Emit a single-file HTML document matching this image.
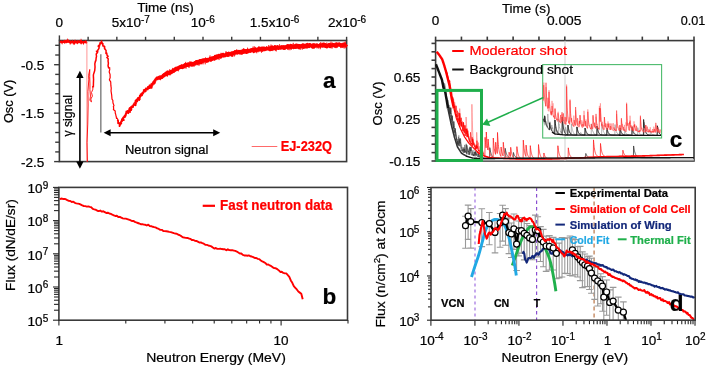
<!DOCTYPE html>
<html><head><meta charset="utf-8"><style>
html,body{margin:0;padding:0;background:#fff;width:708px;height:367px;overflow:hidden}
svg{display:block;will-change:transform}
text{font-family:"Liberation Sans", sans-serif;stroke:#000;stroke-width:0.22px}
</style></head><body>
<svg width="708" height="367" viewBox="0 0 708 367" font-family='"Liberation Sans", sans-serif'>
<rect width="708" height="367" fill="#fff"/>
<rect x="59.4" y="40.5" width="287.2" height="121.1" fill="none" stroke="#3a3a3a" stroke-width="1.6"/>
<line x1="59.4" y1="35.4" x2="59.4" y2="40.5" stroke="#3a3a3a" stroke-width="1.4" />
<line x1="88.12" y1="36.8" x2="88.12" y2="40.5" stroke="#3a3a3a" stroke-width="1.4" />
<line x1="116.84" y1="36.8" x2="116.84" y2="40.5" stroke="#3a3a3a" stroke-width="1.4" />
<line x1="145.56" y1="36.8" x2="145.56" y2="40.5" stroke="#3a3a3a" stroke-width="1.4" />
<line x1="174.28" y1="36.8" x2="174.28" y2="40.5" stroke="#3a3a3a" stroke-width="1.4" />
<line x1="203" y1="36.8" x2="203" y2="40.5" stroke="#3a3a3a" stroke-width="1.4" />
<line x1="231.72" y1="36.8" x2="231.72" y2="40.5" stroke="#3a3a3a" stroke-width="1.4" />
<line x1="260.44" y1="36.8" x2="260.44" y2="40.5" stroke="#3a3a3a" stroke-width="1.4" />
<line x1="289.16" y1="36.8" x2="289.16" y2="40.5" stroke="#3a3a3a" stroke-width="1.4" />
<line x1="317.88" y1="36.8" x2="317.88" y2="40.5" stroke="#3a3a3a" stroke-width="1.4" />
<line x1="346.6" y1="36.8" x2="346.6" y2="40.5" stroke="#3a3a3a" stroke-width="1.4" />
<line x1="54.1" y1="161.6" x2="59.4" y2="161.6" stroke="#3a3a3a" stroke-width="1.4" />
<line x1="55.2" y1="151.91" x2="59.4" y2="151.91" stroke="#3a3a3a" stroke-width="1.4" />
<line x1="55.2" y1="142.22" x2="59.4" y2="142.22" stroke="#3a3a3a" stroke-width="1.4" />
<line x1="55.2" y1="132.53" x2="59.4" y2="132.53" stroke="#3a3a3a" stroke-width="1.4" />
<line x1="55.2" y1="122.84" x2="59.4" y2="122.84" stroke="#3a3a3a" stroke-width="1.4" />
<line x1="54.1" y1="113.15" x2="59.4" y2="113.15" stroke="#3a3a3a" stroke-width="1.4" />
<line x1="55.2" y1="103.46" x2="59.4" y2="103.46" stroke="#3a3a3a" stroke-width="1.4" />
<line x1="55.2" y1="93.77" x2="59.4" y2="93.77" stroke="#3a3a3a" stroke-width="1.4" />
<line x1="55.2" y1="84.08" x2="59.4" y2="84.08" stroke="#3a3a3a" stroke-width="1.4" />
<line x1="55.2" y1="74.39" x2="59.4" y2="74.39" stroke="#3a3a3a" stroke-width="1.4" />
<line x1="54.1" y1="64.7" x2="59.4" y2="64.7" stroke="#3a3a3a" stroke-width="1.4" />
<line x1="55.2" y1="55.01" x2="59.4" y2="55.01" stroke="#3a3a3a" stroke-width="1.4" />
<line x1="55.2" y1="45.32" x2="59.4" y2="45.32" stroke="#3a3a3a" stroke-width="1.4" />
<text x="59.2" y="26.8" font-size="13.5" text-anchor="middle" fill="#000" font-weight="normal" style="stroke:#000" >0</text>
<text x="130.8" y="26.8" font-size="13.5" text-anchor="middle" fill="#000" font-weight="normal" style="stroke:#000" >5x10<tspan dy="-4.3" font-size="10">-7</tspan></text>
<text x="202.8" y="26.8" font-size="13.5" text-anchor="middle" fill="#000" font-weight="normal" style="stroke:#000" >10<tspan dy="-4.3" font-size="10">-6</tspan></text>
<text x="274.6" y="26.8" font-size="13.5" text-anchor="middle" fill="#000" font-weight="normal" style="stroke:#000" >1.5x10<tspan dy="-4.3" font-size="10">-6</tspan></text>
<text x="347" y="26.8" font-size="13.5" text-anchor="middle" fill="#000" font-weight="normal" style="stroke:#000" >2x10<tspan dy="-4.3" font-size="10">-6</tspan></text>
<text x="165.5" y="11.6" font-size="13.5" text-anchor="middle" fill="#000" font-weight="normal" textLength="56.5" lengthAdjust="spacingAndGlyphs" style="stroke:#000" >Time (ns)</text>
<text x="44.4" y="69.8" font-size="13.5" text-anchor="end" fill="#000" font-weight="normal" textLength="23.4" lengthAdjust="spacingAndGlyphs" style="stroke:#000" >-0.5</text>
<text x="44.4" y="118.1" font-size="13.5" text-anchor="end" fill="#000" font-weight="normal" textLength="23.4" lengthAdjust="spacingAndGlyphs" style="stroke:#000" >-1.5</text>
<text x="44.4" y="166.5" font-size="13.5" text-anchor="end" fill="#000" font-weight="normal" textLength="23.4" lengthAdjust="spacingAndGlyphs" style="stroke:#000" >-2.5</text>
<text transform="translate(13.3,101.4) rotate(-90)" font-size="13.5" text-anchor="middle" textLength="43.4" lengthAdjust="spacingAndGlyphs">Osc (V)</text>
<polyline points="59.9,42 60.2,42.13 60.5,41.88 60.8,41.6 61.1,41.8 61.4,41.55 61.7,42.03 62,42.6 62.3,41.78 62.6,41.72 62.9,42.22 63.2,42.16 63.5,42.05 63.8,41.58 64.1,41.99 64.4,42.31 64.7,41.4 65,41.79 65.3,41.14 65.6,41.42 65.9,41.17 66.2,41.89 66.5,41.43 66.8,42.12 67.1,42.07 67.4,41.92 67.7,40.92 68,41.76 68.3,41.98 68.6,42.05 68.9,41.31 69.2,41.79 69.5,41.56 69.8,41.64 70.1,42.48 70.4,41.64 70.7,41.99 71,42.4 71.3,41.74 71.6,41.95 71.9,42.05 72.2,42.03 72.5,41.45 72.8,42.03 73.1,42.61 73.4,41.3 73.7,42.39 74,42.05 74.3,41.71 74.6,42.9 74.9,42.34 75.2,41.46 75.5,42.03 75.8,42.26 76.1,41.92 76.4,42.31 76.7,41.97 77,42.3 77.3,42.65 77.6,41.7 77.9,42.09 78.2,41.79 78.5,42.06 78.8,41.47 79.1,41.74 79.4,41.91 79.7,42.4 80,42.52 80.3,41.4 80.6,41.64 80.9,42.29 81.2,41.1 81.5,41.79 81.8,41.96 82.1,42.57 82.4,42.31 82.7,41.85 83,41.83 83.3,41.89 83.6,42.69 83.9,41.81 84.2,41.86 84.5,42.16 84.8,41.95 85.1,41.91 85.4,41.5 85.7,41.99 86,41.8 86.3,42.52 86.6,42.29 86.9,41.99" fill="none" stroke="#f00" stroke-width="1.8"/>
<line x1="86.9" y1="42" x2="86.9" y2="162" stroke="#f44" stroke-width="0.8" opacity="0.7"/>
<polyline points="87.43,161.7 87.03,142.5 87.76,124.07 88.12,105 87.93,91.38 88.82,79.9 88.61,75.25 89.74,69.49 89.69,76.39 89.94,83.91 89.93,89.73 90.45,96.05 89.9,100.1 90.59,101.32 91.56,101.81 90.8,99.06 92.38,96.15 91.51,92.52 92.94,89.08 92.52,85.99" fill="none" stroke="#f00" stroke-width="0.9" stroke-linejoin="round"/>
<polyline points="93.33,87.51 93.41,83.66 93.57,78.99 93.45,77.93 93.38,74.87 94.73,70.45 95.03,67.07 94.84,63.94 95.44,61.02 95.85,60.88 96.17,57.77 96.51,56.36 96.19,53.97 97.38,52.77 96.44,51.14 97.69,52.07 97.82,49.84 98.29,49.64 99.05,48.11 99.17,46.94 98.28,46.64 98.34,45.85 99.77,45.71 99.24,44.85 99.99,44.38 100.68,42.98 99.86,42.91 100,44.32 101.32,41.86 101.52,40.96 101.69,42.34 102.12,43.91 102.01,42.34 102.02,43.8 102.93,43.92 102.86,43.48 102.86,45.99 104.13,45.98 104.17,46.66 104.68,46.6 104.35,48.16 104.8,48.09 104.95,49.37 105.3,49.55 106.09,50.43 105.95,53.43 106.76,53.08 107.05,55.16 108.1,56.34 106.87,57.46 108.2,58.85 108.06,61.2 108.39,63.04 108.05,65.75 108.79,68.47" fill="none" stroke="#f00" stroke-width="1.5" stroke-linejoin="round"/>
<polyline points="109.57,67.1 109.76,69.28 109.19,71.95 110.05,74.34 110.17,77.67 109.4,79.82 110.71,81.8 110.87,85.68 111.24,88.11 111.02,90.93 111.68,95.08 112.02,99.18 112.93,100.53 112.85,101.36 113,102.99 113.99,105.62 113.35,106.59 113.72,108.03 113.38,109.47 115.21,111.02 115.23,112.96 115.51,113.7 115.7,114.4 115.75,114.57 116.1,116.35 116.19,116.54 116.51,118.47 116.92,117.97 117.88,119.53 117.75,120.4 117.77,120.21" fill="none" stroke="#f00" stroke-width="1.2" stroke-linejoin="round"/>
<polyline points="117.25,120.08 118.07,120.63 118.1,123.24 118.16,122.86 119.06,123.06 119.03,123.29 119.67,123.2 119.68,124.74 119.51,126.19 120.25,124.42 120.62,123.96 121.33,123.34 120.79,123.02 121.48,120.85 121.03,121.47 122.39,120.29 121.91,121.25 121.89,119.12 122.97,119.73 123.8,120.06 122.91,117.88 123.41,117.12 123.87,117.34 123.99,116.66 124.97,115.26 124.74,116.09 125.08,117.02 125.96,114.43 125.66,113.98 126.49,112.7 126.16,113.46 126.35,111.52 126.37,111.28 128.34,113.18 127.66,110.86 128.21,112.4 128.39,112.51 128.77,111.04 129.02,111.01 130.16,112.01 129.13,109.72 129.2,109.05 129.74,108.04 129.9,109.04 131.14,110.08 131.47,109.24 130.97,107.1 131.07,106.8 131.84,106.75 132.93,107.12 131.7,106.28 133.14,106.3 132.72,106 133.97,105.07 133.31,104.94 133.97,104.79 133.72,104.15 134.26,104.32 135.62,105.24 135.67,103.66 135.42,102.78 135.51,100.76 135.35,102.33 136.32,99.73 136.79,99.83 137.06,101.57 137.36,101.03 137.2,99.82 137.97,97.94 138.28,98.8 139.18,98.11 139.74,98.96 139.14,100.1 139.16,97.76 139.77,96.41 139.83,95.63 140.07,96.29 140.67,95.78 140.53,94.45 141.57,95.26 141.55,93.64 142.01,95.41 142.12,94.96 142.17,94.58 142.37,92.68 142.99,93.23 143.15,92.21 143.81,91.56 144,91.31 143.69,90.13 144.63,89.74 144.3,91.65 144.92,90.45 145.37,90.59 144.9,91.1 146.14,88.21 146.47,88.87 146.63,89.55 146.81,89.51 147.13,88.52 147.16,89.63 147.78,88.59 147.95,86.95 148.54,86.98 148.26,88.42 149.21,87.84 149.46,85.28 149.64,88.2 149.8,87.22 150.55,87.7 149.85,85.76 151.11,85.59 151.31,84.53 151.63,87.83 151.97,84.88 151.81,86.23 152.28,83.66 152.99,84.09 153.19,81.91 153.39,82.8 152.92,83.77 154.14,81.19 154.73,83.11 154.95,82.01 154.91,80.27 154.4,80.43 155.82,80.1 155.63,80.13 155.1,79.27 156.47,78.6 155.93,78.75 156.32,77.75 156.91,77.39 158.07,78.52 157.63,79.34 158.22,76.84 159.19,78.27 159.42,77.52 158.95,77.09 159.19,78.82 159.03,77.35 159.59,79.26" fill="none" stroke="#f00" stroke-width="1.8" stroke-linejoin="round"/>
<polyline points="159.5,78.11 159.8,78 160.1,77.76 160.4,78.1 160.7,77.11 161,77.29 161.3,77.51 161.6,77.26 161.9,77.33 162.2,76.81 162.5,76.28 162.8,76.44 163.1,75.57 163.4,75.07 163.7,76.01 164,75.51 164.3,75.52 164.6,74.32 164.9,74.82 165.2,74.52 165.5,74.21 165.8,73.32 166.1,74.12 166.4,74.57 166.7,74.13 167,73.45 167.3,73.59 167.6,73.84 167.9,72.01 168.2,73.09 168.5,73.28 168.8,73.2 169.1,73.58 169.4,73.14 169.7,72.56 170,72.41 170.3,72.51 170.6,71.67 170.9,71.78 171.2,72.12 171.5,72.52 171.8,71.27 172.1,71.17 172.4,71.15 172.7,71.6 173,70.73 173.3,71.37 173.6,69.94 173.9,70.2 174.2,70.05 174.5,70.41 174.8,70.4 175.1,68.9 175.4,69.06 175.7,69.57 176,68.89 176.3,68.28 176.6,69.48 176.9,69.04 177.2,68.89 177.5,68.22 177.8,68.87 178.1,68.04 178.4,68.6 178.7,67.38 179,67.25 179.3,67.67 179.6,67.03 179.9,67.61 180.2,67.27 180.5,66.54 180.8,66.97 181.1,66.64 181.4,67.22 181.7,66.28 182,66.28 182.3,67.07 182.6,67.52 182.9,67.29 183.2,66.15 183.5,66.13 183.8,66.74 184.1,65.74 184.4,65.18 184.7,65.67 185,65.74 185.3,64.97 185.6,64.46 185.9,64.49 186.2,65.56 186.5,64.71 186.8,64.97 187.1,65.09 187.4,65.24 187.7,64.64 188,65.02 188.3,64.19 188.6,64.4 188.9,63.96 189.2,65.07 189.5,64.36 189.8,63.89 190.1,64.03 190.4,64.03 190.7,64.46 191,63.12 191.3,63.35 191.6,63.64 191.9,65.16 192.2,64.23 192.5,63.56 192.8,63.95 193.1,64.62 193.4,63.27 193.7,63.12 194,63.93 194.3,63.45 194.6,63.47 194.9,62.74 195.2,64.03 195.5,63.84 195.8,63.13 196.1,63.13 196.4,61.54 196.7,62.97 197,62.43 197.3,62.72 197.6,62.79 197.9,62.14 198.2,61.31 198.5,62.4 198.8,61.71 199.1,61.87 199.4,61.65 199.7,61.73 200,60.54 200.3,62.47 200.6,61.86 200.9,62.28 201.2,62.7 201.5,61.52 201.8,60.41 202.1,60.86 202.4,60.61 202.7,60.94 203,61.21 203.3,59.94 203.6,61.22 203.9,60.09 204.2,61.05 204.5,60.75 204.8,60.57 205.1,60.63 205.4,60.26 205.7,60.13 206,59.42 206.3,60.28 206.6,61.27 206.9,61.26 207.2,60.78 207.5,60.33 207.8,59.44 208.1,60.58 208.4,59.61 208.7,59.51 209,59.29 209.3,59.42 209.6,59.02 209.9,59.13 210.2,58.45 210.5,58.78 210.8,60.24 211.1,58.77 211.4,58.58 211.7,58.94 212,58.95 212.3,57.78 212.6,58.22 212.9,58.79 213.2,58.32 213.5,58.14 213.8,58.89 214.1,57.48 214.4,57.83 214.7,57.39 215,58.48 215.3,56.36 215.6,57.05 215.9,57.05 216.2,57.68 216.5,57.57 216.8,57.96 217.1,56.12 217.4,57.42 217.7,56.72 218,56.42 218.3,57.06 218.6,56.11 218.9,55.34 219.2,56.29 219.5,55.53 219.8,55.96 220.1,56.5 220.4,56.38 220.7,57.07 221,55.92 221.3,55.04 221.6,55.43 221.9,55.25 222.2,55 222.5,55.91 222.8,55.18 223.1,54.31 223.4,55.83 223.7,55.27 224,55.47 224.3,55.25 224.6,55.48 224.9,55.05 225.2,55.7 225.5,55.15 225.8,55.08 226.1,55.03 226.4,53.85 226.7,54.56 227,54.44 227.3,54.66 227.6,53.66 227.9,55.4 228.2,54.42 228.5,53.57 228.8,53.21 229.1,54.01 229.4,54.07 229.7,53.63 230,54.06 230.3,53.56 230.6,54.21 230.9,53.39 231.2,53.74 231.5,54.29 231.8,55.14 232.1,52.98 232.4,53.24 232.7,52.96 233,53.87 233.3,52.65 233.6,52.99 233.9,53.2 234.2,52.57 234.5,52.53 234.8,52.75 235.1,51.72 235.4,52.05 235.7,52.61 236,52.89 236.3,52.63 236.6,51.62 236.9,52.34 237.2,53.04 237.5,52.83 237.8,52.39 238.1,51.85 238.4,52.7 238.7,51.91 239,51.5 239.3,51.66 239.6,52.95 239.9,52.15 240.2,52.67 240.5,51.64 240.8,52.45 241.1,51.49 241.4,51.71 241.7,53.25 242,52.18 242.3,51.38 242.6,51.59 242.9,51.79 243.2,52.28 243.5,51.22 243.8,50.42 244.1,51.26 244.4,51.39 244.7,51.41 245,52.09 245.3,51.45 245.6,51.7 245.9,50.51 246.2,51.65 246.5,52.35 246.8,51.51 247.1,51.16 247.4,51.06 247.7,51.99 248,50.32 248.3,50.77 248.6,51.07 248.9,51.2 249.2,50.45 249.5,50.85 249.8,50.46 250.1,50.66 250.4,50.46 250.7,49.82 251,50.45 251.3,50.94 251.6,49.8 251.9,50.19 252.2,50.69 252.5,49.61 252.8,50.32 253.1,49.53 253.4,50.8 253.7,51.47 254,51.25 254.3,49.87 254.6,50.4 254.9,49.99 255.2,49.93 255.5,50.76 255.8,49 256.1,50.38 256.4,49.67 256.7,50.51 257,49.73 257.3,49.17 257.6,49.7 257.9,49.94 258.2,49.47 258.5,49.7 258.8,49.05 259.1,48.05 259.4,49.82 259.7,49.66 260,49.29 260.3,49.22 260.6,49.77 260.9,48.85 261.2,48.67 261.5,48.96 261.8,49.76 262.1,48.19 262.4,49.71 262.7,48.59 263,48.28 263.3,49.68 263.6,48.84 263.9,48.09 264.2,48.63 264.5,49.38 264.8,49.51 265.1,48.51 265.4,48.98 265.7,49.14 266,48.3 266.3,48.88 266.6,48.62 266.9,48.29 267.2,48.29 267.5,48.6 267.8,48.55 268.1,48.17 268.4,48.23 268.7,49.13 269,48.56 269.3,48.94 269.6,49.11 269.9,48.71 270.2,49.7 270.5,47.81 270.8,48.77 271.1,48.07 271.4,49.34 271.7,49.23 272,47.01 272.3,47.57 272.6,48.53 272.9,48.58 273.2,48.52 273.5,48.01 273.8,48.3 274.1,48.39 274.4,47.93 274.7,48.57 275,46.57 275.3,48.28 275.6,47.25 275.9,48.42 276.2,47.69 276.5,47.26 276.8,48 277.1,47.2 277.4,47.17 277.7,46.76 278,47.65 278.3,47.94 278.6,48.23 278.9,47.51 279.2,48.2 279.5,47.55 279.8,47.46 280.1,47.84 280.4,48.11 280.7,47.24 281,47.28 281.3,47.31 281.6,47.43 281.9,46.82 282.2,47.96 282.5,47.08 282.8,47.57 283.1,46.78 283.4,47.47 283.7,47.46 284,46.95 284.3,48.4 284.6,47.39 284.9,48.21 285.2,47.69 285.5,46.7 285.8,46.85 286.1,47.31 286.4,47.07 286.7,47.04 287,46.81 287.3,45.88 287.6,46.81 287.9,45.59 288.2,47.12 288.5,46.44 288.8,46.43 289.1,46.7 289.4,46.97 289.7,45.93 290,45.72 290.3,46.11 290.6,45.5 290.9,46.12 291.2,47.63 291.5,46.02 291.8,47.03 292.1,45.79 292.4,46.77 292.7,46.38 293,46.51 293.3,46.87 293.6,47.56 293.9,46.6 294.2,46.53 294.5,45.85 294.8,46.76 295.1,46.25 295.4,46.88 295.7,46.35 296,47.41 296.3,45.16 296.6,46.16 296.9,46.86 297.2,46.11 297.5,45.83 297.8,46.14 298.1,45.46 298.4,46.35 298.7,47.73 299,46.94 299.3,45.58 299.6,45.71 299.9,45.98 300.2,46.82 300.5,45.71 300.8,45.78 301.1,46.71 301.4,46.69 301.7,45.93 302,45.48 302.3,45.21 302.6,45.71 302.9,44.78 303.2,46.55 303.5,45.72 303.8,46.37 304.1,47.19 304.4,46.77 304.7,45.36 305,46.56 305.3,46.72 305.6,45.57 305.9,45.44 306.2,45.93 306.5,45.03 306.8,46.86 307.1,44.52 307.4,45.29 307.7,45.78 308,45.8 308.3,46.02 308.6,46.07 308.9,45.77 309.2,46.57 309.5,44.59 309.8,45.87 310.1,45.43 310.4,45.93 310.7,45.97 311,45.28 311.3,45.43 311.6,46.28 311.9,46 312.2,45.37 312.5,46.99 312.8,47.14 313.1,44.87 313.4,45.92 313.7,47.23 314,46.19 314.3,45.84 314.6,45.57 314.9,45.36 315.2,45.55 315.5,45.33 315.8,46.1 316.1,45.4 316.4,45.36 316.7,44.9 317,45.58 317.3,45.06 317.6,45.48 317.9,46.2 318.2,45.78 318.5,45.86 318.8,45.76 319.1,45.57 319.4,45.45 319.7,45.33 320,45.96 320.3,44.84 320.6,46.29 320.9,45.5 321.2,45.03 321.5,45.18 321.8,45.06 322.1,45.56 322.4,45.02 322.7,46.14 323,44.98 323.3,44.08 323.6,44.99 323.9,44.22 324.2,45.4 324.5,46.05 324.8,45.8 325.1,44.6 325.4,44.94 325.7,46.46 326,45.58 326.3,45.39 326.6,46.01 326.9,46.84 327.2,46.14 327.5,45.44 327.8,45.57 328.1,45.72 328.4,44.98 328.7,44.7 329,45.36 329.3,44.76 329.6,45.29 329.9,45.37 330.2,46.72 330.5,44.79 330.8,45.23 331.1,45.2 331.4,45.55 331.7,45.91 332,44.98 332.3,44.78 332.6,44.28 332.9,44.71 333.2,45.58 333.5,45.28 333.8,44.64 334.1,45.02 334.4,45.25 334.7,45.53 335,44.87 335.3,45.07 335.6,44.12 335.9,44.51 336.2,46.17 336.5,43.88 336.8,44.99 337.1,45.31 337.4,44.95 337.7,44.69 338,45.13 338.3,45.16 338.6,45.11 338.9,44.02 339.2,45.06 339.5,44.63 339.8,44.8 340.1,45.26 340.4,45.51 340.7,45.65 341,44.81 341.3,45.66 341.6,45.8 341.9,45.78 342.2,45.92 342.5,45 342.8,44.97 343.1,45.57 343.4,44.25 343.7,45.19 344,44.74 344.3,44.83 344.6,44 344.9,44.5 345.2,45.02 345.5,45.56 345.8,45.62 346.1,44.97 346.4,44.9 346.7,44.51" fill="none" stroke="#f00" stroke-width="3.2" stroke-linejoin="round"/>
<polyline points="125,116.2 125.25,115.19 125.5,115.55 125.75,116.17 126,114.14 126.25,112.38 126.5,112.54 126.75,111.58 127,111.4 127.25,113.46 127.5,112.21 127.75,110.33 128,112.11 128.25,112.43 128.5,110.66 128.75,110.11 129,110.18 129.25,110.52 129.5,110.61 129.75,110.88 130,110.66 130.25,110.39 130.5,110.31 130.75,109.39 131,106.99 131.25,108.04 131.5,108.16 131.75,107.16 132,108.12 132.25,106.56 132.5,105.69 132.75,107.72 133,106.64 133.25,105.88 133.5,106.27 133.75,106.1 134,105.07 134.25,102.1 134.5,103.42 134.75,103.33 135,102.48 135.25,103.36 135.5,104.07 135.75,102.04 136,101.06 136.25,103.99 136.5,101.1 136.75,99.96 137,101.14 137.25,101 137.5,99.49 137.75,100.72 138,99.05 138.25,98.25 138.5,99.08 138.75,99.37 139,97.55 139.25,98.24 139.5,97.45 139.75,99.68 140,96.12 140.25,98.04 140.5,96.16 140.75,95.74 141,96.33 141.25,96.18 141.5,96.26 141.75,94.9 142,93.55 142.25,93.28 142.5,94.1 142.75,93.85 143,94.42 143.25,93 143.5,93.38 143.75,93.56 144,91.82 144.25,89.76 144.5,89.89 144.75,89.39 145,92.6 145.25,89.63 145.5,91.78 145.75,90.84 146,91.92 146.25,90.9 146.5,89.43 146.75,89.11 147,89.23 147.25,89.13 147.5,88.1 147.75,88.47 148,90.17 148.25,86.11 148.5,88.19 148.75,86.61 149,87.69 149.25,88.25 149.5,86.98 149.75,87.76 150,84.75 150.25,87.74 150.5,85.5 150.75,86.75 151,86.02 151.25,82.83 151.5,84.47 151.75,85.38 152,86.68 152.25,84.84 152.5,84.49 152.75,82.14 153,85.3 153.25,85.45 153.5,82.96 153.75,82.34 154,80.31 154.25,83.08 154.5,84.52 154.75,82.25 155,82.62 155.25,81.41 155.5,79.2 155.75,81.79 156,78.25 156.25,79.22 156.5,79.53 156.75,79.98 157,79.26 157.25,79.14 157.5,77.6 157.75,76.84 158,78.48 158.25,77.41 158.5,76.56 158.75,76.52 159,77.44 159.25,75.59 159.5,76.16 159.75,75.7 160,77.97 160.25,78.18 160.5,80.18 160.75,75.52 161,76.43 161.25,78.37 161.5,76.74 161.75,76.45 162,78.98 162.25,76.13 162.5,74.91 162.75,74.54 163,76.58 163.25,76.39 163.5,74.02 163.75,74.38 164,76.25 164.25,76.16 164.5,74.39 164.75,75.93 165,75.71 165.25,72.41 165.5,74.23 165.75,75.06 166,73.58 166.25,71.32 166.5,73.67 166.75,74.92 167,75.9 167.25,70.66 167.5,76.62 167.75,71.84 168,74.55 168.25,74.81 168.5,74.34 168.75,73.08 169,71.16 169.25,73.48 169.5,71.52 169.75,69.22 170,75.41 170.25,73.1 170.5,74.51 170.75,70.62 171,73.78 171.25,73.83 171.5,73.65 171.75,71.35 172,69.58 172.25,70.88 172.5,67.93 172.75,68.5 173,70.88 173.25,69.24 173.5,70.27 173.75,70.22 174,72.96 174.25,71.95 174.5,69.94 174.75,71.58 175,68.65 175.25,69.15 175.5,70.78 175.75,67.61 176,68.84 176.25,67.23 176.5,69.15 176.75,71.18 177,67.66 177.25,68.92 177.5,67.19 177.75,66.7 178,66.45 178.25,70.18 178.5,71.27 178.75,68.53 179,66.68 179.25,68.6 179.5,66.97 179.75,68.49 180,67.62 180.25,67.52 180.5,67.91 180.75,66.1 181,66.27 181.25,64.26 181.5,66.04 181.75,64.52 182,66.31 182.25,65.03 182.5,66.5 182.75,66.93 183,64.09 183.25,64.9 183.5,64.62 183.75,67.03 184,68.37 184.25,67.02 184.5,65.15 184.75,67.76 185,63.25 185.25,67.67 185.5,64.4 185.75,61.88 186,68.69 186.25,67.55 186.5,63.58 186.75,65.32 187,64.68 187.25,65.09 187.5,62.64 187.75,63.78 188,65.46 188.25,65.02 188.5,66.44 188.75,64.68 189,67.99 189.25,63.35 189.5,64.77 189.75,61.39 190,62.34 190.25,66.22 190.5,62.68 190.75,64.87 191,63.91 191.25,62.33 191.5,63.34 191.75,63.02 192,63 192.25,64.85 192.5,64.63 192.75,62.67 193,62.1 193.25,63.87 193.5,63.22 193.75,64.91 194,66.83 194.25,64.5 194.5,63.07 194.75,62.79 195,61.66 195.25,61.52 195.5,61.31 195.75,62.21 196,62.1 196.25,63.88 196.5,62.03 196.75,62.29 197,60.62 197.25,65.08 197.5,63.23 197.75,65.2 198,63.57 198.25,64.62 198.5,61.8 198.75,63.28 199,65.74 199.25,60.07 199.5,63.84 199.75,64.62 200,62.52 200.25,63.02 200.5,63.78 200.75,60.61 201,62.29 201.25,60.14 201.5,60.4 201.75,60.44 202,61.16 202.25,61.57 202.5,62.02 202.75,58.9 203,64.4 203.25,63 203.5,62.23 203.75,60.4 204,60.78 204.25,61.77 204.5,61.49 204.75,58 205,61.91 205.25,64.3 205.5,57.52 205.75,62.1 206,61 206.25,60.13 206.5,62.49 206.75,58.22 207,60.35 207.25,62.41 207.5,59.6 207.75,59.16 208,59.96 208.25,58.96 208.5,62.16 208.75,58.05 209,60.9 209.25,57.32 209.5,60.41 209.75,59.06 210,55.47 210.25,59.06 210.5,57.24 210.75,58.19 211,61.37 211.25,56.92 211.5,56.94 211.75,60.98 212,58.72 212.25,60.99 212.5,58.91 212.75,56.85 213,58.11 213.25,60.17 213.5,59.61 213.75,57.99 214,57.99 214.25,57.65 214.5,56.8 214.75,60.85 215,57.61 215.25,55.67 215.5,56.69 215.75,58.6 216,58.4 216.25,57.05 216.5,56.11 216.75,57.18 217,54.33 217.25,54.87 217.5,58.26 217.75,56.1 218,57.44 218.25,58.76 218.5,57.76 218.75,56.66 219,60.06 219.25,57.59 219.5,55.85 219.75,57.57 220,56.97 220.25,54.83 220.5,56.29 220.75,55.83 221,52.81 221.25,55.69 221.5,55.44 221.75,55.12 222,53.07 222.25,55.13 222.5,55.58 222.75,55.75 223,53.65 223.25,56.5 223.5,53.39 223.75,54.96 224,57.41 224.25,54.06 224.5,54.29 224.75,56.83 225,54.37 225.25,54.46 225.5,55.26 225.75,56.58 226,51.18 226.25,53.39 226.5,53.04 226.75,52.87 227,53.2 227.25,53.17 227.5,54.99 227.75,52.99 228,54.6 228.25,55.01 228.5,53.1 228.75,54.46 229,56.88 229.25,54.68 229.5,53.06 229.75,53.94 230,52.5 230.25,54.39 230.5,55.31 230.75,52.51 231,53.46 231.25,55.57 231.5,52.89 231.75,53.96 232,51.93 232.25,52.21 232.5,52.66 232.75,56.93 233,52.75 233.25,52.5 233.5,52.4 233.75,52.99 234,54.25 234.25,53.45 234.5,56.39 234.75,53.39 235,55.32 235.25,53.39 235.5,53.87 235.75,50.54 236,52.6 236.25,52.64 236.5,52.31 236.75,49.21 237,54.01 237.25,51.93 237.5,51.8 237.75,52.04 238,52.04 238.25,53 238.5,50.27 238.75,50.76 239,52.67 239.25,52.38 239.5,51.5 239.75,51.13 240,50.66 240.25,51.87 240.5,53.82 240.75,50.2 241,54.3 241.25,53.18 241.5,51.07 241.75,53.01 242,49.37 242.25,48.91 242.5,49.59 242.75,50.96 243,51.06 243.25,50.72 243.5,51.67 243.75,48.06 244,52.23 244.25,49.13 244.5,50.31 244.75,50.67 245,49.45 245.25,49.07 245.5,49.62 245.75,51.18 246,52.1 246.25,52.03 246.5,49.5 246.75,49.79 247,49.55 247.25,51.7 247.5,47.69 247.75,52.9 248,50.1 248.25,49.59 248.5,51.35 248.75,52.43 249,51.29 249.25,52.39 249.5,50.88 249.75,52.6 250,52.59 250.25,50.41 250.5,52.83 250.75,50.76 251,50.6 251.25,48.95 251.5,49.93 251.75,51.6 252,48.22 252.25,51.32 252.5,50.81 252.75,50.66 253,46.65 253.25,49.98 253.5,51.15 253.75,48.85 254,50.18 254.25,46.33 254.5,51.04 254.75,48.88 255,51.29 255.25,46.92 255.5,50.94 255.75,49.42 256,51.05 256.25,48.24 256.5,48.7 256.75,53.24 257,48.29 257.25,48.46 257.5,49.11 257.75,47.88 258,51.38 258.25,52.21 258.5,48.28 258.75,46.61 259,51.22 259.25,51.08 259.5,50.58 259.75,51.09 260,47.81 260.25,48.91 260.5,46.94 260.75,46.87 261,50.68 261.25,48.02 261.5,52.72 261.75,49.17 262,48.01 262.25,50.29 262.5,51.87 262.75,49.74 263,47 263.25,49.52 263.5,51.1 263.75,48.09 264,47.62 264.25,50.47 264.5,49.04 264.75,47.03 265,48.17 265.25,47.54 265.5,49.21 265.75,48.89 266,50.53 266.25,49.8 266.5,46.15 266.75,49.28 267,50.04 267.25,49.31 267.5,50.21 267.75,47.66 268,47 268.25,49.99 268.5,46.77 268.75,45 269,50.08 269.25,47.26 269.5,47.9 269.75,46.13 270,46.23 270.25,46.48 270.5,47.73 270.75,48.88 271,44.59 271.25,49.45 271.5,46.33 271.75,46.5 272,49.26 272.25,48.04 272.5,45.68 272.75,51.07 273,46.72 273.25,48.47 273.5,48.37 273.75,50.29 274,47.28 274.25,49.6 274.5,46.78 274.75,49.74 275,46.7 275.25,47.32 275.5,50.92 275.75,48.37 276,48.02 276.25,51.41 276.5,48.38 276.75,46.47 277,48.93 277.25,45.84 277.5,49.52 277.75,49.62 278,46.75 278.25,46.64 278.5,47.91 278.75,47.63 279,46.02 279.25,48.47 279.5,44.28 279.75,46.83 280,46.85 280.25,47.04 280.5,47.95 280.75,45.48 281,48.37 281.25,47.12 281.5,46.35 281.75,45.18 282,45.46 282.25,47.91 282.5,45.77 282.75,47.4 283,48.98 283.25,48.91 283.5,49.74 283.75,46.75 284,45.47 284.25,48.82 284.5,47.67 284.75,48.95 285,47.15 285.25,49.03 285.5,48.45 285.75,48.22 286,47.87 286.25,47.68 286.5,47.4 286.75,47.37 287,48.57 287.25,46.15 287.5,49.73 287.75,46.76 288,48.49 288.25,46.75 288.5,46.48 288.75,50.11 289,46.35 289.25,44.78 289.5,45.66 289.75,46.28 290,50.21 290.25,47.08 290.5,48.23 290.75,45.11 291,47.26 291.25,47.75 291.5,49.54 291.75,45.52 292,47.59 292.25,47.09 292.5,44.95 292.75,46.53 293,46.13 293.25,42.85 293.5,47.47 293.75,47.36 294,45.77 294.25,44.31 294.5,48.8 294.75,46.84 295,48.03 295.25,48.65 295.5,45.55 295.75,47.67 296,45.98 296.25,46.25 296.5,46.21 296.75,46.33 297,48.11 297.25,46.52 297.5,46.06 297.75,45.86 298,46.84 298.25,44.85 298.5,45.47 298.75,46.18 299,45.35 299.25,46.06 299.5,45.26 299.75,49.44 300,48.35 300.25,46.93 300.5,46.12 300.75,49.7 301,46.7 301.25,46.04 301.5,46.65 301.75,46.65 302,48.4 302.25,46.11 302.5,49.49 302.75,44.71 303,47.22 303.25,44.5 303.5,49 303.75,45.56 304,45.98 304.25,47.55 304.5,48.07 304.75,44.27 305,45.49 305.25,43.8 305.5,46.24 305.75,45.85 306,45.45 306.25,44.9 306.5,45.37 306.75,44.78 307,46.81 307.25,48.38 307.5,42.86 307.75,45.76 308,45.26 308.25,46.71 308.5,44.39 308.75,45.67 309,44.23 309.25,47 309.5,46.04 309.75,45.61 310,46.45 310.25,45.46 310.5,43.36 310.75,46.79 311,46.29 311.25,45.57 311.5,47.38 311.75,47.75 312,44.04 312.25,44.53 312.5,48.25 312.75,48.03 313,44.57 313.25,43.85 313.5,44.71 313.75,44.93 314,43.18 314.25,45.76 314.5,43.65 314.75,43.75 315,47.15 315.25,44.58 315.5,45.55 315.75,46.66 316,46.95 316.25,45.1 316.5,45.7 316.75,44.3 317,48.4 317.25,46.64 317.5,43.82 317.75,45.59 318,46.71 318.25,46.33 318.5,48.48 318.75,47.74 319,44.67 319.25,45.38 319.5,43.47 319.75,45.91 320,45.74 320.25,49.18 320.5,45.65 320.75,42.14 321,44.41 321.25,45.66 321.5,43.46 321.75,44.08 322,44.88 322.25,46.01 322.5,45.19 322.75,44.03 323,46.7 323.25,44.58 323.5,44.64 323.75,43.22 324,44.17 324.25,46.46 324.5,42.83 324.75,45.3 325,46.56 325.25,44.8 325.5,45.78 325.75,43.61 326,47.49 326.25,47.15 326.5,45.76 326.75,42.57 327,43.7 327.25,46.93 327.5,48.1 327.75,45.83 328,47.35 328.25,44.37 328.5,45.04 328.75,45.34 329,46.01 329.25,42.88 329.5,46.83 329.75,47.44 330,43.48 330.25,43.14 330.5,45.87 330.75,44.25 331,41.62 331.25,46.59 331.5,45.54 331.75,44.52 332,48.66 332.25,45.5 332.5,44.06 332.75,45.43 333,43.6 333.25,44.04 333.5,45.87 333.75,44.36 334,44.52 334.25,47.91 334.5,46.61 334.75,46.51 335,46.07 335.25,45.99 335.5,47.54 335.75,45.18 336,48.17 336.25,43.68 336.5,44.79 336.75,42.98 337,44.64 337.25,46.01 337.5,47.5 337.75,44.11 338,45.18 338.25,44.59 338.5,43.98 338.75,43.25 339,45.25 339.25,42.37 339.5,45.32 339.75,45.17 340,44.08 340.25,43.51 340.5,42.91 340.75,48.11 341,42.96 341.25,47.6 341.5,46.06 341.75,44.51 342,43.24 342.25,46.76 342.5,47.85 342.75,43.58 343,44.6 343.25,46.75 343.5,45.6 343.75,48.26 344,44.14 344.25,45.92 344.5,43.04 344.75,48.4 345,43.87 345.25,41.5 345.5,44.83 345.75,44.8 346,48.08 346.25,44.47 346.5,44.99 346.75,45.95" fill="none" stroke="#f00" stroke-width="0.6"/>
<line x1="100.8" y1="54.3" x2="100.8" y2="132.6" stroke="#8c8c8c" stroke-width="1.6" />
<line x1="79.9" y1="76" x2="79.9" y2="163" stroke="#000" stroke-width="1.6" />
<polygon points="79.9,70.7 76.2,78 83.6,78" fill="#000"/>
<polygon points="79.9,168.7 76.2,161.4 83.6,161.4" fill="#000"/>
<text transform="translate(72.4,115.8) rotate(-90)" font-size="12.4" text-anchor="middle" textLength="41.6" lengthAdjust="spacingAndGlyphs">γ signal</text>
<line x1="109" y1="132.7" x2="214" y2="132.7" stroke="#000" stroke-width="1.6" />
<polygon points="103.6,132.7 110.6,129.2 110.6,136.2" fill="#000"/>
<polygon points="220.2,132.7 213.2,129.2 213.2,136.2" fill="#000"/>
<text x="124.9" y="153.8" font-size="12.5" text-anchor="start" fill="#000" font-weight="normal" textLength="83.4" lengthAdjust="spacingAndGlyphs" style="stroke:#000" >Neutron signal</text>
<line x1="251.7" y1="146.5" x2="277.3" y2="146.5" stroke="#f44" stroke-width="0.8" />
<text x="280.7" y="150.8" font-size="14.2" text-anchor="start" fill="#f00" font-weight="bold" textLength="51.3" lengthAdjust="spacingAndGlyphs" style="stroke:#f00" >EJ-232Q</text>
<text x="323" y="87.9" font-size="22.5" text-anchor="start" fill="#000" font-weight="bold" style="stroke:#000" >a</text>
<rect x="58.9" y="187.4" width="288.6" height="132.8" fill="none" stroke="#3a3a3a" stroke-width="1.6"/>
<line x1="53" y1="320.2" x2="58.9" y2="320.2" stroke="#262626" stroke-width="1.1" />
<line x1="54" y1="310.21" x2="58.9" y2="310.21" stroke="#262626" stroke-width="1.1" />
<line x1="54" y1="304.36" x2="58.9" y2="304.36" stroke="#262626" stroke-width="1.1" />
<line x1="54" y1="300.21" x2="58.9" y2="300.21" stroke="#262626" stroke-width="1.1" />
<line x1="54" y1="296.99" x2="58.9" y2="296.99" stroke="#262626" stroke-width="1.1" />
<line x1="54" y1="294.37" x2="58.9" y2="294.37" stroke="#262626" stroke-width="1.1" />
<line x1="54" y1="292.14" x2="58.9" y2="292.14" stroke="#262626" stroke-width="1.1" />
<line x1="54" y1="290.22" x2="58.9" y2="290.22" stroke="#262626" stroke-width="1.1" />
<line x1="54" y1="288.52" x2="58.9" y2="288.52" stroke="#262626" stroke-width="1.1" />
<line x1="53" y1="287" x2="58.9" y2="287" stroke="#262626" stroke-width="1.1" />
<line x1="54" y1="277.01" x2="58.9" y2="277.01" stroke="#262626" stroke-width="1.1" />
<line x1="54" y1="271.16" x2="58.9" y2="271.16" stroke="#262626" stroke-width="1.1" />
<line x1="54" y1="267.01" x2="58.9" y2="267.01" stroke="#262626" stroke-width="1.1" />
<line x1="54" y1="263.79" x2="58.9" y2="263.79" stroke="#262626" stroke-width="1.1" />
<line x1="54" y1="261.17" x2="58.9" y2="261.17" stroke="#262626" stroke-width="1.1" />
<line x1="54" y1="258.94" x2="58.9" y2="258.94" stroke="#262626" stroke-width="1.1" />
<line x1="54" y1="257.02" x2="58.9" y2="257.02" stroke="#262626" stroke-width="1.1" />
<line x1="54" y1="255.32" x2="58.9" y2="255.32" stroke="#262626" stroke-width="1.1" />
<line x1="53" y1="253.8" x2="58.9" y2="253.8" stroke="#262626" stroke-width="1.1" />
<line x1="54" y1="243.81" x2="58.9" y2="243.81" stroke="#262626" stroke-width="1.1" />
<line x1="54" y1="237.96" x2="58.9" y2="237.96" stroke="#262626" stroke-width="1.1" />
<line x1="54" y1="233.81" x2="58.9" y2="233.81" stroke="#262626" stroke-width="1.1" />
<line x1="54" y1="230.59" x2="58.9" y2="230.59" stroke="#262626" stroke-width="1.1" />
<line x1="54" y1="227.97" x2="58.9" y2="227.97" stroke="#262626" stroke-width="1.1" />
<line x1="54" y1="225.74" x2="58.9" y2="225.74" stroke="#262626" stroke-width="1.1" />
<line x1="54" y1="223.82" x2="58.9" y2="223.82" stroke="#262626" stroke-width="1.1" />
<line x1="54" y1="222.12" x2="58.9" y2="222.12" stroke="#262626" stroke-width="1.1" />
<line x1="53" y1="220.6" x2="58.9" y2="220.6" stroke="#262626" stroke-width="1.1" />
<line x1="54" y1="210.61" x2="58.9" y2="210.61" stroke="#262626" stroke-width="1.1" />
<line x1="54" y1="204.76" x2="58.9" y2="204.76" stroke="#262626" stroke-width="1.1" />
<line x1="54" y1="200.61" x2="58.9" y2="200.61" stroke="#262626" stroke-width="1.1" />
<line x1="54" y1="197.39" x2="58.9" y2="197.39" stroke="#262626" stroke-width="1.1" />
<line x1="54" y1="194.77" x2="58.9" y2="194.77" stroke="#262626" stroke-width="1.1" />
<line x1="54" y1="192.54" x2="58.9" y2="192.54" stroke="#262626" stroke-width="1.1" />
<line x1="54" y1="190.62" x2="58.9" y2="190.62" stroke="#262626" stroke-width="1.1" />
<line x1="54" y1="188.92" x2="58.9" y2="188.92" stroke="#262626" stroke-width="1.1" />
<line x1="53" y1="187.4" x2="58.9" y2="187.4" stroke="#262626" stroke-width="1.1" />
<line x1="58.9" y1="320.2" x2="58.9" y2="325.5" stroke="#262626" stroke-width="1.1" />
<line x1="125.79" y1="320.2" x2="125.79" y2="323.5" stroke="#262626" stroke-width="1.1" />
<line x1="164.92" y1="320.2" x2="164.92" y2="323.5" stroke="#262626" stroke-width="1.1" />
<line x1="192.68" y1="320.2" x2="192.68" y2="323.5" stroke="#262626" stroke-width="1.1" />
<line x1="214.21" y1="320.2" x2="214.21" y2="323.5" stroke="#262626" stroke-width="1.1" />
<line x1="231.81" y1="320.2" x2="231.81" y2="323.5" stroke="#262626" stroke-width="1.1" />
<line x1="246.68" y1="320.2" x2="246.68" y2="323.5" stroke="#262626" stroke-width="1.1" />
<line x1="259.57" y1="320.2" x2="259.57" y2="323.5" stroke="#262626" stroke-width="1.1" />
<line x1="270.93" y1="320.2" x2="270.93" y2="323.5" stroke="#262626" stroke-width="1.1" />
<line x1="281.1" y1="320.2" x2="281.1" y2="325.5" stroke="#262626" stroke-width="1.1" />
<line x1="347.99" y1="320.2" x2="347.99" y2="323.5" stroke="#262626" stroke-width="1.1" />
<text x="42.6" y="326" font-size="13.5" text-anchor="end">10</text>
<text x="42.7" y="321.5" font-size="10">5</text>
<text x="42.6" y="292.8" font-size="13.5" text-anchor="end">10</text>
<text x="42.7" y="288.3" font-size="10">6</text>
<text x="42.6" y="259.6" font-size="13.5" text-anchor="end">10</text>
<text x="42.7" y="255.1" font-size="10">7</text>
<text x="42.6" y="226.4" font-size="13.5" text-anchor="end">10</text>
<text x="42.7" y="221.9" font-size="10">8</text>
<text x="42.6" y="193.2" font-size="13.5" text-anchor="end">10</text>
<text x="42.7" y="188.7" font-size="10">9</text>
<text x="59.2" y="345" font-size="13.5" text-anchor="middle" fill="#000" font-weight="normal" style="stroke:#000" >1</text>
<text x="281" y="345" font-size="13.5" text-anchor="middle" fill="#000" font-weight="normal" style="stroke:#000" >10</text>
<text x="146.3" y="362.3" font-size="13.5" text-anchor="start" fill="#000" font-weight="normal" textLength="139.5" lengthAdjust="spacingAndGlyphs" style="stroke:#000" >Neutron Energy (MeV)</text>
<text transform="translate(14.9,245.1) rotate(-90)" font-size="13.5" text-anchor="middle" textLength="91.6" lengthAdjust="spacingAndGlyphs">Flux (dN/dE/sr)</text>
<polyline points="59.8,198.98 61.3,198.54 62.8,198.93 64.3,198.84 65.8,199.22 67.3,200.24 68.8,200.89 70.3,201 71.8,202.03 73.3,201.64 74.8,202.83 76.3,203.33 77.8,203.59 79.3,203.95 80.8,204.68 82.3,205.46 83.8,206.01 85.3,206.12 86.8,206.58 88.3,206.37 89.8,206.85 91.3,207.26 92.8,208.96 94.3,209.42 95.8,209.76 97.3,210.75 98.8,211.12 100.3,210.58 101.8,211.66 103.3,211.28 104.8,212.11 106.3,213.02 107.8,212.71 109.3,213.48 110.8,213.97 112.3,214.71 113.8,215.29 115.3,215.99 116.8,215.8 118.3,217.07 119.8,216.82 121.3,217.65 122.8,218.35 124.3,218.66 125.8,218.6 127.3,219.12 128.8,219.63 130.3,220.19 131.8,221.02 133.3,220.83 134.8,221.89 136.3,222.46 137.8,222.98 139.3,223.49 140.8,224.21 142.3,224.2 143.8,224.6 145.3,224.8 146.8,225.47 148.3,224.65 149.8,226.1 151.3,226.21 152.8,226.78 154.3,227.15 155.8,227.45 157.3,228.47 158.8,228.95 160.3,229.88 161.8,229.86 163.3,231.08 164.8,231.09 166.3,231.29 167.8,231.51 169.3,231.84 170.8,232.09 172.3,232.62 173.8,233.14 175.3,233.52 176.8,233.78 178.3,234.76 179.8,235.2 181.3,236.15 182.8,237.29 184.3,237.55 185.8,237.91 187.3,237.96 188.8,238.47 190.3,238.84 191.8,240.01 193.3,240.01 194.8,240.71 196.3,240.97 197.8,241.65 199.3,242.5 200.8,242.44 202.3,243.18 203.8,243.68 205.3,244.82 206.8,244.89 208.3,245.49 209.8,245.91 211.3,246.4 212.8,247.46 214.3,248.58 215.8,248 217.3,248.89 218.8,248.85 220.3,248.62 221.8,249.04 223.3,249.23 224.8,249.27 226.3,250.23 227.8,249.25 229.3,250.1 230.8,250.26 232.3,250.16 233.8,250.55 235.3,250.94 236.8,251.54 238.3,252.54 239.8,253.54 241.3,253.48 242.8,254.88 244.3,255.47 245.8,255.43 247.3,255.79 248.8,255.41 250.3,256.26 251.8,256.55 253.3,257.11 254.8,258.07 256.3,258.03 257.8,258.85 259.3,259.17 260.8,260.56 262.3,261.49 263.8,262.11 265.3,262.97 266.8,264.62 268.3,264.55 269.8,265.47 271.3,266.14 272.8,267.3 274.3,268.12 275.8,268.31 277.3,269.15 278.8,270.39 280.3,271.95 281.8,271.8 283.3,272.95 284.8,273.38 286.3,273.42 287.8,275.04 289.3,276.78 290.8,280.41 292.3,282.77 293.8,286.11 295.3,287.82 296.8,289.46 298.3,291.48 299.8,292.62 301.3,293.8 302.7,299.3" fill="none" stroke="#f00" stroke-width="1.9" stroke-linejoin="round"/>
<line x1="202.7" y1="205.8" x2="215" y2="205.8" stroke="#f00" stroke-width="2.2" />
<text x="220.1" y="210.3" font-size="14.4" text-anchor="start" fill="#f00" font-weight="bold" textLength="112.4" lengthAdjust="spacingAndGlyphs" style="stroke:#f00" >Fast neutron data</text>
<text x="322.6" y="304.2" font-size="22.5" text-anchor="start" fill="#000" font-weight="bold" style="stroke:#000" >b</text>
<rect x="435.6" y="40.6" width="258.4" height="120.4" fill="none" stroke="#3a3a3a" stroke-width="1.6"/>
<line x1="565" y1="40.6" x2="565" y2="161" stroke="#cfcfcf" stroke-width="1" />
<line x1="435.6" y1="159.9" x2="694" y2="159.9" stroke="#c8c8c8" stroke-width="1.3" />
<line x1="435.6" y1="36.6" x2="435.6" y2="40.6" stroke="#3a3a3a" stroke-width="1.6" />
<line x1="461.44" y1="36.6" x2="461.44" y2="40.6" stroke="#3a3a3a" stroke-width="1.6" />
<line x1="487.28" y1="36.6" x2="487.28" y2="40.6" stroke="#3a3a3a" stroke-width="1.6" />
<line x1="513.12" y1="36.6" x2="513.12" y2="40.6" stroke="#3a3a3a" stroke-width="1.6" />
<line x1="538.96" y1="36.6" x2="538.96" y2="40.6" stroke="#3a3a3a" stroke-width="1.6" />
<line x1="564.8" y1="36.6" x2="564.8" y2="40.6" stroke="#3a3a3a" stroke-width="1.6" />
<line x1="590.64" y1="36.6" x2="590.64" y2="40.6" stroke="#3a3a3a" stroke-width="1.6" />
<line x1="616.48" y1="36.6" x2="616.48" y2="40.6" stroke="#3a3a3a" stroke-width="1.6" />
<line x1="642.32" y1="36.6" x2="642.32" y2="40.6" stroke="#3a3a3a" stroke-width="1.6" />
<line x1="668.16" y1="36.6" x2="668.16" y2="40.6" stroke="#3a3a3a" stroke-width="1.6" />
<line x1="694" y1="36.6" x2="694" y2="40.6" stroke="#3a3a3a" stroke-width="1.6" />
<line x1="431.5" y1="161" x2="435.6" y2="161" stroke="#3a3a3a" stroke-width="1.6" />
<line x1="431.5" y1="152.6" x2="435.6" y2="152.6" stroke="#3a3a3a" stroke-width="1.6" />
<line x1="431.5" y1="144.2" x2="435.6" y2="144.2" stroke="#3a3a3a" stroke-width="1.6" />
<line x1="431.5" y1="135.8" x2="435.6" y2="135.8" stroke="#3a3a3a" stroke-width="1.6" />
<line x1="431.5" y1="127.4" x2="435.6" y2="127.4" stroke="#3a3a3a" stroke-width="1.6" />
<line x1="431.5" y1="119" x2="435.6" y2="119" stroke="#3a3a3a" stroke-width="1.6" />
<line x1="431.5" y1="110.6" x2="435.6" y2="110.6" stroke="#3a3a3a" stroke-width="1.6" />
<line x1="431.5" y1="102.2" x2="435.6" y2="102.2" stroke="#3a3a3a" stroke-width="1.6" />
<line x1="431.5" y1="93.8" x2="435.6" y2="93.8" stroke="#3a3a3a" stroke-width="1.6" />
<line x1="431.5" y1="85.4" x2="435.6" y2="85.4" stroke="#3a3a3a" stroke-width="1.6" />
<line x1="431.5" y1="77" x2="435.6" y2="77" stroke="#3a3a3a" stroke-width="1.6" />
<line x1="431.5" y1="68.6" x2="435.6" y2="68.6" stroke="#3a3a3a" stroke-width="1.6" />
<line x1="431.5" y1="60.2" x2="435.6" y2="60.2" stroke="#3a3a3a" stroke-width="1.6" />
<line x1="431.5" y1="51.8" x2="435.6" y2="51.8" stroke="#3a3a3a" stroke-width="1.6" />
<line x1="431.5" y1="43.4" x2="435.6" y2="43.4" stroke="#3a3a3a" stroke-width="1.6" />
<text x="435.6" y="24.8" font-size="13.5" text-anchor="middle" fill="#000" font-weight="normal" style="stroke:#000" >0</text>
<text x="564.2" y="24.8" font-size="13.5" text-anchor="middle" fill="#000" font-weight="normal" textLength="34.6" lengthAdjust="spacingAndGlyphs" style="stroke:#000" >0.005</text>
<text x="693" y="24.8" font-size="13.5" text-anchor="middle" fill="#000" font-weight="normal" textLength="24.5" lengthAdjust="spacingAndGlyphs" style="stroke:#000" >0.01</text>
<text x="526.2" y="12.9" font-size="13.5" text-anchor="middle" fill="#000" font-weight="normal" textLength="48.5" lengthAdjust="spacingAndGlyphs" style="stroke:#000" >Time (s)</text>
<text x="420.4" y="82" font-size="13.5" text-anchor="end" fill="#000" font-weight="normal" textLength="26.7" lengthAdjust="spacingAndGlyphs" style="stroke:#000" >0.65</text>
<text x="420.4" y="123.9" font-size="13.5" text-anchor="end" fill="#000" font-weight="normal" textLength="26.7" lengthAdjust="spacingAndGlyphs" style="stroke:#000" >0.25</text>
<text x="420.4" y="165.8" font-size="13.5" text-anchor="end" fill="#000" font-weight="normal" textLength="31.2" lengthAdjust="spacingAndGlyphs" style="stroke:#000" >-0.15</text>
<text transform="translate(382.2,103.4) rotate(-90)" font-size="13.5" text-anchor="middle" textLength="44" lengthAdjust="spacingAndGlyphs">Osc (V)</text>
<polyline points="440.2,76.89 440.4,77.68 440.6,75.52 440.8,77.45 441,76.93 441.2,77.75 441.4,78.27 441.6,78.06 441.8,77.53 442,81.08 442.2,81.87 442.4,83.53 442.6,81.8 442.8,83.21 443,85.75 443.2,86.2 443.4,85.59 443.6,85.17 443.8,87.47 444,85.49 444.2,86.22 444.4,87.39 444.6,86.33 444.8,86.63 445,88.07 445.2,88.78 445.4,90.67 445.6,90.3 445.8,91.37 446,92.64 446.2,95.48 446.4,97.23 446.6,96.38 446.8,99.99 447,99.43 447.2,101.22 447.4,103.21 447.6,103.19 447.8,104.82 448,100.25 448.2,102.28 448.4,105.2 448.6,104.99 448.8,109.46 449,108.29 449.2,110.86 449.4,113.08 449.6,104.93 449.8,108.19 450,110.81 450.2,112.59 450.4,115.82 450.6,117 450.8,115.71 451,120.27 451.2,118.47 451.4,120.54 451.6,119.74 451.8,122.37 452,124.58 452.2,121.77 452.4,123.45 452.6,122.59 452.8,126.57 453,126.89 453.2,128.62 453.4,130.62 453.6,130.06 453.8,133.26 454,134.23 454.2,135.02 454.4,134.42 454.6,135.87 454.8,135.37 455,130.75 455.2,132.9 455.4,131.7 455.6,135.34 455.8,136.51 456,135.36 456.2,139.8 456.4,139.35 456.6,139.69 456.8,139.88 457,143.56 457.2,142.94 457.4,144.49 457.6,144.1 457.8,139.44 458,139.95 458.2,142.49 458.4,143.05 458.6,144.2 458.8,135.16 459,136.3 459.2,140.59 459.4,142.21 459.6,142.57 459.8,144.67 460,145.08 460.2,145.78 460.4,146.13 460.6,138.81 460.8,140.92 461,141.64 461.2,143.68 461.4,145.21 461.6,144.95 461.8,146.93 462,147.41 462.2,149.17 462.4,146.96 462.6,147.36 462.8,148.37 463,149.02 463.2,148.73 463.4,149.73 463.6,146.99 463.8,148.32 464,147.18 464.2,147.58 464.4,147.33 464.6,148.15 464.8,148.47 465,149.91 465.2,150.13 465.4,151.66 465.6,150.64 465.8,151.75 466,152.86 466.2,152.24 466.4,153.92 466.6,153.24 466.8,154.67 467,151.7 467.2,151.46 467.4,153.36 467.6,153.06 467.8,153.83 468,152.61 468.2,153.21 468.4,154.89 468.6,148.77 468.8,149.15 469,150.7 469.2,149.76 469.4,152.26 469.6,152.9 469.8,153.01 470,153.16 470.2,149.8 470.4,149.83 470.6,151.5 470.8,152.3 471,152.68 471.2,152.78 471.4,152.86 471.6,153.72 471.8,155.29 472,150.09 472.2,150.73 472.4,151.8 472.6,152.96 472.8,153.69 473,154.67 473.2,155.09 473.4,155.66 473.6,155.89 473.8,149.76 474,150.25 474.2,152.26 474.4,151.96 474.6,153.17 474.8,153.27 475,154.54 475.2,154.19 475.4,154.9 475.6,155.02 475.8,155.41 476,155.49 476.2,155.84 476.4,155.77 476.6,155.89 476.8,151.9 477,152.56 477.2,153.21 477.4,154.07 477.6,154.17 477.8,154.29 478,155.13 478.2,155.22 478.4,155.77 478.6,156.03 478.8,156.39 479,156.91 479.2,157.04 479.4,156.28 479.6,156.82 479.8,157.06 480,157.19 480.2,157.21 480.4,153.63 480.6,153.94 480.8,154.23 481,154.78 481.2,155.38 481.4,155.59 481.6,155.93 481.8,156.2 482,155.92" fill="none" stroke="#a0a0a0" stroke-width="0.7"/>
<polyline points="440.2,75.26 440.4,75.79 440.6,76.32 440.8,76.84 441,77.37 441.2,77.89 441.4,78.42 441.6,78.95 441.8,79.47 442,80 442.2,81.07 442.4,82.14 442.6,83.21 442.8,84.29 443,85.36 443.2,84.09 443.4,85.42 443.6,86.15 443.8,86.85 444,87.54 444.2,88.2 444.4,88.84 444.6,83.44 444.8,84.72 445,85.92 445.2,87.04 445.4,88.71 445.6,90.33 445.8,91.89 446,93.4 446.2,94.87 446.4,96.3 446.6,97.7 446.8,99.06 447,100.53 447.2,101.98 447.4,103.4 447.6,104.8 447.8,106.19 448,104.58 448.2,106.27 448.4,107.76 448.6,109.06 448.8,110.32 449,111.55 449.2,107.09 449.4,108.89 449.6,110.59 449.8,112.21 450,113.76 450.2,115.24 450.4,116.66 450.6,114.75 450.8,116.44 451,118.05 451.2,119.58 451.4,120.97 451.6,122.22 451.8,116.53 452,118.45 452.2,120.25 452.4,121.93 452.6,123.51 452.8,125.01 453,126.43 453.2,126.48 453.4,127.91 453.6,129.28 453.8,130.57 454,131.82 454.2,133.01 454.4,130.03 454.6,131.45 454.8,132.78 455,134.04 455.2,135.23 455.4,136.35 455.6,132.06 455.8,133.68 456,135.19 456.2,136.61 456.4,137.95 456.6,139.2 456.8,140.39 457,138.77 457.2,140.15 457.4,141.45 457.6,142.51 457.8,143.33 458,144.1 458.2,144.81 458.4,136.77 458.6,138.37 458.8,139.82 459,141.15 459.2,142.36 459.4,143.47 459.6,144.5 459.8,145.44 460,144.8 460.2,145.78 460.4,146.68 460.6,147.52 460.8,148.3 461,149.02 461.2,149.7 461.4,150.34 461.6,150.94 461.8,149.81 462,150.33 462.2,150.8 462.4,151.24 462.6,151.63 462.8,152 463,152.34 463.2,152.66 463.4,152.95 463.6,148.2 463.8,149.02 464,149.75 464.2,150.42 464.4,151.03 464.6,151.58 464.8,144.89 465,146.15 465.2,147.29 465.4,148.31 465.6,149.23 465.8,150.06 466,150.81 466.2,143.86 466.4,145.33 466.6,146.64 466.8,147.8 467,148.8 467.2,149.7 467.4,150.51 467.6,151.24 467.8,151.89 468,152.47 468.2,153 468.4,153.47 468.6,153.9 468.8,154.29 469,154.64 469.2,154.96 469.4,147.82 469.6,148.91 469.8,149.89 470,150.76 470.2,149.86 470.4,150.74 470.6,151.54 470.8,152.26 471,152.9 471.2,153.48 471.4,154 471.6,154.46 471.8,154.89 472,155.27 472.2,154.02 472.4,154.52 472.6,154.96 472.8,155.36 473,155.68 473.2,154.22 473.4,154.67 473.6,155.06 473.8,155.42 474,155.73 474.2,154.19 474.4,154.64 474.6,155.05 474.8,155.41 475,155.73 475.2,156.02 475.4,156.27 475.6,151.39 475.8,152.17 476,152.86 476.2,153.47 476.4,154.01 476.6,154.5 476.8,154.94 477,153.63 477.2,154.17 477.4,154.64 477.6,155.07 477.8,155.44 478,155.78 478.2,156.08 478.4,156.35 478.6,156.59 478.8,156.8 479,157 479.2,157.17 479.4,157.32 479.6,155.62 479.8,155.94 480,156.24 480.2,156.49 480.4,156.71 480.6,156.91 480.8,157.08 481,157.24 481.2,157.38 481.4,157.5 481.6,156.42 481.8,156.65 482,156.86" fill="none" stroke="#606060" stroke-width="0.7"/>
<polyline points="440.2,75.26 440.4,75.79 440.6,76.32 440.8,76.84 441,77.37 441.2,77.89 441.4,78.42 441.6,78.95 441.8,79.47 442,80 442.2,81.07 442.4,82.14 442.6,83.21 442.8,84.29 443,85.36 443.2,82.54 443.4,84.04 443.6,84.93 443.8,85.77 444,86.57 444.2,87.34 444.4,88.08 444.6,88.79 444.8,89.48 445,90.15 445.2,89.36 445.4,90.78 445.6,92.17 445.8,93.52 446,94.85 446.2,96.16 446.4,95.28 446.6,96.79 446.8,98.26 447,99.82 447.2,101.34 447.4,102.83 447.6,99.93 447.8,101.86 448,103.71 448.2,105.5 448.4,107.08 448.6,105.66 448.8,107.3 449,108.86 449.2,110.36 449.4,111.79 449.6,113.17 449.8,114.5 450,107.82 450.2,109.95 450.4,111.96 450.6,113.85 450.8,107.66 451,110.24 451.2,112.64 451.4,114.8 451.6,116.73 451.8,118.54 452,120.24 452.2,115.64 452.4,117.83 452.6,119.87 452.8,121.77 453,123.55 453.2,125.22 453.4,126.79 453.6,128.28 453.8,121.44 454,123.69 454.2,125.79 454.4,127.74 454.6,129.41 454.8,130.97 455,132.43 455.2,128.33 455.4,130.22 455.6,131.98 455.8,133.61 456,135.13 456.2,136.56 456.4,137.9 456.6,139.16 456.8,140.35 457,141.48 457.2,142.56 457.4,143.59 457.6,144.41 457.8,141.09 458,142.1 458.2,143.04 458.4,143.9 458.6,144.71 458.8,145.46 459,146.16 459.2,139.39 459.4,140.83 459.6,142.15 459.8,143.35 460,138.32 460.2,140.02 460.4,141.56 460.6,142.97 460.8,144.25 461,145.43 461.2,146.51 461.4,146.82 461.6,147.81 461.8,148.54 462,149.2 462.2,149.8 462.4,150.34 462.6,150.84 462.8,151.3 463,149.04 463.2,149.72 463.4,150.34 463.6,150.9 463.8,151.42 464,151.89 464.2,152.32 464.4,152.71 464.6,148.81 464.8,149.62 465,150.35 465.2,151.02 465.4,151.63 465.6,152.18 465.8,151.4 466,152 466.2,152.55 466.4,153.05 466.6,153.51 466.8,145.24 467,146.53 467.2,147.68 467.4,148.71 467.6,149.64 467.8,150.47 468,151.21 468.2,151.88 468.4,150.82 468.6,151.54 468.8,152.19 469,152.78 469.2,153.3 469.4,153.78 469.6,154.2 469.8,154.59 470,146.83 470.2,148.05 470.4,149.14 470.6,150.11 470.8,150.99 471,147.03 471.2,148.26 471.4,149.36 471.6,150.34 471.8,150.77 472,151.61 472.2,152.36 472.4,153.04 472.6,153.65 472.8,154.06 473,154.52 473.2,154.93 473.4,155.29 473.6,155.62 473.8,155.91 474,156.17 474.2,152.07 474.4,152.75 474.6,153.37 474.8,153.92 475,154.4 475.2,154.84 475.4,151.63 475.6,152.37 475.8,153.04 476,153.63 476.2,154.15 476.4,154.62 476.6,155.04 476.8,155.42 477,155.75 477.2,156.05 477.4,156.08 477.6,156.34 477.8,156.58 478,156.79 478.2,156.98 478.4,154 478.6,154.5 478.8,154.95 479,155.35 479.2,155.7 479.4,156.02 479.6,155.83 479.8,156.14 480,156.41 480.2,156.64 480.4,156.84 480.6,157.03 480.8,157.19 481,154.78 481.2,155.2 481.4,155.56 481.6,155.88 481.8,156.17 482,156.43 482.2,156.66 482.4,156.86 482.6,157.04 482.8,157.2 483,157.34 483.2,157.47 483.4,157.58 483.6,157.68 483.8,157.77 484,157.84 484.2,157.91 484.4,157.98 484.6,158.03 484.8,158.08 485,158.12 485.2,158.16 485.4,158.19 485.6,158.22 485.8,158.25 486,158.27 486.2,158.29 486.4,158.31 486.6,158.33 486.8,158.34 487,158.36 487.2,158.37 487.4,158.38 487.6,158.39 487.8,158.39 488,158.4 488.2,158.41 488.4,158.41 488.6,158.41 488.8,158.42 489,158.42 489.2,158.42 489.4,158.43 489.6,158.43 489.8,147.69 490,148.96 490.2,150.07 490.4,151.05 490.6,151.92 490.8,152.69 491,153.36 491.2,153.96 491.4,154.49 491.6,154.95 491.8,155.36 492,155.72 492.2,156.04 492.4,156.32 492.6,156.57 492.8,156.79 493,156.98 493.2,157.15 493.4,157.3 493.6,157.43 493.8,157.55 494,157.65 494.2,157.74 494.4,157.82 494.6,157.89 494.8,157.95 495,158.01 495.2,158.06 495.4,158.1 495.6,158.14 495.8,158.17 496,158.2 496.2,158.22 496.4,158.24 496.6,158.26 496.8,158.28 497,158.3 497.2,158.31 497.4,158.32 497.6,158.33 497.8,158.34 498,158.35 498.2,158.35 498.4,158.36 498.6,158.36 498.8,158.37 499,158.37 499.2,158.37 499.4,158.38 499.6,158.38 499.8,158.38 500,158.38 500.2,158.38 500.4,158.38 500.6,158.38 500.8,158.38 501,158.39 501.2,158.39 501.4,158.39 501.6,158.39 501.8,158.39 502,158.38 502.2,158.38 502.4,158.38 502.6,158.38 502.8,158.38 503,158.38 503.2,158.38 503.4,158.38 503.6,158.38 503.8,158.38 504,158.38 504.2,158.38 504.4,158.38 504.6,158.38 504.8,158.38 505,158.37 505.2,148.34 505.4,149.51 505.6,150.55 505.8,151.47 506,152.28 506.2,153 506.4,153.63 506.6,154.18 506.8,154.67 507,155.11 507.2,155.49 507.4,155.82 507.6,156.12 507.8,156.38 508,156.62 508.2,156.82 508.4,157 508.6,157.16 508.8,157.3 509,157.42 509.2,157.53 509.4,157.63 509.6,157.71 509.8,157.78 510,157.85 510.2,157.91 510.4,157.96 510.6,158 510.8,158.04 511,158.08 511.2,158.11 511.4,158.13 511.6,158.16 511.8,158.18 512,158.2 512.2,158.21 512.4,158.23 512.6,158.24 512.8,158.25 513,158.26 513.2,158.27 513.4,152.48 513.6,153.17 513.8,153.77 514,154.31 514.2,154.78 514.4,155.19 514.6,155.56 514.8,155.89 515,156.17 515.2,156.42 515.4,156.65 515.6,156.84 515.8,157.01 516,157.17 516.2,157.3 516.4,157.42 516.6,157.52 516.8,157.62 517,157.7 517.2,157.77 517.4,157.83 517.6,157.89 517.8,157.94 518,157.98 518.2,158.02 518.4,158.05 518.6,158.08 518.8,158.11 519,158.13 519.2,158.15 519.4,158.17 519.6,158.18 519.8,158.19 520,158.21 520.2,158.22 520.4,158.22 520.6,158.23 520.8,158.24 521,158.24 521.2,158.25 521.4,158.25 521.6,158.26 521.8,158.26 522,158.26 522.2,158.27 522.4,158.27 522.6,158.27 522.8,158.27 523,158.27 523.2,158.27 523.4,158.27 523.6,158.27 523.8,158.27 524,158.27 524.2,158.27 524.4,158.27 524.6,158.27 524.8,158.27 525,158.27 525.2,158.27 525.4,158.27 525.6,158.27 525.8,158.27 526,158.27 526.2,158.27 526.4,158.27 526.6,158.27 526.8,158.26 527,158.26 527.2,158.26 527.4,158.26 527.6,158.26 527.8,158.26 528,158.26 528.2,158.26 528.4,158.26 528.6,158.26 528.8,158.26 529,158.25 529.2,158.25 529.4,158.25 529.6,158.25 529.8,158.25 530,158.25 530.2,158.25 530.4,158.25 530.6,158.25 530.8,158.25 531,158.24 531.2,158.24 531.4,158.24 531.6,158.24 531.8,158.24 532,158.24 532.2,158.24 532.4,158.24 532.6,158.24 532.8,158.24 533,158.23 533.2,158.23 533.4,158.23 533.6,158.23 533.8,158.23 534,158.23 534.2,158.23 534.4,158.23 534.6,158.23 534.8,158.23 535,158.22 535.2,158.22 535.4,158.22 535.6,158.22 535.8,158.22 536,158.22 536.2,158.22 536.4,158.22 536.6,158.22 536.8,158.22 537,158.21 537.2,158.21 537.4,158.21 537.6,158.21 537.8,158.21 538,158.21 538.2,158.21 538.4,158.21 538.6,158.21 538.8,158.21 539,158.2 539.2,158.2 539.4,158.2 539.6,158.2 539.8,158.2 540,158.2 540.2,158.2 540.4,158.2 540.6,158.2 540.8,158.2 541,158.19 541.2,158.19 541.4,158.19 541.6,158.19 541.8,158.19 542,158.19 542.2,158.19 542.4,158.19 542.6,158.19 542.8,158.19 543,158.18 543.2,158.18 543.4,158.18 543.6,158.18 543.8,158.18 544,158.18 544.2,158.18 544.4,158.18 544.6,158.18 544.8,158.18 545,158.17 545.2,158.17 545.4,158.17 545.6,158.17 545.8,158.17 546,158.17 546.2,158.17 546.4,158.17 546.6,158.17 546.8,158.17 547,158.16 547.2,158.16 547.4,158.16 547.6,158.16 547.8,158.16 548,158.16 548.2,158.16 548.4,158.16 548.6,158.16 548.8,158.16 549,158.15 549.2,158.15 549.4,158.15 549.6,158.15 549.8,158.15 550,158.15 550.2,158.15 550.4,158.15 550.6,158.15 550.8,158.15 551,158.14 551.2,158.14 551.4,158.14 551.6,158.14 551.8,158.14 552,158.14 552.2,158.14 552.4,158.14 552.6,158.14 552.8,158.14 553,158.13 553.2,158.13 553.4,158.13 553.6,158.13 553.8,158.13 554,158.13 554.2,158.13 554.4,158.13 554.6,158.13 554.8,158.13 555,158.12 555.2,158.12 555.4,158.12 555.6,158.12 555.8,158.12 556,158.12 556.2,158.12 556.4,158.12 556.6,158.12 556.8,158.12 557,158.11 557.2,158.11 557.4,158.11 557.6,158.11 557.8,158.11 558,158.11 558.2,158.11 558.4,158.11 558.6,158.11 558.8,158.11 559,158.1 559.2,158.1 559.4,158.1 559.6,158.1 559.8,158.1 560,158.1 560.2,158.1 560.4,158.1 560.6,158.1 560.8,158.1 561,158.09 561.2,158.09 561.4,158.09 561.6,158.09 561.8,158.09 562,158.09 562.2,158.09 562.4,158.09 562.6,158.09 562.8,158.09 563,158.08 563.2,158.08 563.4,158.08 563.6,158.08 563.8,158.08 564,158.08 564.2,158.08 564.4,158.08 564.6,158.08 564.8,158.08 565,158.07 565.2,158.07 565.4,158.07 565.6,158.07 565.8,158.07 566,158.07 566.2,158.07 566.4,158.07 566.6,158.07 566.8,158.07 567,158.07 567.2,158.06 567.4,158.06 567.6,158.06 567.8,158.06 568,158.06 568.2,158.06 568.4,158.06 568.6,158.06 568.8,158.06 569,158.06 569.2,158.05 569.4,158.05 569.6,158.05 569.8,158.05 570,158.05 570.2,158.05 570.4,158.05 570.6,158.05 570.8,158.05 571,158.05 571.2,158.04 571.4,158.04 571.6,158.04 571.8,158.04 572,158.04 572.2,158.04 572.4,158.04 572.6,158.04 572.8,158.04 573,158.04 573.2,158.03 573.4,158.03 573.6,158.03 573.8,158.03 574,158.03 574.2,158.03 574.4,158.03 574.6,158.03 574.8,158.03 575,158.03 575.2,158.02 575.4,158.02 575.6,158.02 575.8,158.02 576,158.02 576.2,158.02 576.4,158.02 576.6,158.02 576.8,158.02 577,158.02 577.2,158.01 577.4,158.01 577.6,158.01 577.8,158.01 578,158.01 578.2,158.01 578.4,158.01 578.6,158.01 578.8,158.01 579,158.01 579.2,158 579.4,158 579.6,158 579.8,158 580,158 580.2,158 580.4,158 580.6,158 580.8,158 581,158 581.2,157.99 581.4,157.99 581.6,157.99 581.8,157.99 582,157.99 582.2,157.99 582.4,157.99 582.6,157.99 582.8,157.99 583,157.99 583.2,157.98 583.4,157.98 583.6,157.98 583.8,157.98 584,157.98 584.2,157.98 584.4,157.98 584.6,157.98 584.8,157.98 585,157.98 585.2,157.97 585.4,157.97 585.6,157.97 585.8,153.49 586,154.01 586.2,154.48 586.4,154.89 586.6,155.25 586.8,155.57 587,155.85 587.2,156.1 587.4,156.31 587.6,156.51 587.8,156.68 588,156.83 588.2,156.96 588.4,157.08 588.6,157.18 588.8,157.27 589,157.35 589.2,157.42 589.4,157.48 589.6,157.54 589.8,157.58 590,157.63 590.2,157.66 590.4,157.7 590.6,157.72 590.8,157.75 591,157.77 591.2,157.79 591.4,157.81 591.6,157.82 591.8,157.84 592,157.85 592.2,157.86 592.4,157.87 592.6,157.87 592.8,157.88 593,157.89 593.2,157.89 593.4,157.89 593.6,157.9 593.8,157.9 594,157.9 594.2,157.91 594.4,157.91 594.6,157.91 594.8,157.91 595,157.91 595.2,157.91 595.4,157.91 595.6,157.91 595.8,157.91 596,157.91 596.2,157.91 596.4,157.91 596.6,157.91 596.8,157.91 597,157.91 597.2,157.91 597.4,157.91 597.6,157.91 597.8,157.91 598,157.91 598.2,157.91 598.4,157.91 598.6,157.91 598.8,157.9 599,157.9 599.2,157.9 599.4,157.9 599.6,157.9 599.8,157.9 600,157.9 600.2,157.9 600.4,157.9 600.6,157.9 600.8,157.9 601,157.9 601.2,157.9 601.4,157.9 601.6,157.89 601.8,157.89 602,157.89 602.2,157.89 602.4,157.89 602.6,157.89 602.8,157.89 603,157.89 603.2,157.89 603.4,157.89 603.6,157.89 603.8,157.89 604,157.89 604.2,157.89 604.4,157.89 604.6,157.89 604.8,157.88 605,157.88 605.2,157.88 605.4,157.88 605.6,157.88 605.8,157.88 606,157.88 606.2,157.88 606.4,157.88 606.6,157.88 606.8,157.88 607,157.88 607.2,157.88 607.4,157.88 607.6,157.88 607.8,157.88 608,157.87 608.2,157.87 608.4,157.87 608.6,157.87 608.8,157.87 609,157.87 609.2,157.87 609.4,157.87 609.6,157.87 609.8,157.87 610,157.87 610.2,157.87 610.4,157.87 610.6,157.87 610.8,157.87 611,157.86 611.2,157.86 611.4,157.86 611.6,157.86 611.8,157.86 612,157.86 612.2,157.86 612.4,157.86 612.6,157.86 612.8,157.86 613,157.86 613.2,157.86 613.4,157.86 613.6,157.86 613.8,157.86 614,157.86 614.2,157.85 614.4,157.85 614.6,157.85 614.8,157.85 615,157.85 615.2,157.85 615.4,157.85 615.6,157.85 615.8,157.85 616,157.85 616.2,157.85 616.4,157.85 616.6,157.85 616.8,157.85 617,157.85 617.2,157.85 617.4,157.84 617.6,157.84 617.8,157.84 618,157.84 618.2,157.84 618.4,157.84 618.6,157.84 618.8,157.84 619,157.84 619.2,157.84 619.4,157.84 619.6,157.84 619.8,157.84 620,157.84 620.2,157.84 620.4,157.83 620.6,157.83 620.8,157.83 621,157.83 621.2,157.83 621.4,157.83 621.6,157.83 621.8,157.83 622,157.83 622.2,157.83 622.4,157.83 622.6,157.83 622.8,157.83 623,157.83 623.2,157.83 623.4,157.83 623.6,157.82 623.8,157.82 624,157.82 624.2,157.82 624.4,157.82 624.6,157.82 624.8,157.82 625,157.82 625.2,157.82 625.4,157.82 625.6,157.82 625.8,157.82 626,157.82 626.2,157.82 626.4,157.82 626.6,157.82 626.8,157.81 627,157.81 627.2,157.81 627.4,157.81 627.6,157.81 627.8,157.81 628,157.81 628.2,157.81 628.4,157.81 628.6,157.81 628.8,157.81 629,157.81 629.2,157.81 629.4,157.81 629.6,157.81 629.8,157.8 630,157.8 630.2,157.8 630.4,157.8 630.6,157.8 630.8,157.8 631,157.8 631.2,157.8 631.4,157.8 631.6,157.8 631.8,157.8 632,157.8 632.2,157.8 632.4,157.8 632.6,157.8 632.8,157.8 633,157.79 633.2,157.79 633.4,157.79 633.6,145.96 633.8,147.35 634,148.58 634.2,149.66 634.4,150.61 634.6,151.46 634.8,152.2 635,152.86 635.2,153.44 635.4,153.95 635.6,154.4 635.8,154.79 636,155.15 636.2,155.45 636.4,155.73 636.6,155.97 636.8,156.18 637,156.37 637.2,156.53 637.4,156.68 637.6,156.81 637.8,156.92 638,157.02 638.2,157.11 638.4,157.19 638.6,157.26 638.8,157.32 639,157.37 639.2,157.42 639.4,157.46 639.6,157.5 639.8,157.53 640,157.56 640.2,157.58 640.4,157.6 640.6,157.62 640.8,157.64 641,157.65 641.2,157.67 641.4,157.68 641.6,157.69 641.8,157.7 642,157.7 642.2,157.71 642.4,157.72 642.6,157.72 642.8,157.73 643,157.73 643.2,157.73 643.4,157.74 643.6,157.74 643.8,157.74 644,157.74 644.2,157.74 644.4,157.74 644.6,157.75 644.8,157.75 645,157.75 645.2,157.75 645.4,157.75 645.6,157.75 645.8,157.75 646,157.75 646.2,157.75 646.4,157.75 646.6,157.75 646.8,157.75 647,157.75 647.2,157.75 647.4,157.75 647.6,157.75 647.8,157.75 648,157.75 648.2,157.74 648.4,157.74 648.6,157.74 648.8,157.74 649,157.74 649.2,157.74 649.4,157.74 649.6,157.74 649.8,157.74 650,157.74 650.2,157.74 650.4,157.74 650.6,157.74 650.8,157.74 651,157.74 651.2,157.74 651.4,157.74 651.6,157.74 651.8,157.73 652,157.73 652.2,157.73 652.4,157.73 652.6,157.73 652.8,157.73 653,157.73 653.2,157.73 653.4,157.73 653.6,157.73 653.8,157.73 654,157.73 654.2,157.73 654.4,157.73 654.6,157.73 654.8,157.73 655,157.72 655.2,157.72 655.4,157.72 655.6,157.72 655.8,157.72 656,157.72 656.2,157.72 656.4,157.72 656.6,157.72 656.8,157.72 657,157.72 657.2,157.72 657.4,157.72 657.6,157.72 657.8,157.72 658,157.71 658.2,157.71 658.4,157.71 658.6,157.71 658.8,157.71 659,157.71 659.2,157.71 659.4,157.71 659.6,157.71 659.8,157.71 660,157.71 660.2,157.71 660.4,157.71 660.6,157.71 660.8,157.71 661,157.71 661.2,157.7 661.4,157.7 661.6,157.7 661.8,157.7 662,157.7 662.2,157.7 662.4,157.7 662.6,157.7 662.8,157.7 663,157.7 663.2,157.7 663.4,157.7 663.6,157.7 663.8,157.7 664,157.7 664.2,157.7 664.4,157.69 664.6,157.69 664.8,157.69 665,157.69 665.2,157.69 665.4,157.69 665.6,157.69 665.8,157.69 666,157.69 666.2,157.69 666.4,157.69 666.6,157.69 666.8,157.69 667,157.69 667.2,157.69 667.4,157.68 667.6,157.68 667.8,157.68 668,157.68 668.2,157.68 668.4,157.68 668.6,157.68 668.8,157.68 669,157.68 669.2,157.68 669.4,157.68 669.6,157.68 669.8,157.68 670,157.68 670.2,157.68 670.4,157.68 670.6,157.67 670.8,157.67 671,157.67 671.2,157.67 671.4,157.67 671.6,157.67 671.8,157.67 672,157.67 672.2,157.67 672.4,157.67 672.6,157.67 672.8,157.67 673,157.67 673.2,157.67 673.4,157.67 673.6,157.67 673.8,157.66 674,157.66 674.2,157.66 674.4,157.66 674.6,157.66 674.8,157.66 675,157.66 675.2,157.66 675.4,157.66 675.6,157.66 675.8,157.66 676,157.66 676.2,157.66 676.4,157.66 676.6,157.66 676.8,157.65 677,157.65 677.2,157.65 677.4,157.65 677.6,157.65 677.8,157.65 678,157.65 678.2,157.65 678.4,157.65 678.6,157.65 678.8,157.65 679,157.65 679.2,157.65 679.4,157.65 679.6,157.65 679.8,157.65 680,157.64 680.2,157.64 680.4,157.64 680.6,157.64 680.8,157.64 681,157.64 681.2,157.64 681.4,157.64 681.6,157.64 681.8,157.64 682,157.64 682.2,157.64 682.4,157.64 682.6,157.64 682.8,157.64 683,157.64 683.2,157.63 683.4,157.63 683.6,157.63 683.8,157.63 684,157.63 684.2,157.63 684.4,157.63 684.6,157.63 684.8,157.63 685,157.63 685.2,157.63 685.4,157.63 685.6,157.63 685.8,157.63 686,157.63 686.2,157.62 686.4,157.62 686.6,157.62 686.8,157.62 687,157.62 687.2,157.62 687.4,157.62 687.6,157.62 687.8,157.62 688,157.62 688.2,157.62 688.4,157.62 688.6,157.62 688.8,157.62 689,157.62 689.2,157.62 689.4,157.61 689.6,157.61 689.8,157.61 690,157.61 690.2,157.61 690.4,157.61 690.6,157.61 690.8,157.61 691,157.61 691.2,157.61 691.4,157.61 691.6,157.61 691.8,157.61 692,157.61 692.2,157.61 692.4,157.61 692.6,157.6 692.8,157.6 693,157.6 693.2,157.6 693.4,157.6 693.6,157.6 693.8,157.6" fill="none" stroke="#333" stroke-width="0.8"/>
<polyline points="436,64.3 436.2,64.82 436.4,65.34 436.6,65.86 436.8,66.38 437,66.9 437.2,67.42 437.4,67.94 437.6,68.46 437.8,68.98 438,69.5 438.2,70.02 438.4,70.55 438.6,71.07 438.8,71.6 439,72.12 439.2,72.64 439.4,73.17 439.6,73.69 439.8,74.21 440,74.74 440.2,75.26 440.4,75.79 440.6,76.32 440.8,76.84 441,77.37 441.2,77.89 441.4,78.42 441.6,78.95 441.8,79.47 442,80 442.2,81.07 442.4,82.14 442.6,83.21 442.8,84.29 443,85.36 443.2,86.43 443.4,87.5 443.6,88 443.8,88.5 444,89 444.2,89.5 444.4,90 444.6,90.5 444.8,91 445,91.5 445.2,92 445.4,93.12 445.6,94.25 445.8,95.37 446,96.5 446.2,97.62 446.4,98.75 446.6,99.87 446.8,101 447,102.25 447.2,103.51 447.4,104.76 447.6,106.01 447.8,107.27 448,108.52" fill="none" stroke="#111" stroke-width="2.4"/>
<polyline points="448,108.52 448.2,109.77 448.4,110.88 448.6,111.83 448.8,112.78 449,113.74 449.2,114.69 449.4,115.64 449.6,116.6 449.8,117.55 450,118.5 450.2,119.46 450.4,120.41 450.6,121.36 450.8,122.32 451,123.27 451.2,124.22 451.4,125.1 451.6,125.89 451.8,126.68 452,127.48 452.2,128.27 452.4,129.06 452.6,129.86 452.8,130.65 453,131.45 453.2,132.24 453.4,133.03 453.6,133.83 453.8,134.62 454,135.41 454.2,136.21 454.4,137 454.6,137.65 454.8,138.29 455,138.94 455.2,139.58 455.4,140.23 455.6,140.87 455.8,141.52 456,142.16 456.2,142.81 456.4,143.45 456.6,144.1 456.8,144.74 457,145.39 457.2,146.03 457.4,146.68 457.6,147.15 457.8,147.46 458,147.77 458.2,148.08 458.4,148.38 458.6,148.69 458.8,149 459,149.3 459.2,149.61 459.4,149.92 459.6,150.23 459.8,150.53 460,150.84 460.2,151.15 460.4,151.46 460.6,151.76 460.8,152.07 461,152.38 461.2,152.69 461.4,152.99 461.6,153.3 461.8,153.42 462,153.54 462.2,153.65 462.4,153.77 462.6,153.89 462.8,154.01 463,154.12 463.2,154.24 463.4,154.36 463.6,154.48 463.8,154.59 464,154.71 464.2,154.83 464.4,154.95 464.6,155.06 464.8,155.18 465,155.3 465.2,155.42 465.4,155.54 465.6,155.65 465.8,155.77 466,155.89 466.2,156.01 466.4,156.12 466.6,156.24 466.8,156.33 467,156.39" fill="none" stroke="#333" stroke-width="1.6"/>
<polyline points="445.1,68.4 445.3,69.12 445.5,69.99 445.7,70.84 445.9,71.22 446.1,71.27 446.3,72.55 446.5,72.85 446.7,74.32 446.9,74.48 447.1,72.3 447.3,73.07 447.5,75.23 447.7,75.3 447.9,77.24 448.1,78.39 448.3,78.72 448.5,80.26 448.7,80.76 448.9,80.06 449.1,81.18 449.3,81.75 449.5,84.14 449.7,84.22 449.9,85.8 450.1,86.84 450.3,89.81 450.5,90.51 450.7,86.81 450.9,89.08 451.1,91.56 451.3,92.86 451.5,94.28 451.7,95.19 451.9,92.05 452.1,95.36 452.3,95.89 452.5,97.27 452.7,100.06 452.9,99.06 453.1,97.32 453.3,101.23 453.5,103.28 453.7,102.1 453.9,103.39 454.1,104.65 454.3,107.54 454.5,107.44 454.7,102.26 454.9,104.65 455.1,104.7 455.3,108.94 455.5,108.81 455.7,111.21 455.9,112.08 456.1,113.41 456.3,106.09 456.5,107.19 456.7,110.26 456.9,111.48 457.1,113.26 457.3,114.1 457.5,115.86 457.7,118.04 457.9,119.91 458.1,118.72 458.3,121.51 458.5,115.84 458.7,116.02 458.9,117.24 459.1,120.96 459.3,120.4 459.5,121.17 459.7,108.57 459.9,112.92 460.1,116.91 460.3,118.72 460.5,120.62 460.7,122.57 460.9,119.05 461.1,121.9 461.3,124.24 461.5,123.34 461.7,125.39 461.9,126.43 462.1,126.75 462.3,121.29 462.5,124.22 462.7,124.08 462.9,126.79 463.1,128.63 463.3,128.24 463.5,131.06 463.7,123.22 463.9,125.03 464.1,125.73 464.3,127.61 464.5,128.65 464.7,131.97 464.9,132.87 465.1,132.04 465.3,129.16 465.5,129.84 465.7,132.56 465.9,133.26 466.1,117 466.3,121.39 466.5,123.84 466.7,127.79 466.9,130.97 467.1,134 467.3,134.49 467.5,135.56 467.7,137.07 467.9,134.58 468.1,135.53 468.3,137.05 468.5,137.78 468.7,139.28 468.9,140.9 469.1,141.68 469.3,138.54 469.5,140.29 469.7,141.23 469.9,140.63 470.1,142.1 470.3,141.84 470.5,142.71 470.7,141.07 470.9,142.89 471.1,142.15 471.3,143.42 471.5,144.04 471.7,143.92 471.9,104.3 472.1,112.64 472.3,120.23 472.5,127.03 472.7,131.25 472.9,135.49 473.1,137.12 473.3,139.44 473.5,142.53 473.7,142.75 473.9,144.67 474.1,144.07 474.3,144.8 474.5,146.82 474.7,144.82 474.9,145 475.1,145.91 475.3,147.7 475.5,147.15 475.7,148.27 475.9,149.33 476.1,146.46 476.3,147.53 476.5,148.7 476.7,132.34 476.9,137.41 477.1,139.85 477.3,141.66 477.5,143.59 477.7,145.23 477.9,145.91 478.1,148.17 478.3,148.58 478.5,142.62 478.7,145.78 478.9,146.48 479.1,147.19 479.3,147.49 479.5,148.95 479.7,150.56 479.9,146.37 480.1,147.22 480.3,148.48 480.5,149.22 480.7,150.09 480.9,150.05 481.1,146.91 481.3,147.75 481.5,149.83 481.7,149.49 481.9,150.54 482.1,151.55 482.3,152 482.5,152.88 482.7,152.65 482.9,152.97 483.1,153.39 483.3,153.96 483.5,154.12 483.7,154.48 483.9,154.83" fill="none" stroke="#ff8080" stroke-width="0.7"/>
<polyline points="445.1,68.4 445.3,69.08 445.5,69.76 445.7,70.44 445.9,71.12 446.1,71.8 446.3,72.6 446.5,73.4 446.7,74.2 446.9,75 447.1,73.24 447.3,74.38 447.5,75.48 447.7,76.53 447.9,77.56 448.1,78.55 448.3,79.52 448.5,80.46 448.7,81.38 448.9,81.38 449.1,82.39 449.3,83.38 449.5,84.34 449.7,85.63 449.9,86.91 450.1,88.16 450.3,89.4 450.5,88.9 450.7,90.44 450.9,91.94 451.1,93.41 451.3,94.84 451.5,96.24 451.7,97.47 451.9,98.53 452.1,99.56 452.3,100.58 452.5,96.8 452.7,98.44 452.9,99.98 453.1,101.43 453.3,102.82 453.5,98.68 453.7,100.57 453.9,102.31 454.1,103.94 454.3,105.45 454.5,106.88 454.7,108.22 454.9,106.06 455.1,107.73 455.3,109.29 455.5,110.75 455.7,112.12 455.9,105.67 456.1,107.94 456.3,110.01 456.5,111.76 456.7,113.2 456.9,114.52 457.1,115.72 457.3,116.84 457.5,110.78 457.7,112.68 457.9,114.4 458.1,115.95 458.3,112.66 458.5,114.58 458.7,116.31 458.9,117.87 459.1,119.3 459.3,120.59 459.5,121.79 459.7,117.66 459.9,119.38 460.1,120.93 460.3,122.34 460.5,123.63 460.7,124.72 460.9,125.72 461.1,126.63 461.3,117.78 461.5,119.86 461.7,121.71 461.9,123.38 462.1,124.87 462.3,126.22 462.5,127.44 462.7,128.56 462.9,129.57 463.1,130.51 463.3,130.01 463.5,130.99 463.7,131.9 463.9,132.74 464.1,133.52 464.3,134.25 464.5,134.94 464.7,135.53 464.9,136.04 465.1,133.83 465.3,134.64 465.5,135.39 465.7,136.07 465.9,132.49 466.1,133.64 466.3,134.67 466.5,135.61 466.7,136.45 466.9,137.23 467.1,128.62 467.3,130.51 467.5,132.2 467.7,133.69 467.9,135.03 468.1,136.23 468.3,137.3 468.5,138.28 468.7,136.1 468.9,137.22 469.1,138.22 469.3,139.11 469.5,139.92 469.7,140.64 469.9,141.29 470.1,141.89 470.3,142.43 470.5,132.32 470.7,134.19 470.9,135.84 471.1,137.3 471.3,138.59 471.5,139.73 471.7,140.75 471.9,141.66 472.1,137.1 472.3,138.55 472.5,139.84 472.7,140.98 472.9,142 473.1,142.9 473.3,143.72 473.5,144.45 473.7,145.11 473.9,142.67 474.1,143.62 474.3,144.47 474.5,145.23 474.7,145.92 474.9,146.54 475.1,147.11 475.3,147.63 475.5,148.1 475.7,148.54 475.9,146.03 476.1,146.8 476.3,147.49 476.5,148.12 476.7,148.69 476.9,140.73 477.1,142.34 477.3,143.76 477.5,145.02 477.7,146.13 477.9,146.31 478.1,147.31 478.3,148.2 478.5,149 478.7,149.72 478.9,150.37 479.1,150.85 479.3,151.29 479.5,150.35 479.7,150.88 479.9,151.35 480.1,151.77 480.3,152.14 480.5,152.48 480.7,148.03 480.9,148.94 481.1,149.74 481.3,150.45 481.5,151.08 481.7,146.02 481.9,147.27 482.1,148.35 482.3,149.31 482.5,150.15 482.7,150.89 482.9,151.55 483.1,152.13 483.3,152.65 483.5,153.11 483.7,153.52 483.9,153.89" fill="none" stroke="#ff3030" stroke-width="0.8"/>
<polyline points="445.1,68.4 445.3,69.08 445.5,69.76 445.7,70.44 445.9,71.12 446.1,71.8 446.3,72.6 446.5,73.4 446.7,74.2 446.9,75 447.1,74.62 447.3,75.58 447.5,76.51 447.7,77.43 447.9,78.33 448.1,79.22 448.3,80.1 448.5,80.97 448.7,81.82 448.9,80.33 449.1,81.48 449.3,82.59 449.5,83.66 449.7,80.69 449.9,82.62 450.1,84.45 450.3,86.18 450.5,87.92 450.7,89.59 450.9,91.21 451.1,92.77 451.3,94.29 451.5,95.77 451.7,97.06 451.9,98.17 452.1,99.25 452.3,97.8 452.5,99.18 452.7,100.5 452.9,101.76 453.1,102.98 453.3,101.64 453.5,103.07 453.7,104.38 453.9,105.62 454.1,106.8 454.3,106.1 454.5,107.44 454.7,108.71 454.9,109.92 455.1,111.08 455.3,112.19 455.5,113.26 455.7,114.3 455.9,115.31 456.1,113.91 456.3,115.19 456.5,116.25 456.7,117.09 456.9,115.59 457.1,116.66 457.3,117.64 457.5,118.57 457.7,119.43 457.9,120.25 458.1,118.29 458.3,119.39 458.5,120.41 458.7,121.36 458.9,122.25 459.1,123.09 459.3,123.89 459.5,124.64 459.7,113.22 459.9,115.53 460.1,117.59 460.3,119.45 460.5,121.13 460.7,122.55 460.9,123.83 461.1,125 461.3,126.07 461.5,122.07 461.7,123.63 461.9,125.04 462.1,126.31 462.3,127.47 462.5,128.53 462.7,129.5 462.9,130.39 463.1,131.22 463.3,122.21 463.5,124.23 463.7,126.04 463.9,127.66 464.1,129.12 464.3,130.43 464.5,131.63 464.7,132.66 464.9,125.31 465.1,127.21 465.3,128.91 465.5,130.41 465.7,131.76 465.9,132.96 466.1,134.05 466.3,128.8 466.5,130.51 466.7,132.04 466.9,133.4 467.1,134.62 467.3,135.72 467.5,136.71 467.7,130.52 467.9,132.28 468.1,133.85 468.3,135.24 468.5,136.49 468.7,137.61 468.9,138.53 469.1,139.36 469.3,140.1 469.5,140.7 469.7,141.32 469.9,141.88 470.1,142.4 470.3,142.87 470.5,143.31 470.7,143.72 470.9,144.1 471.1,144.45 471.3,142.87 471.5,143.44 471.7,143.97 471.9,144.45 472.1,144.89 472.3,145.31 472.5,145.69 472.7,138.8 472.9,140.11 473.1,141.27 473.3,142.3 473.5,143.22 473.7,144.05 473.9,144.79 474.1,145.45 474.3,146.06 474.5,146.04 474.7,146.62 474.9,147.15 475.1,147.64 475.3,148.08 475.5,148.5 475.7,148.89 475.9,149.25 476.1,144.73 476.3,145.69 476.5,146.56 476.7,147.34 476.9,148.04 477.1,146.12 477.3,147.04 477.5,147.86 477.7,148.6 477.9,149.26 478.1,149.87 478.3,150.42 478.5,150.92 478.7,150.15 478.9,150.74 479.1,151.18 479.3,151.57 479.5,151.92 479.7,152.23 479.9,152.52 480.1,152.78 480.3,153.02 480.5,151.47 480.7,151.91 480.9,152.31 481.1,152.66 481.3,152.98 481.5,153.27 481.7,149.54 481.9,150.32 482.1,151 482.3,151.6 482.5,152.14 482.7,152.62 482.9,153.04 483.1,153.42 483.3,153.77 483.5,154.08 483.7,154.36 483.9,154.62" fill="none" stroke="#f00" stroke-width="0.9"/>
<polyline points="436.7,51.8 436.9,52.05 437.1,52.3 437.3,52.56 437.5,52.81 437.7,53.06 437.9,53.31 438.1,53.56 438.3,53.81 438.5,54.07 438.7,54.32 438.9,54.57 439.1,54.82 439.3,55.07 439.5,55.35 439.7,55.64 439.9,55.93 440.1,56.22 440.3,56.52 440.5,56.81 440.7,57.1 440.9,57.4 441.1,57.69 441.3,57.98 441.5,58.27 441.7,58.57 441.9,58.86 442.1,59.15 442.3,59.6 442.5,60.2 442.7,60.8 442.9,61.4 443.1,62 443.3,62.6 443.5,63.2 443.7,63.8 443.9,64.4 444.1,65 444.3,65.68 444.5,66.36 444.7,67.04 444.9,67.72 445.1,68.4 445.3,69.08 445.5,69.76 445.7,70.44 445.9,71.12 446.1,71.8 446.3,72.6 446.5,73.4 446.7,74.2 446.9,75 447.1,75.8 447.3,76.6 447.5,77.4 447.7,78.2 447.9,79 448.1,79.8 448.3,80.6 448.5,81.4 448.7,82.2 448.9,83 449.1,83.8 449.3,84.6 449.5,85.4 449.7,86.55 449.9,87.7 450.1,88.85 450.3,90 450.5,91.23 450.7,92.46 450.9,93.69 451.1,94.92 451.3,96.15 451.5,97.38 451.7,98.46 451.9,99.38 452.1,100.31 452.3,101.23 452.5,102.15 452.7,103.07 452.9,103.99 453.1,104.92 453.3,105.84 453.5,106.71 453.7,107.53 453.9,108.35" fill="none" stroke="#f00" stroke-width="2.4"/>
<polyline points="453.9,108.35 454.1,109.17 454.3,109.99 454.5,110.81 454.7,111.63 454.9,112.45 455.1,113.27 455.3,114.09 455.5,114.91 455.7,115.73 455.9,116.55 456.1,117.37 456.3,118.19 456.5,118.85 456.7,119.35 456.9,119.84 457.1,120.34 457.3,120.84 457.5,121.34 457.7,121.83 457.9,122.33 458.1,122.83 458.3,123.33 458.5,123.82 458.7,124.32 458.9,124.82 459.1,125.32 459.3,125.81 459.5,126.31 459.7,126.81 459.9,127.31 460.1,127.8 460.3,128.3 460.5,128.8 460.7,129.2 460.9,129.6 461.1,130 461.3,130.4 461.5,130.8 461.7,131.2 461.9,131.6 462.1,132 462.3,132.4 462.5,132.8 462.7,133.2 462.9,133.6 463.1,134 463.3,134.4 463.5,134.8 463.7,135.2 463.9,135.6 464.1,136 464.3,136.4 464.5,136.8 464.7,137.15 464.9,137.44 465.1,137.73 465.3,138.02 465.5,138.32 465.7,138.61 465.9,138.9 466.1,139.2 466.3,139.49 466.5,139.78 466.7,140.07 466.9,140.37 467.1,140.66 467.3,140.95 467.5,141.24 467.7,141.54 467.9,141.83 468.1,142.12 468.3,142.41 468.5,142.71 468.7,143 468.9,143.2 469.1,143.41 469.3,143.61 469.5,143.82 469.7,144.02 469.9,144.22 470.1,144.43 470.3,144.63 470.5,144.84 470.7,145.04 470.9,145.24 471.1,145.45 471.3,145.65 471.5,145.85 471.7,146.06 471.9,146.26 472.1,146.47 472.3,146.67 472.5,146.87 472.7,147.08 472.9,147.28 473.1,147.49 473.3,147.69 473.5,147.89 473.7,148.1 473.9,148.3 474.1,148.5 474.3,148.7 474.5,148.9 474.7,149.1 474.9,149.3 475.1,149.5 475.3,149.7 475.5,149.9 475.7,150.1 475.9,150.3 476.1,150.5 476.3,150.7 476.5,150.9 476.7,151.1 476.9,151.3 477.1,151.5 477.3,151.7 477.5,151.9 477.7,152.1 477.9,152.3 478.1,152.5 478.3,152.7 478.5,152.9 478.7,153.1 478.9,153.3 479.1,153.4 479.3,153.49 479.5,153.59 479.7,153.68 479.9,153.78 480.1,153.87 480.3,153.97 480.5,154.06 480.7,154.16 480.9,154.25 481.1,154.35 481.3,154.44 481.5,154.54 481.7,154.63 481.9,154.73" fill="none" stroke="#f00" stroke-width="1.2"/>
<polyline points="477.1,151.5 477.3,151.7 477.5,151.9 477.7,152.1 477.9,152.3 478.1,152.5 478.3,152.7 478.5,152.9 478.7,153.1 478.9,153.3 479.1,153.4 479.3,153.49 479.5,153.59 479.7,153.68 479.9,153.78 480.1,153.87 480.3,153.97 480.5,154.06 480.7,154.16 480.9,154.25 481.1,154.35 481.3,154.44 481.5,154.54 481.7,154.63 481.9,154.73 482.1,154.82 482.3,154.92 482.5,155.01 482.7,155.11 482.9,155.2 483.1,155.3 483.3,155.39 483.5,155.49 483.7,155.58 483.9,155.68 484.1,155.77 484.3,155.87 484.5,155.96 484.7,156.06 484.9,156.15 485.1,156.23 485.3,156.3 485.5,156.36 485.7,156.42 485.9,156.49 486.1,156.55 486.3,156.62 486.5,156.68 486.7,156.74 486.9,156.81 487.1,156.87 487.3,156.94 487.5,157 487.7,157.06 487.9,157.13 488.1,157.19 488.3,157.26 488.5,157.32 488.7,157.38 488.9,157.45 489.1,157.51 489.3,157.58 489.5,157.64 489.7,157.7 489.9,157.77 490.1,157.8 490.3,157.81 490.5,157.82 490.7,157.83 490.9,157.84 491.1,157.84 491.3,157.85 491.5,157.86 491.7,157.87 491.9,157.88 492.1,157.88 492.3,157.89 492.5,157.9 492.7,157.91 492.9,157.92 493.1,157.92 493.3,157.93 493.5,157.94 493.7,157.95 493.9,157.96 494.1,157.96 494.3,157.97 494.5,157.98 494.7,157.99 494.9,158 495.1,158 495.3,158.01 495.5,158.02 495.7,158.03 495.9,158.04 496.1,158.04 496.3,158.05 496.5,158.06 496.7,158.07 496.9,158.08 497.1,158.08 497.3,158.09 497.5,158.1 497.7,158.11 497.9,158.12 498.1,158.12 498.3,158.13 498.5,158.14 498.7,158.15 498.9,158.16 499.1,158.16 499.3,158.17 499.5,158.18 499.7,158.19 499.9,158.2 500.1,158.2 500.3,158.21 500.5,158.22 500.7,158.23 500.9,158.24 501.1,158.24 501.3,158.25 501.5,158.26 501.7,158.27 501.9,158.28 502.1,158.28 502.3,158.29 502.5,158.3 502.7,158.31 502.9,158.32 503.1,158.32 503.3,158.33 503.5,158.34 503.7,158.35 503.9,158.36 504.1,158.36 504.3,158.37 504.5,158.38 504.7,158.39 504.9,158.4 505.1,158.4 505.3,158.41 505.5,158.42 505.7,158.43 505.9,158.44 506.1,158.44 506.3,158.45 506.5,158.46 506.7,158.47 506.9,158.48 507.1,158.48 507.3,158.49 507.5,158.5 507.7,158.51 507.9,158.52 508.1,158.52 508.3,158.53 508.5,158.54 508.7,158.55 508.9,158.56 509.1,158.56 509.3,158.57 509.5,158.58 509.7,158.59 509.9,158.6 510.1,158.6 510.3,158.61 510.5,158.62 510.7,158.63 510.9,158.64 511.1,158.64 511.3,158.65 511.5,158.66 511.7,158.67 511.9,158.68 512.1,158.68 512.3,158.69 512.5,158.7 512.7,158.71 512.9,158.72 513.1,158.72 513.3,158.73 513.5,158.74 513.7,158.75 513.9,158.76 514.1,158.76 514.3,158.77 514.5,158.78 514.7,158.79 514.9,158.8 515.1,158.8 515.3,158.81 515.5,158.82 515.7,158.83 515.9,158.84 516.1,158.84 516.3,158.85 516.5,158.86 516.7,158.87 516.9,158.88 517.1,158.88 517.3,158.89 517.5,158.9 517.7,158.91 517.9,158.92 518.1,158.92 518.3,158.93 518.5,158.94 518.7,158.95 518.9,158.96 519.1,158.96 519.3,158.97 519.5,158.98 519.7,158.99 519.9,159 520.1,159 520.3,159 520.5,159 520.7,159 520.9,159 521.1,159 521.3,159 521.5,159 521.7,158.99 521.9,158.99 522.1,158.99 522.3,158.99 522.5,158.99 522.7,158.99 522.9,158.99 523.1,158.99 523.3,158.99 523.5,158.99 523.7,158.99 523.9,158.99 524.1,158.99 524.3,158.99 524.5,158.99 524.7,158.98 524.9,158.98 525.1,158.98 525.3,158.98 525.5,158.98 525.7,158.98 525.9,158.98 526.1,158.98 526.3,158.98 526.5,158.98 526.7,158.98 526.9,158.98 527.1,158.98 527.3,158.98 527.5,158.98 527.7,158.97 527.9,158.97 528.1,158.97 528.3,158.97 528.5,158.97 528.7,158.97 528.9,158.97 529.1,158.97 529.3,158.97 529.5,158.97 529.7,158.97 529.9,158.97 530.1,158.97 530.3,158.97 530.5,158.97 530.7,158.96 530.9,158.96 531.1,158.96 531.3,158.96 531.5,158.96 531.7,158.96 531.9,158.96 532.1,158.96 532.3,158.96 532.5,158.96 532.7,158.96 532.9,158.96 533.1,158.96 533.3,158.96 533.5,158.96 533.7,158.95 533.9,158.95 534.1,158.95 534.3,158.95 534.5,158.95 534.7,158.95 534.9,158.95 535.1,158.95 535.3,158.95 535.5,158.95 535.7,158.95 535.9,158.95 536.1,158.95 536.3,158.95 536.5,158.95 536.7,158.94 536.9,158.94 537.1,158.94 537.3,158.94 537.5,158.94 537.7,158.94 537.9,158.94 538.1,158.94 538.3,158.94 538.5,158.94 538.7,158.94 538.9,158.94 539.1,158.94 539.3,158.94 539.5,158.94 539.7,158.93 539.9,158.93 540.1,158.93 540.3,158.93 540.5,158.93 540.7,158.93 540.9,158.93 541.1,158.93 541.3,158.93 541.5,158.93 541.7,158.93 541.9,158.93 542.1,158.93 542.3,158.93 542.5,158.93 542.7,158.92 542.9,158.92 543.1,158.92 543.3,158.92 543.5,158.92 543.7,158.92 543.9,158.92 544.1,158.92 544.3,158.92 544.5,158.92 544.7,158.92 544.9,158.92 545.1,158.92 545.3,158.92 545.5,158.92 545.7,158.91 545.9,158.91 546.1,158.91 546.3,158.91 546.5,158.91 546.7,158.91 546.9,158.91 547.1,158.91 547.3,158.91 547.5,158.91 547.7,158.91 547.9,158.91 548.1,158.91 548.3,158.91 548.5,158.91 548.7,158.9 548.9,158.9 549.1,158.9 549.3,158.9 549.5,158.9 549.7,158.9 549.9,158.9 550.1,158.9 550.3,158.89 550.5,158.88 550.7,158.88 550.9,158.87 551.1,158.86 551.3,158.86 551.5,158.85 551.7,158.84 551.9,158.84 552.1,158.83 552.3,158.82 552.5,158.82 552.7,158.81 552.9,158.8 553.1,158.8 553.3,158.79 553.5,158.78 553.7,158.78 553.9,158.77 554.1,158.76 554.3,158.76 554.5,158.75 554.7,158.74 554.9,158.74 555.1,158.73 555.3,158.72 555.5,158.72 555.7,158.71 555.9,158.7 556.1,158.7 556.3,158.69 556.5,158.68 556.7,158.68 556.9,158.67 557.1,158.66 557.3,158.66 557.5,158.65 557.7,158.64 557.9,158.64 558.1,158.63 558.3,158.62 558.5,158.62 558.7,158.61 558.9,158.6 559.1,158.6 559.3,158.59 559.5,158.58 559.7,158.58 559.9,158.57 560.1,158.56 560.3,158.56 560.5,158.55 560.7,158.54 560.9,158.54 561.1,158.53 561.3,158.52 561.5,158.52 561.7,158.51 561.9,158.5 562.1,158.5 562.3,158.49 562.5,158.48 562.7,158.48 562.9,158.47 563.1,158.46 563.3,158.46 563.5,158.45 563.7,158.44 563.9,158.44 564.1,158.43 564.3,158.42 564.5,158.42 564.7,158.41 564.9,158.4 565.1,158.4 565.3,158.39 565.5,158.38 565.7,158.38 565.9,158.37 566.1,158.36 566.3,158.36 566.5,158.35 566.7,158.34 566.9,158.34 567.1,158.33 567.3,158.32 567.5,158.32 567.7,158.31 567.9,158.3 568.1,158.3 568.3,158.29 568.5,158.28 568.7,158.28 568.9,158.27 569.1,158.26 569.3,158.26 569.5,158.25 569.7,158.24 569.9,158.24 570.1,158.23 570.3,158.22 570.5,158.22 570.7,158.21 570.9,158.2 571.1,158.2 571.3,158.19 571.5,158.18 571.7,158.18 571.9,158.17 572.1,158.16 572.3,158.16 572.5,158.15 572.7,158.14 572.9,158.14 573.1,158.13 573.3,158.12 573.5,158.12 573.7,158.11 573.9,158.1 574.1,158.1 574.3,158.09 574.5,158.08 574.7,158.08 574.9,158.07 575.1,158.06 575.3,158.06 575.5,158.05 575.7,158.04 575.9,158.04 576.1,158.03 576.3,158.02 576.5,158.02 576.7,158.01 576.9,158 577.1,158 577.3,157.99 577.5,157.98 577.7,157.98 577.9,157.97 578.1,157.96 578.3,157.96 578.5,157.95 578.7,157.94 578.9,157.94 579.1,157.93 579.3,157.92 579.5,157.92 579.7,157.91 579.9,157.9 580.1,157.89 580.3,157.88 580.5,157.87 580.7,157.86 580.9,157.85 581.1,157.84 581.3,157.83 581.5,157.82 581.7,157.81 581.9,157.8 582.1,157.78 582.3,157.77 582.5,157.76 582.7,157.75 582.9,157.74 583.1,157.73 583.3,157.72 583.5,157.71 583.7,157.7 583.9,157.69 584.1,157.67 584.3,157.66 584.5,157.65 584.7,157.64 584.9,157.63 585.1,157.62 585.3,157.61 585.5,157.6 585.7,157.59 585.9,157.58 586.1,157.56 586.3,157.55 586.5,157.54 586.7,157.53 586.9,157.52 587.1,157.51 587.3,157.5 587.5,157.49 587.7,157.48 587.9,157.47 588.1,157.45 588.3,157.44 588.5,157.43 588.7,157.42 588.9,157.41 589.1,157.4 589.3,157.39 589.5,157.38 589.7,157.37 589.9,157.36 590.1,157.34 590.3,157.33 590.5,157.32 590.7,157.31 590.9,157.3 591.1,157.29 591.3,157.28 591.5,157.27 591.7,157.26 591.9,157.25 592.1,157.23 592.3,157.22 592.5,157.21 592.7,157.2 592.9,157.19 593.1,157.18 593.3,157.17 593.5,157.16 593.7,157.15 593.9,157.14 594.1,157.12 594.3,157.11 594.5,157.1 594.7,157.09 594.9,157.08 595.1,157.07 595.3,157.06 595.5,157.05 595.7,157.04 595.9,157.03 596.1,157.01 596.3,157 596.5,156.99 596.7,156.98 596.9,156.97 597.1,156.96 597.3,156.95 597.5,156.94 597.7,156.93 597.9,156.92 598.1,156.9 598.3,156.89 598.5,156.88 598.7,156.87 598.9,156.86 599.1,156.85 599.3,156.84 599.5,156.83 599.7,156.82 599.9,156.81 600.1,156.8 600.3,156.79 600.5,156.79 600.7,156.79 600.9,156.78 601.1,156.78 601.3,156.77 601.5,156.77 601.7,156.77 601.9,156.76 602.1,156.76 602.3,156.75 602.5,156.75 602.7,156.75 602.9,156.74 603.1,156.74 603.3,156.73 603.5,156.73 603.7,156.73 603.9,156.72 604.1,156.72 604.3,156.71 604.5,156.71 604.7,156.71 604.9,156.7 605.1,156.7 605.3,156.69 605.5,156.69 605.7,156.69 605.9,156.68 606.1,156.68 606.3,156.67 606.5,156.67 606.7,156.67 606.9,156.66 607.1,156.66 607.3,156.65 607.5,156.65 607.7,156.65 607.9,156.64 608.1,156.64 608.3,156.63 608.5,156.63 608.7,156.63 608.9,156.62 609.1,156.62 609.3,156.61 609.5,156.61 609.7,156.61 609.9,156.6 610.1,156.6 610.3,156.59 610.5,156.59 610.7,156.59 610.9,156.58 611.1,156.58 611.3,156.57 611.5,156.57 611.7,156.57 611.9,156.56 612.1,156.56 612.3,156.55 612.5,156.55 612.7,156.55 612.9,156.54 613.1,156.54 613.3,156.53 613.5,156.53 613.7,156.53 613.9,156.52 614.1,156.52 614.3,156.51 614.5,156.51 614.7,156.51 614.9,156.5 615.1,156.5 615.3,156.49 615.5,156.49 615.7,156.49 615.9,156.48 616.1,156.48 616.3,156.47 616.5,156.47 616.7,156.47 616.9,156.46 617.1,156.46 617.3,156.45 617.5,156.45 617.7,156.45 617.9,156.44 618.1,156.44 618.3,156.43 618.5,156.43 618.7,156.43 618.9,156.42 619.1,156.42 619.3,156.41 619.5,156.41 619.7,156.41 619.9,156.4 620.1,156.4 620.3,156.39 620.5,156.39 620.7,156.39 620.9,156.38 621.1,156.38 621.3,156.37 621.5,156.37 621.7,156.37 621.9,156.36 622.1,156.36 622.3,156.35 622.5,156.35 622.7,156.35 622.9,156.34 623.1,156.34 623.3,156.33 623.5,156.33 623.7,156.33 623.9,156.32 624.1,156.32 624.3,156.31 624.5,156.31 624.7,156.31 624.9,156.3 625.1,156.3 625.3,156.29 625.5,156.29 625.7,156.29 625.9,156.28 626.1,156.28 626.3,156.27 626.5,156.27 626.7,156.27 626.9,156.26 627.1,156.26 627.3,156.25 627.5,156.25 627.7,156.25 627.9,156.24 628.1,156.24 628.3,156.23 628.5,156.23 628.7,156.23 628.9,156.22 629.1,156.22 629.3,156.21 629.5,156.21 629.7,156.21 629.9,156.2 630.1,156.2 630.3,156.19 630.5,156.19 630.7,156.19 630.9,156.18 631.1,156.18 631.3,156.17 631.5,156.17 631.7,156.17 631.9,156.16 632.1,156.16 632.3,156.15 632.5,156.15 632.7,156.15 632.9,156.14 633.1,156.14 633.3,156.13 633.5,156.13 633.7,156.13 633.9,156.12 634.1,156.12 634.3,156.11 634.5,156.11 634.7,156.11 634.9,156.1 635.1,156.1 635.3,156.09 635.5,156.09 635.7,156.09 635.9,156.08 636.1,156.08 636.3,156.07 636.5,156.07 636.7,156.07 636.9,156.06 637.1,156.06 637.3,156.05 637.5,156.05 637.7,156.05 637.9,156.04 638.1,156.04 638.3,156.03 638.5,156.03 638.7,156.03 638.9,156.02 639.1,156.02 639.3,156.01 639.5,156.01 639.7,156.01 639.9,156 640.1,156 640.3,155.99 640.5,155.98 640.7,155.98 640.9,155.97 641.1,155.96 641.3,155.96 641.5,155.95 641.7,155.94 641.9,155.94 642.1,155.93 642.3,155.92 642.5,155.91 642.7,155.91 642.9,155.9 643.1,155.89 643.3,155.89 643.5,155.88 643.7,155.87 643.9,155.87 644.1,155.86 644.3,155.85 644.5,155.85 644.7,155.84 644.9,155.83 645.1,155.83 645.3,155.82 645.5,155.81 645.7,155.81 645.9,155.8 646.1,155.79 646.3,155.79 646.5,155.78 646.7,155.77 646.9,155.76 647.1,155.76 647.3,155.75 647.5,155.74 647.7,155.74 647.9,155.73 648.1,155.72 648.3,155.72 648.5,155.71 648.7,155.7 648.9,155.7 649.1,155.69 649.3,155.68 649.5,155.68 649.7,155.67 649.9,155.66 650.1,155.66 650.3,155.65 650.5,155.64 650.7,155.64 650.9,155.63 651.1,155.62 651.3,155.61 651.5,155.61 651.7,155.6 651.9,155.59 652.1,155.59 652.3,155.58 652.5,155.57 652.7,155.57 652.9,155.56 653.1,155.55 653.3,155.55 653.5,155.54 653.7,155.53 653.9,155.53 654.1,155.52 654.3,155.51 654.5,155.51 654.7,155.5 654.9,155.49 655.1,155.49 655.3,155.48 655.5,155.47 655.7,155.46 655.9,155.46 656.1,155.45 656.3,155.44 656.5,155.44 656.7,155.43 656.9,155.42 657.1,155.42 657.3,155.41 657.5,155.4 657.7,155.4 657.9,155.39 658.1,155.38 658.3,155.38 658.5,155.37 658.7,155.36 658.9,155.36 659.1,155.35 659.3,155.34 659.5,155.34 659.7,155.33 659.9,155.32 660.1,155.31 660.3,155.31 660.5,155.3 660.7,155.29 660.9,155.29 661.1,155.28 661.3,155.27 661.5,155.27 661.7,155.26 661.9,155.25 662.1,155.25 662.3,155.24 662.5,155.23 662.7,155.23 662.9,155.22 663.1,155.21 663.3,155.21 663.5,155.2 663.7,155.19 663.9,155.19 664.1,155.18 664.3,155.17 664.5,155.16 664.7,155.16 664.9,155.15 665.1,155.14 665.3,155.14 665.5,155.13 665.7,155.12 665.9,155.12 666.1,155.11 666.3,155.1 666.5,155.1 666.7,155.09 666.9,155.08 667.1,155.08 667.3,155.07 667.5,155.06 667.7,155.06 667.9,155.05 668.1,155.04 668.3,155.04 668.5,155.03 668.7,155.02 668.9,155.01 669.1,155.01 669.3,155 669.5,154.99 669.7,154.99 669.9,154.98 670.1,154.97 670.3,154.97 670.5,154.96 670.7,154.95 670.9,154.95 671.1,154.94 671.3,154.93 671.5,154.93 671.7,154.92 671.9,154.91 672.1,154.91 672.3,154.9 672.5,154.89 672.7,154.89 672.9,154.88 673.1,154.87 673.3,154.86 673.5,154.86 673.7,154.85 673.9,154.84 674.1,154.84 674.3,154.83 674.5,154.82 674.7,154.82 674.9,154.81 675.1,154.8 675.3,154.8 675.5,154.79 675.7,154.78 675.9,154.78 676.1,154.77 676.3,154.76 676.5,154.76 676.7,154.75 676.9,154.74 677.1,154.74 677.3,154.73 677.5,154.72 677.7,154.71 677.9,154.71 678.1,154.7 678.3,154.69 678.5,154.69 678.7,154.68 678.9,154.67 679.1,154.67 679.3,154.66 679.5,154.65 679.7,154.65 679.9,154.64 680.1,154.63 680.3,154.63 680.5,154.62 680.7,154.61 680.9,154.61 681.1,154.6 681.3,154.59 681.5,154.59 681.7,154.58 681.9,154.57 682.1,154.56 682.3,154.56 682.5,154.55 682.7,154.54 682.9,154.54 683.1,154.53 683.3,154.52 683.5,154.52 683.7,154.51 683.9,154.5" fill="none" stroke="#f00" stroke-width="1.6"/>
<polyline points="477.1,151.5 477.3,151.7 477.5,151.9 477.7,152.1 477.9,152.3 478.1,152.5 478.3,152.7 478.5,152.9 478.7,153.1 478.9,153.3 479.1,153.4 479.3,153.49 479.5,153.59 479.7,153.68 479.9,153.78 480.1,153.87 480.3,153.97 480.5,154.06 480.7,154.16 480.9,154.25 481.1,154.35 481.3,154.44 481.5,154.54 481.7,154.63 481.9,154.73 482.1,154.82 482.3,154.92 482.5,155.01 482.7,155.11 482.9,155.2 483.1,155.3 483.3,155.39 483.5,155.49 483.7,155.58 483.9,155.68 484.1,155.77 484.3,155.87 484.5,155.96 484.7,156.06 484.9,156.15 485.1,137.35 485.3,140.11 485.5,142.48 485.7,144.52 485.9,146.28 486.1,147.8 486.3,132 486.5,135.57 486.7,138.65 486.9,141.29 487.1,143.57 487.3,145.53 487.5,147.22 487.7,148.68 487.9,149.94 488.1,139.08 488.3,141.73 488.5,144.01 488.7,145.97 488.9,147.66 489.1,149.12 489.3,150.38 489.5,151.47 489.7,152.41 489.9,153.23 490.1,153.92 490.3,154.48 490.5,154.96 490.7,155.38 490.9,155.73 491.1,156.04 491.3,156.31 491.5,156.54 491.7,156.73 491.9,156.9 492.1,157.05 492.3,157.18 492.5,157.29 492.7,157.38 492.9,157.46 493.1,157.54 493.3,138 493.5,140.85 493.7,143.29 493.9,145.39 494.1,147.19 494.3,148.74 494.5,150.06 494.7,151.2 494.9,152.17 495.1,153.01 495.3,153.73 495.5,154.35 495.7,142.26 495.9,144.52 496.1,146.46 496.3,148.12 496.5,149.54 496.7,150.76 496.9,151.81 497.1,152.71 497.3,153.49 497.5,132.47 497.7,136.13 497.9,139.27 498.1,141.97 498.3,144.28 498.5,146.26 498.7,147.97 498.9,149.43 499.1,150.68 499.3,151.75 499.5,152.68 499.7,153.47 499.9,154.15 500.1,154.74 500.3,155.24 500.5,155.67 500.7,156.04 500.9,156.36 501.1,147.07 501.3,148.67 501.5,150.04 501.7,151.22 501.9,152.24 502.1,153.1 502.3,153.85 502.5,154.49 502.7,155.04 502.9,155.52 503.1,155.92 503.3,142.29 503.5,144.58 503.7,146.55 503.9,148.24 504.1,149.69 504.3,150.94 504.5,152.01 504.7,152.92 504.9,153.71 505.1,154.39 505.3,154.97 505.5,155.47 505.7,155.9 505.9,156.26 506.1,156.58 506.3,156.86 506.5,157.09 506.7,157.29 506.9,157.47 507.1,157.62 507.3,157.75 507.5,157.87 507.7,157.96 507.9,158.05 508.1,158.12 508.3,158.19 508.5,158.25 508.7,158.3 508.9,158.34 509.1,152.21 509.3,153.13 509.5,153.91 509.7,154.58 509.9,155.16 510.1,155.66 510.3,156.09 510.5,156.46 510.7,147.31 510.9,148.93 511.1,150.32 511.3,151.52 511.5,152.54 511.7,153.42 511.9,154.18 512.1,154.83 512.3,155.39 512.5,155.87 512.7,156.28 512.9,156.63 513.1,156.94 513.3,157.2 513.5,157.43 513.7,157.62 513.9,157.79 514.1,157.94 514.3,158.06 514.5,158.17 514.7,158.27 514.9,158.35 515.1,158.42 515.3,158.48 515.5,158.54 515.7,158.59 515.9,158.63 516.1,158.67 516.3,158.7 516.5,158.73 516.7,158.76 516.9,146.64 517.1,148.4 517.3,149.9 517.5,151.19 517.7,152.3 517.9,153.25 518.1,154.06 518.3,154.76 518.5,155.37 518.7,155.88 518.9,156.33 519.1,156.71 519.3,157.04 519.5,157.32 519.7,157.57 519.9,157.78 520.1,157.96 520.3,158.1 520.5,158.23 520.7,158.34 520.9,158.43 521.1,158.51 521.3,158.58 521.5,158.64 521.7,158.69 521.9,158.73 522.1,158.77 522.3,158.8 522.5,158.83 522.7,158.85 522.9,158.87 523.1,158.89 523.3,140.13 523.5,142.82 523.7,145.13 523.9,147.1 524.1,148.8 524.3,150.25 524.5,151.49 524.7,152.56 524.9,153.48 525.1,154.26 525.3,154.93 525.5,155.51 525.7,156.01 525.9,156.43 526.1,145.11 526.3,147.09 526.5,148.78 526.7,150.23 526.9,151.48 527.1,152.55 527.3,153.46 527.5,154.25 527.7,154.92 527.9,155.5 528.1,155.99 528.3,156.42 528.5,156.78 528.7,157.09 528.9,157.36 529.1,157.59 529.3,157.79 529.5,157.95 529.7,158.1 529.9,158.22 530.1,158.33 530.3,145.66 530.5,147.56 530.7,149.19 530.9,150.58 531.1,151.77 531.3,152.8 531.5,153.68 531.7,154.43 531.9,155.08 532.1,155.63 532.3,156.1 532.5,156.51 532.7,156.86 532.9,157.16 533.1,157.41 533.3,157.63 533.5,157.82 533.7,157.98 533.9,158.12 534.1,158.24 534.3,158.34 534.5,158.43 534.7,158.5 534.9,158.56 535.1,158.62 535.3,158.66 535.5,158.7 535.7,158.74 535.9,158.77 536.1,158.79 536.3,158.81 536.5,158.83 536.7,158.85 536.9,158.86 537.1,158.87 537.3,158.88 537.5,158.89 537.7,158.9 537.9,158.9 538.1,158.91 538.3,158.91 538.5,144.55 538.7,146.6 538.9,148.36 539.1,149.87 539.3,151.16 539.5,152.27 539.7,153.22 539.9,154.03 540.1,154.73 540.3,155.33 540.5,155.84 540.7,156.28 540.9,156.66 541.1,156.98 541.3,157.26 541.5,157.5 541.7,157.7 541.9,157.87 542.1,158.02 542.3,158.15 542.5,158.26 542.7,158.36 542.9,158.44 543.1,158.5 543.3,158.56 543.5,158.61 543.7,158.66 543.9,152.99 544.1,153.83 544.3,154.56 544.5,155.18 544.7,155.71 544.9,156.17 545.1,156.56 545.3,156.89 545.5,157.18 545.7,157.43 545.9,157.64 546.1,157.82 546.3,157.98 546.5,158.11 546.7,158.22 546.9,158.32 547.1,158.4 547.3,158.47 547.5,158.54 547.7,158.59 547.9,158.63 548.1,158.67 548.3,158.7 548.5,158.73 548.7,158.76 548.9,158.78 549.1,158.79 549.3,158.81 549.5,158.82 549.7,158.83 549.9,158.84 550.1,158.85 550.3,158.85 550.5,158.85 550.7,158.84 550.9,158.84 551.1,158.84 551.3,158.84 551.5,158.83 551.7,158.83 551.9,158.82 552.1,158.82 552.3,158.81 552.5,158.81 552.7,158.8 552.9,158.8 553.1,158.79 553.3,158.79 553.5,158.78 553.7,158.77 553.9,158.77 554.1,158.76 554.3,158.75 554.5,158.75 554.7,158.74 554.9,158.74 555.1,158.73 555.3,158.72 555.5,158.72 555.7,158.71 555.9,158.7 556.1,158.7 556.3,158.69 556.5,158.68 556.7,158.68 556.9,158.67 557.1,158.66 557.3,158.66 557.5,158.65 557.7,158.64 557.9,145.74 558.1,147.57 558.3,149.14 558.5,150.49 558.7,151.64 558.9,152.63 559.1,153.47 559.3,154.2 559.5,154.82 559.7,155.35 559.9,155.8 560.1,156.19 560.3,156.52 560.5,156.8 560.7,157.05 560.9,157.25 561.1,157.43 561.3,157.58 561.5,157.71 561.7,157.82 561.9,157.91 562.1,157.99 562.3,158.05 562.5,158.11 562.7,158.16 562.9,158.19 563.1,158.23 563.3,158.25 563.5,158.28 563.7,158.29 563.9,158.31 564.1,158.32 564.3,158.33 564.5,158.34 564.7,158.34 564.9,158.34 565.1,158.35 565.3,158.35 565.5,158.35 565.7,158.34 565.9,158.34 566.1,158.34 566.3,158.34 566.5,158.33 566.7,158.33 566.9,158.32 567.1,158.32 567.3,158.31 567.5,158.31 567.7,158.3 567.9,158.3 568.1,158.29 568.3,147.83 568.5,149.32 568.7,150.59 568.9,151.68 569.1,152.61 569.3,153.41 569.5,154.1 569.7,154.68 569.9,155.18 570.1,155.61 570.3,155.98 570.5,156.29 570.7,156.56 570.9,156.79 571.1,156.98 571.3,157.15 571.5,157.29 571.7,157.41 571.9,157.51 572.1,157.6 572.3,157.67 572.5,157.74 572.7,157.79 572.9,157.83 573.1,157.87 573.3,157.9 573.5,157.93 573.7,157.95 573.9,157.96 574.1,157.98 574.3,157.99 574.5,157.99 574.7,158 574.9,158 575.1,158.01 575.3,158.01 575.5,158.01 575.7,158.01 575.9,158.01 576.1,158 576.3,158 576.5,158 576.7,157.99 576.9,157.99 577.1,157.98 577.3,157.98 577.5,157.97 577.7,157.97 577.9,157.96 578.1,157.96 578.3,157.95 578.5,157.95 578.7,157.94 578.9,157.93 579.1,157.93 579.3,157.92 579.5,157.91 579.7,157.91 579.9,157.9 580.1,157.89 580.3,157.88 580.5,157.87 580.7,157.86 580.9,157.85 581.1,157.84 581.3,157.83 581.5,157.82 581.7,157.81 581.9,157.8 582.1,157.78 582.3,157.77 582.5,157.76 582.7,157.75 582.9,157.74 583.1,157.73 583.3,157.72 583.5,157.71 583.7,157.7 583.9,157.69 584.1,157.67 584.3,157.66 584.5,157.65 584.7,157.64 584.9,157.63 585.1,157.62 585.3,157.61 585.5,157.6 585.7,157.59 585.9,157.58 586.1,157.56 586.3,157.55 586.5,157.54 586.7,157.53 586.9,157.52 587.1,157.51 587.3,157.5 587.5,157.49 587.7,157.48 587.9,157.47 588.1,157.45 588.3,157.44 588.5,157.43 588.7,157.42 588.9,157.41 589.1,157.4 589.3,157.39 589.5,157.38 589.7,157.37 589.9,157.36 590.1,157.34 590.3,157.33 590.5,157.32 590.7,157.31 590.9,157.3 591.1,157.29 591.3,157.28 591.5,157.27 591.7,157.26 591.9,157.25 592.1,157.23 592.3,157.22 592.5,157.21 592.7,157.2 592.9,157.19 593.1,157.18 593.3,157.17 593.5,139.88 593.7,142.33 593.9,144.43 594.1,146.23 594.3,147.77 594.5,149.09 594.7,150.23 594.9,151.19 595.1,152.02 595.3,152.73 595.5,153.34 595.7,153.86 595.9,154.3 596.1,154.68 596.3,155 596.5,155.27 596.7,155.51 596.9,155.71 597.1,155.88 597.3,156.02 597.5,156.14 597.7,156.24 597.9,156.33 598.1,156.4 598.3,156.46 598.5,156.51 598.7,156.55 598.9,156.59 599.1,156.62 599.3,156.64 599.5,156.66 599.7,156.67 599.9,156.68 600.1,156.69 600.3,156.7 600.5,143.46 600.7,145.36 600.9,146.99 601.1,148.38 601.3,149.57 601.5,150.59 601.7,151.47 601.9,152.22 602.1,152.87 602.3,153.42 602.5,153.89 602.7,154.29 602.9,154.64 603.1,154.93 603.3,155.19 603.5,155.4 603.7,155.59 603.9,155.75 604.1,155.88 604.3,156 604.5,156.1 604.7,156.18 604.9,156.25 605.1,156.31 605.3,156.36 605.5,156.41 605.7,156.44 605.9,156.47 606.1,156.5 606.3,156.52 606.5,156.54 606.7,156.55 606.9,156.57 607.1,156.57 607.3,156.58 607.5,156.59 607.7,156.59 607.9,156.6 608.1,156.6 608.3,156.6 608.5,156.6 608.7,156.6 608.9,156.6 609.1,156.6 609.3,156.6 609.5,156.6 609.7,156.59 609.9,156.59 610.1,156.59 610.3,156.59 610.5,156.58 610.7,156.58 610.9,156.58 611.1,156.57 611.3,156.57 611.5,156.57 611.7,156.56 611.9,156.56 612.1,156.56 612.3,156.55 612.5,156.55 612.7,156.54 612.9,156.54 613.1,156.54 613.3,156.53 613.5,156.53 613.7,156.53 613.9,156.52 614.1,156.52 614.3,156.51 614.5,156.51 614.7,156.51 614.9,156.5 615.1,156.5 615.3,156.49 615.5,156.49 615.7,156.49 615.9,156.48 616.1,156.48 616.3,156.47 616.5,156.47 616.7,156.47 616.9,156.46 617.1,156.46 617.3,156.45 617.5,156.45 617.7,156.45 617.9,156.44 618.1,156.44 618.3,156.43 618.5,156.43 618.7,156.43 618.9,156.42 619.1,156.42 619.3,156.41 619.5,156.41 619.7,156.41 619.9,156.4 620.1,156.4 620.3,156.39 620.5,156.39 620.7,156.39 620.9,156.38 621.1,156.38 621.3,156.37 621.5,156.37 621.7,156.37 621.9,156.36 622.1,156.36 622.3,156.35 622.5,156.35 622.7,156.35 622.9,150.21 623.1,151.08 623.3,151.83 623.5,152.47 623.7,153.01 623.9,153.48 624.1,153.88 624.3,154.23 624.5,154.52 624.7,154.77 624.9,154.99 625.1,155.17 625.3,155.33 625.5,155.46 625.7,155.58 625.9,155.67 626.1,155.76 626.3,155.83 626.5,155.89 626.7,155.94 626.9,155.98 627.1,156.02 627.3,156.05 627.5,156.07 627.7,156.09 627.9,156.11 628.1,156.13 628.3,156.14 628.5,156.15 628.7,156.16 628.9,156.16 629.1,156.17 629.3,156.17 629.5,156.17 629.7,156.17 629.9,156.17 630.1,156.17 630.3,156.17 630.5,156.17 630.7,156.17 630.9,156.17 631.1,156.17 631.3,156.16 631.5,156.16 631.7,156.16 631.9,156.16 632.1,156.15 632.3,156.15 632.5,156.15 632.7,156.14 632.9,156.14 633.1,156.14 633.3,156.13 633.5,156.13 633.7,156.12 633.9,156.12 634.1,156.12 634.3,156.11 634.5,156.11 634.7,156.11 634.9,156.1 635.1,156.1 635.3,156.09 635.5,156.09 635.7,156.09 635.9,156.08 636.1,156.08 636.3,156.07 636.5,156.07 636.7,156.07 636.9,156.06 637.1,156.06 637.3,156.05 637.5,156.05 637.7,156.05 637.9,156.04 638.1,156.04 638.3,156.03 638.5,156.03 638.7,156.03 638.9,156.02 639.1,156.02 639.3,156.01 639.5,156.01 639.7,156.01 639.9,156 640.1,156 640.3,155.99 640.5,155.98 640.7,155.98 640.9,155.97 641.1,155.96 641.3,155.96 641.5,155.95 641.7,155.94 641.9,155.94 642.1,155.93 642.3,155.92 642.5,155.91 642.7,155.91 642.9,155.9 643.1,155.89 643.3,155.89 643.5,155.88 643.7,155.87 643.9,155.87 644.1,155.86 644.3,155.85 644.5,155.85 644.7,155.84 644.9,155.83 645.1,155.83 645.3,155.82 645.5,155.81 645.7,155.81 645.9,155.8 646.1,155.79 646.3,155.79 646.5,155.78 646.7,155.77 646.9,155.76 647.1,155.76 647.3,155.75 647.5,155.74 647.7,155.74 647.9,155.73 648.1,155.72 648.3,155.72 648.5,155.71 648.7,155.7 648.9,155.7 649.1,155.69 649.3,155.68 649.5,155.68 649.7,155.67 649.9,155.66 650.1,155.66 650.3,155.65 650.5,155.64 650.7,155.64 650.9,155.63 651.1,155.62 651.3,155.61 651.5,155.61 651.7,155.6 651.9,155.59 652.1,155.59 652.3,155.58 652.5,155.57 652.7,155.57 652.9,155.56 653.1,155.55 653.3,155.55 653.5,155.54 653.7,155.53 653.9,155.53 654.1,155.52 654.3,155.51 654.5,155.51 654.7,155.5 654.9,155.49 655.1,155.49 655.3,155.48 655.5,155.47 655.7,155.46 655.9,155.46 656.1,155.45 656.3,155.44 656.5,155.44 656.7,155.43 656.9,155.42 657.1,155.42 657.3,155.41 657.5,155.4 657.7,155.4 657.9,155.39 658.1,155.38 658.3,155.38 658.5,155.37 658.7,155.36 658.9,155.36 659.1,155.35 659.3,155.34 659.5,155.34 659.7,155.33 659.9,155.32 660.1,155.31 660.3,155.31 660.5,155.3 660.7,155.29 660.9,155.29 661.1,155.28 661.3,155.27 661.5,155.27 661.7,155.26 661.9,155.25 662.1,155.25 662.3,155.24 662.5,155.23 662.7,155.23 662.9,155.22 663.1,155.21 663.3,155.21 663.5,155.2 663.7,155.19 663.9,155.19 664.1,155.18 664.3,155.17 664.5,155.16 664.7,155.16 664.9,155.15 665.1,155.14 665.3,155.14 665.5,155.13 665.7,155.12 665.9,155.12 666.1,155.11 666.3,155.1 666.5,155.1 666.7,155.09 666.9,155.08 667.1,155.08 667.3,155.07 667.5,155.06 667.7,155.06 667.9,155.05 668.1,155.04 668.3,155.04 668.5,155.03 668.7,155.02 668.9,155.01 669.1,155.01 669.3,155 669.5,154.99 669.7,154.99 669.9,154.98 670.1,154.97 670.3,154.97 670.5,154.96 670.7,154.95 670.9,154.95 671.1,154.94 671.3,154.93 671.5,154.93 671.7,154.92 671.9,154.91 672.1,154.91 672.3,154.9 672.5,154.89 672.7,154.89 672.9,154.88 673.1,154.87 673.3,154.86 673.5,154.86 673.7,154.85 673.9,154.84 674.1,154.84 674.3,154.83 674.5,154.82 674.7,154.82 674.9,154.81 675.1,154.8 675.3,154.8 675.5,154.79 675.7,154.78 675.9,154.78 676.1,154.77 676.3,154.76 676.5,154.76 676.7,154.75 676.9,154.74 677.1,154.74 677.3,154.73 677.5,154.72 677.7,154.71 677.9,154.71 678.1,154.7 678.3,154.69 678.5,154.69 678.7,154.68 678.9,154.67 679.1,154.67 679.3,154.66 679.5,154.65 679.7,154.65 679.9,154.64 680.1,154.63 680.3,154.63 680.5,154.62 680.7,154.61 680.9,154.61 681.1,154.6 681.3,154.59 681.5,154.59 681.7,154.58 681.9,154.57 682.1,154.56 682.3,154.56 682.5,154.55 682.7,154.54 682.9,154.54 683.1,154.53 683.3,154.52 683.5,154.52 683.7,154.51 683.9,154.5" fill="none" stroke="#f22" stroke-width="0.8"/>
<polyline points="466.2,156.01 466.4,156.12 466.6,156.24 466.8,156.33 467,156.39 467.2,156.45 467.4,156.51 467.6,156.57 467.8,156.62 468,156.68 468.2,156.74 468.4,156.8 468.6,156.86 468.8,156.92 469,156.98 469.2,157.04 469.4,157.1 469.6,157.16 469.8,157.21 470,157.27 470.2,157.33 470.4,157.39 470.6,157.45 470.8,157.51 471,157.57 471.2,157.63 471.4,157.69 471.6,157.75 471.8,157.8 472,157.86 472.2,157.92 472.4,157.98 472.6,158.04 472.8,158.1 473,158.11 473.2,158.12 473.4,158.13 473.6,158.14 473.8,158.16 474,158.17 474.2,158.18 474.4,158.19 474.6,158.2 474.8,158.21 475,158.22 475.2,158.23 475.4,158.24 475.6,158.26 475.8,158.27 476,158.28 476.2,158.29 476.4,158.3 476.6,158.31 476.8,158.32 477,158.33 477.2,158.34 477.4,158.36 477.6,158.37 477.8,158.38 478,158.39 478.2,158.4 478.4,158.41 478.6,158.42 478.8,158.43 479,158.44 479.2,158.46 479.4,158.47 479.6,158.48 479.8,158.49 480,158.5 480.2,158.5 480.4,158.5 480.6,158.5 480.8,158.5 481,158.5 481.2,158.49 481.4,158.49 481.6,158.49 481.8,158.49 482,158.49 482.2,158.49 482.4,158.49 482.6,158.49 482.8,158.49 483,158.49 483.2,158.48 483.4,158.48 483.6,158.48 483.8,158.48 484,158.48 484.2,158.48 484.4,158.48 484.6,158.48 484.8,158.48 485,158.48 485.2,158.47 485.4,158.47 485.6,158.47 485.8,158.47 486,158.47 486.2,158.47 486.4,158.47 486.6,158.47 486.8,158.47 487,158.47 487.2,158.46 487.4,158.46 487.6,158.46 487.8,158.46 488,158.46 488.2,158.46 488.4,158.46 488.6,158.46 488.8,158.46 489,158.46 489.2,158.45 489.4,158.45 489.6,158.45 489.8,158.45 490,158.45 490.2,158.45 490.4,158.45 490.6,158.45 490.8,158.45 491,158.45 491.2,158.44 491.4,158.44 491.6,158.44 491.8,158.44 492,158.44 492.2,158.44 492.4,158.44 492.6,158.44 492.8,158.44 493,158.44 493.2,158.43 493.4,158.43 493.6,158.43 493.8,158.43 494,158.43 494.2,158.43 494.4,158.43 494.6,158.43 494.8,158.43 495,158.43 495.2,158.42 495.4,158.42 495.6,158.42 495.8,158.42 496,158.42 496.2,158.42 496.4,158.42 496.6,158.42 496.8,158.42 497,158.42 497.2,158.41 497.4,158.41 497.6,158.41 497.8,158.41 498,158.41 498.2,158.41 498.4,158.41 498.6,158.41 498.8,158.41 499,158.41 499.2,158.4 499.4,158.4 499.6,158.4 499.8,158.4 500,158.4 500.2,158.4 500.4,158.4 500.6,158.4 500.8,158.4 501,158.4 501.2,158.39 501.4,158.39 501.6,158.39 501.8,158.39 502,158.39 502.2,158.39 502.4,158.39 502.6,158.39 502.8,158.39 503,158.39 503.2,158.38 503.4,158.38 503.6,158.38 503.8,158.38 504,158.38 504.2,158.38 504.4,158.38 504.6,158.38 504.8,158.38 505,158.38 505.2,158.37 505.4,158.37 505.6,158.37 505.8,158.37 506,158.37 506.2,158.37 506.4,158.37 506.6,158.37 506.8,158.37 507,158.37 507.2,158.36 507.4,158.36 507.6,158.36 507.8,158.36 508,158.36 508.2,158.36 508.4,158.36 508.6,158.36 508.8,158.36 509,158.36 509.2,158.35 509.4,158.35 509.6,158.35 509.8,158.35 510,158.35 510.2,158.35 510.4,158.35 510.6,158.35 510.8,158.35 511,158.35 511.2,158.34 511.4,158.34 511.6,158.34 511.8,158.34 512,158.34 512.2,158.34 512.4,158.34 512.6,158.34 512.8,158.34 513,158.34 513.2,158.33 513.4,158.33 513.6,158.33 513.8,158.33 514,158.33 514.2,158.33 514.4,158.33 514.6,158.33 514.8,158.33 515,158.33 515.2,158.32 515.4,158.32 515.6,158.32 515.8,158.32 516,158.32 516.2,158.32 516.4,158.32 516.6,158.32 516.8,158.32 517,158.32 517.2,158.31 517.4,158.31 517.6,158.31 517.8,158.31 518,158.31 518.2,158.31 518.4,158.31 518.6,158.31 518.8,158.31 519,158.31 519.2,158.3 519.4,158.3 519.6,158.3 519.8,158.3 520,158.3 520.2,158.3 520.4,158.3 520.6,158.3 520.8,158.3 521,158.3 521.2,158.29 521.4,158.29 521.6,158.29 521.8,158.29 522,158.29 522.2,158.29 522.4,158.29 522.6,158.29 522.8,158.29 523,158.29 523.2,158.28 523.4,158.28 523.6,158.28 523.8,158.28 524,158.28 524.2,158.28 524.4,158.28 524.6,158.28 524.8,158.28 525,158.28 525.2,158.27 525.4,158.27 525.6,158.27 525.8,158.27 526,158.27 526.2,158.27 526.4,158.27 526.6,158.27 526.8,158.27 527,158.27 527.2,158.26 527.4,158.26 527.6,158.26 527.8,158.26 528,158.26 528.2,158.26 528.4,158.26 528.6,158.26 528.8,158.26 529,158.26 529.2,158.25 529.4,158.25 529.6,158.25 529.8,158.25 530,158.25 530.2,158.25 530.4,158.25 530.6,158.25 530.8,158.25 531,158.25 531.2,158.24 531.4,158.24 531.6,158.24 531.8,158.24 532,158.24 532.2,158.24 532.4,158.24 532.6,158.24 532.8,158.24 533,158.24 533.2,158.23 533.4,158.23 533.6,158.23 533.8,158.23 534,158.23 534.2,158.23 534.4,158.23 534.6,158.23 534.8,158.23 535,158.23 535.2,158.22 535.4,158.22 535.6,158.22 535.8,158.22 536,158.22 536.2,158.22 536.4,158.22 536.6,158.22 536.8,158.22 537,158.22 537.2,158.21 537.4,158.21 537.6,158.21 537.8,158.21 538,158.21 538.2,158.21 538.4,158.21 538.6,158.21 538.8,158.21 539,158.21 539.2,158.2 539.4,158.2 539.6,158.2 539.8,158.2 540,158.2 540.2,158.2 540.4,158.2 540.6,158.2 540.8,158.2 541,158.2 541.2,158.19 541.4,158.19 541.6,158.19 541.8,158.19 542,158.19 542.2,158.19 542.4,158.19 542.6,158.19 542.8,158.19 543,158.19 543.2,158.18 543.4,158.18 543.6,158.18 543.8,158.18 544,158.18 544.2,158.18 544.4,158.18 544.6,158.18 544.8,158.18 545,158.18 545.2,158.17 545.4,158.17 545.6,158.17 545.8,158.17 546,158.17 546.2,158.17 546.4,158.17 546.6,158.17 546.8,158.17 547,158.17 547.2,158.16 547.4,158.16 547.6,158.16 547.8,158.16 548,158.16 548.2,158.16 548.4,158.16 548.6,158.16 548.8,158.16 549,158.16 549.2,158.15 549.4,158.15 549.6,158.15 549.8,158.15 550,158.15 550.2,158.15 550.4,158.15 550.6,158.15 550.8,158.15 551,158.15 551.2,158.14 551.4,158.14 551.6,158.14 551.8,158.14 552,158.14 552.2,158.14 552.4,158.14 552.6,158.14 552.8,158.14 553,158.14 553.2,158.13 553.4,158.13 553.6,158.13 553.8,158.13 554,158.13 554.2,158.13 554.4,158.13 554.6,158.13 554.8,158.13 555,158.13 555.2,158.12 555.4,158.12 555.6,158.12 555.8,158.12 556,158.12 556.2,158.12 556.4,158.12 556.6,158.12 556.8,158.12 557,158.12 557.2,158.11 557.4,158.11 557.6,158.11 557.8,158.11 558,158.11 558.2,158.11 558.4,158.11 558.6,158.11 558.8,158.11 559,158.11 559.2,158.1 559.4,158.1 559.6,158.1 559.8,158.1 560,158.1 560.2,158.1 560.4,158.1 560.6,158.1 560.8,158.1 561,158.1 561.2,158.09 561.4,158.09 561.6,158.09 561.8,158.09 562,158.09 562.2,158.09 562.4,158.09 562.6,158.09 562.8,158.09 563,158.09 563.2,158.08 563.4,158.08 563.6,158.08 563.8,158.08 564,158.08 564.2,158.08 564.4,158.08 564.6,158.08 564.8,158.08 565,158.08 565.2,158.07 565.4,158.07 565.6,158.07 565.8,158.07 566,158.07 566.2,158.07 566.4,158.07 566.6,158.07 566.8,158.07 567,158.07 567.2,158.06 567.4,158.06 567.6,158.06 567.8,158.06 568,158.06 568.2,158.06 568.4,158.06 568.6,158.06 568.8,158.06 569,158.06 569.2,158.05 569.4,158.05 569.6,158.05 569.8,158.05 570,158.05 570.2,158.05 570.4,158.05 570.6,158.05 570.8,158.05 571,158.05 571.2,158.04 571.4,158.04 571.6,158.04 571.8,158.04 572,158.04 572.2,158.04 572.4,158.04 572.6,158.04 572.8,158.04 573,158.04 573.2,158.03 573.4,158.03 573.6,158.03 573.8,158.03 574,158.03 574.2,158.03 574.4,158.03 574.6,158.03 574.8,158.03 575,158.03 575.2,158.02 575.4,158.02 575.6,158.02 575.8,158.02 576,158.02 576.2,158.02 576.4,158.02 576.6,158.02 576.8,158.02 577,158.02 577.2,158.01 577.4,158.01 577.6,158.01 577.8,158.01 578,158.01 578.2,158.01 578.4,158.01 578.6,158.01 578.8,158.01 579,158.01 579.2,158 579.4,158 579.6,158 579.8,158 580,158 580.2,158 580.4,158 580.6,158 580.8,158 581,158 581.2,157.99 581.4,157.99 581.6,157.99 581.8,157.99 582,157.99 582.2,157.99 582.4,157.99 582.6,157.99 582.8,157.99 583,157.99 583.2,157.98 583.4,157.98 583.6,157.98 583.8,157.98 584,157.98 584.2,157.98 584.4,157.98 584.6,157.98 584.8,157.98 585,157.98 585.2,157.97 585.4,157.97 585.6,157.97 585.8,157.97 586,157.97 586.2,157.97 586.4,157.97 586.6,157.97 586.8,157.97 587,157.97 587.2,157.96 587.4,157.96 587.6,157.96 587.8,157.96 588,157.96 588.2,157.96 588.4,157.96 588.6,157.96 588.8,157.96 589,157.96 589.2,157.95 589.4,157.95 589.6,157.95 589.8,157.95 590,157.95 590.2,157.95 590.4,157.95 590.6,157.95 590.8,157.95 591,157.95 591.2,157.94 591.4,157.94 591.6,157.94 591.8,157.94 592,157.94 592.2,157.94 592.4,157.94 592.6,157.94 592.8,157.94 593,157.94 593.2,157.93 593.4,157.93 593.6,157.93 593.8,157.93 594,157.93 594.2,157.93 594.4,157.93 594.6,157.93 594.8,157.93 595,157.93 595.2,157.92 595.4,157.92 595.6,157.92 595.8,157.92 596,157.92 596.2,157.92 596.4,157.92 596.6,157.92 596.8,157.92 597,157.92 597.2,157.91 597.4,157.91 597.6,157.91 597.8,157.91 598,157.91 598.2,157.91 598.4,157.91 598.6,157.91 598.8,157.91 599,157.91 599.2,157.9 599.4,157.9 599.6,157.9 599.8,157.9 600,157.9 600.2,157.9 600.4,157.9 600.6,157.9 600.8,157.9 601,157.9 601.2,157.9 601.4,157.9 601.6,157.89 601.8,157.89 602,157.89 602.2,157.89 602.4,157.89 602.6,157.89 602.8,157.89 603,157.89 603.2,157.89 603.4,157.89 603.6,157.89 603.8,157.89 604,157.89 604.2,157.89 604.4,157.89 604.6,157.89 604.8,157.88 605,157.88 605.2,157.88 605.4,157.88 605.6,157.88 605.8,157.88 606,157.88 606.2,157.88 606.4,157.88 606.6,157.88 606.8,157.88 607,157.88 607.2,157.88 607.4,157.88 607.6,157.88 607.8,157.88 608,157.87 608.2,157.87 608.4,157.87 608.6,157.87 608.8,157.87 609,157.87 609.2,157.87 609.4,157.87 609.6,157.87 609.8,157.87 610,157.87 610.2,157.87 610.4,157.87 610.6,157.87 610.8,157.87 611,157.86 611.2,157.86 611.4,157.86 611.6,157.86 611.8,157.86 612,157.86 612.2,157.86 612.4,157.86 612.6,157.86 612.8,157.86 613,157.86 613.2,157.86 613.4,157.86 613.6,157.86 613.8,157.86 614,157.86 614.2,157.85 614.4,157.85 614.6,157.85 614.8,157.85 615,157.85 615.2,157.85 615.4,157.85 615.6,157.85 615.8,157.85 616,157.85 616.2,157.85 616.4,157.85 616.6,157.85 616.8,157.85 617,157.85 617.2,157.85 617.4,157.84 617.6,157.84 617.8,157.84 618,157.84 618.2,157.84 618.4,157.84 618.6,157.84 618.8,157.84 619,157.84 619.2,157.84 619.4,157.84 619.6,157.84 619.8,157.84 620,157.84 620.2,157.84 620.4,157.83 620.6,157.83 620.8,157.83 621,157.83 621.2,157.83 621.4,157.83 621.6,157.83 621.8,157.83 622,157.83 622.2,157.83 622.4,157.83 622.6,157.83 622.8,157.83 623,157.83 623.2,157.83 623.4,157.83 623.6,157.82 623.8,157.82 624,157.82 624.2,157.82 624.4,157.82 624.6,157.82 624.8,157.82 625,157.82 625.2,157.82 625.4,157.82 625.6,157.82 625.8,157.82 626,157.82 626.2,157.82 626.4,157.82 626.6,157.82 626.8,157.81 627,157.81 627.2,157.81 627.4,157.81 627.6,157.81 627.8,157.81 628,157.81 628.2,157.81 628.4,157.81 628.6,157.81 628.8,157.81 629,157.81 629.2,157.81 629.4,157.81 629.6,157.81 629.8,157.8 630,157.8 630.2,157.8 630.4,157.8 630.6,157.8 630.8,157.8 631,157.8 631.2,157.8 631.4,157.8 631.6,157.8 631.8,157.8 632,157.8 632.2,157.8 632.4,157.8 632.6,157.8 632.8,157.8 633,157.79 633.2,157.79 633.4,157.79 633.6,157.79 633.8,157.79 634,157.79 634.2,157.79 634.4,157.79 634.6,157.79 634.8,157.79 635,157.79 635.2,157.79 635.4,157.79 635.6,157.79 635.8,157.79 636,157.79 636.2,157.78 636.4,157.78 636.6,157.78 636.8,157.78 637,157.78 637.2,157.78 637.4,157.78 637.6,157.78 637.8,157.78 638,157.78 638.2,157.78 638.4,157.78 638.6,157.78 638.8,157.78 639,157.78 639.2,157.77 639.4,157.77 639.6,157.77 639.8,157.77 640,157.77 640.2,157.77 640.4,157.77 640.6,157.77 640.8,157.77 641,157.77 641.2,157.77 641.4,157.77 641.6,157.77 641.8,157.77 642,157.77 642.2,157.77 642.4,157.76 642.6,157.76 642.8,157.76 643,157.76 643.2,157.76 643.4,157.76 643.6,157.76 643.8,157.76 644,157.76 644.2,157.76 644.4,157.76 644.6,157.76 644.8,157.76 645,157.76 645.2,157.76 645.4,157.76 645.6,157.75 645.8,157.75 646,157.75 646.2,157.75 646.4,157.75 646.6,157.75 646.8,157.75 647,157.75 647.2,157.75 647.4,157.75 647.6,157.75 647.8,157.75 648,157.75 648.2,157.75 648.4,157.75 648.6,157.74 648.8,157.74 649,157.74 649.2,157.74 649.4,157.74 649.6,157.74 649.8,157.74 650,157.74 650.2,157.74 650.4,157.74 650.6,157.74 650.8,157.74 651,157.74 651.2,157.74 651.4,157.74 651.6,157.74 651.8,157.73 652,157.73 652.2,157.73 652.4,157.73 652.6,157.73 652.8,157.73 653,157.73 653.2,157.73 653.4,157.73 653.6,157.73 653.8,157.73 654,157.73 654.2,157.73 654.4,157.73 654.6,157.73 654.8,157.73 655,157.72 655.2,157.72 655.4,157.72 655.6,157.72 655.8,157.72 656,157.72 656.2,157.72 656.4,157.72 656.6,157.72 656.8,157.72 657,157.72 657.2,157.72 657.4,157.72 657.6,157.72 657.8,157.72 658,157.71 658.2,157.71 658.4,157.71 658.6,157.71 658.8,157.71 659,157.71 659.2,157.71 659.4,157.71 659.6,157.71 659.8,157.71 660,157.71 660.2,157.71 660.4,157.71 660.6,157.71 660.8,157.71 661,157.71 661.2,157.7 661.4,157.7 661.6,157.7 661.8,157.7 662,157.7 662.2,157.7 662.4,157.7 662.6,157.7 662.8,157.7 663,157.7 663.2,157.7 663.4,157.7 663.6,157.7 663.8,157.7 664,157.7 664.2,157.7 664.4,157.69 664.6,157.69 664.8,157.69 665,157.69 665.2,157.69 665.4,157.69 665.6,157.69 665.8,157.69 666,157.69 666.2,157.69 666.4,157.69 666.6,157.69 666.8,157.69 667,157.69 667.2,157.69 667.4,157.68 667.6,157.68 667.8,157.68 668,157.68 668.2,157.68 668.4,157.68 668.6,157.68 668.8,157.68 669,157.68 669.2,157.68 669.4,157.68 669.6,157.68 669.8,157.68 670,157.68 670.2,157.68 670.4,157.68 670.6,157.67 670.8,157.67 671,157.67 671.2,157.67 671.4,157.67 671.6,157.67 671.8,157.67 672,157.67 672.2,157.67 672.4,157.67 672.6,157.67 672.8,157.67 673,157.67 673.2,157.67 673.4,157.67 673.6,157.67 673.8,157.66 674,157.66 674.2,157.66 674.4,157.66 674.6,157.66 674.8,157.66 675,157.66 675.2,157.66 675.4,157.66 675.6,157.66 675.8,157.66 676,157.66 676.2,157.66 676.4,157.66 676.6,157.66 676.8,157.65 677,157.65 677.2,157.65 677.4,157.65 677.6,157.65 677.8,157.65 678,157.65 678.2,157.65 678.4,157.65 678.6,157.65 678.8,157.65 679,157.65 679.2,157.65 679.4,157.65 679.6,157.65 679.8,157.65 680,157.64 680.2,157.64 680.4,157.64 680.6,157.64 680.8,157.64 681,157.64 681.2,157.64 681.4,157.64 681.6,157.64 681.8,157.64 682,157.64 682.2,157.64 682.4,157.64 682.6,157.64 682.8,157.64 683,157.64 683.2,157.63 683.4,157.63 683.6,157.63 683.8,157.63 684,157.63 684.2,157.63 684.4,157.63 684.6,157.63 684.8,157.63 685,157.63 685.2,157.63 685.4,157.63 685.6,157.63 685.8,157.63 686,157.63 686.2,157.62 686.4,157.62 686.6,157.62 686.8,157.62 687,157.62 687.2,157.62 687.4,157.62 687.6,157.62 687.8,157.62 688,157.62 688.2,157.62 688.4,157.62 688.6,157.62 688.8,157.62 689,157.62 689.2,157.62 689.4,157.61 689.6,157.61 689.8,157.61 690,157.61 690.2,157.61 690.4,157.61 690.6,157.61 690.8,157.61 691,157.61 691.2,157.61 691.4,157.61 691.6,157.61 691.8,157.61 692,157.61 692.2,157.61 692.4,157.61 692.6,157.6 692.8,157.6 693,157.6 693.2,157.6 693.4,157.6 693.6,157.6 693.8,157.6" fill="none" stroke="#111" stroke-width="1.4"/>
<rect x="542.7" y="64.6" width="118.9" height="73.4" fill="none" stroke="#4cbb6c" stroke-width="1.1"/>
<polyline points="543.2,119.54 543.4,117.81 543.6,121.18 543.8,119.05 544,119.14 544.2,123.44 544.4,120.71 544.6,122.82 544.8,121.32 545,125.33 545.2,116.41 545.4,120.27 545.6,122.06 545.8,121.11 546,121.06 546.2,121.87 546.4,122.6 546.6,125.72 546.8,125.42 547,127.24 547.2,126.74 547.4,127.03 547.6,126.03 547.8,113.98 548,118.79 548.2,120.57 548.4,120.4 548.6,123.09 548.8,124.1 549,123.71 549.2,124.45 549.4,127.21 549.6,128.73 549.8,129.52 550,121.71 550.2,122.12 550.4,124.16 550.6,124.39 550.8,128.31 551,126.89 551.2,129.34 551.4,128.02 551.6,130.85 551.8,125.05 552,127.26 552.2,127.49 552.4,128.86 552.6,127.46 552.8,128.17 553,129.58 553.2,131.69 553.4,132.23 553.6,132.04 553.8,132.07 554,130.78 554.2,133.68 554.4,133.16 554.6,119.55 554.8,122.4 555,122.55 555.2,125.19 555.4,126.7 555.6,128.04 555.8,127.17 556,129.78 556.2,130.98 556.4,130.85 556.6,130.14 556.8,132.63 557,130.84 557.2,131.53 557.4,133.49 557.6,133.05 557.8,132.61 558,134.02 558.2,133.79 558.4,132.58 558.6,119.11 558.8,122.66 559,124.46 559.2,124.18 559.4,126.62 559.6,128.23 559.8,128.27 560,128.49 560.2,130.07 560.4,131.91 560.6,131.97 560.8,131.23 561,133.09 561.2,133.03 561.4,132.48 561.6,132.69 561.8,132.72 562,133.43 562.2,133.5 562.4,133.5 562.6,118.13 562.8,120.39 563,121.98 563.2,124.79 563.4,125.78 563.6,127.7 563.8,128.61 564,129.23 564.2,130.21 564.4,131.11 564.6,131.71 564.8,132.48 565,131.95 565.2,132.39 565.4,132.52 565.6,127.26 565.8,128.43 566,128.65 566.2,129.47 566.4,129.78 566.6,131.87 566.8,131.92 567,132.88 567.2,132.74 567.4,132.9 567.6,133.58 567.8,125.56 568,126.92 568.2,127.38 568.4,128.68 568.6,130.24 568.8,130.36 569,131.45 569.2,131.63 569.4,132.54 569.6,131.91 569.8,132.18 570,132.62 570.2,133.35 570.4,133.49 570.6,134.44 570.8,134.64 571,133.72 571.2,134.69 571.4,123.85 571.6,125.83 571.8,126.65 572,128.28 572.2,128.44 572.4,129.81 572.6,130.41 572.8,130.96 573,131.56 573.2,132.15 573.4,132.63 573.6,133 573.8,133.49 574,133.82 574.2,134.15 574.4,134.07 574.6,133.88 574.8,134.29 575,134.29 575.2,134.23 575.4,134.39 575.6,134.39 575.8,134.7 576,134.37 576.2,134.8 576.4,134.74 576.6,134.45 576.8,126.75 577,128.46 577.2,129.14 577.4,129.59 577.6,130.72 577.8,131.45 578,131.54 578.2,132.21 578.4,132.46 578.6,133.06 578.8,133.57 579,133.36 579.2,133.49 579.4,133.68 579.6,134.21 579.8,133.91 580,134.39 580.2,134.71 580.4,134.76 580.6,132.55 580.8,132.41 581,133.06 581.2,133.19 581.4,133.65 581.6,133.57 581.8,133.73 582,134.52 582.2,134.6 582.4,134.09 582.6,134.76 582.8,134.25 583,134.53 583.2,135.1 583.4,135.11 583.6,134.79 583.8,135.01 584,134.79 584.2,135.19 584.4,134.8 584.6,134.73 584.8,134.7 585,135.09 585.2,135.05 585.4,128.19 585.6,128.63 585.8,130.02 586,130.89 586.2,131.38 586.4,131.45 586.6,131.96 586.8,132.32 587,132.86 587.2,133.49 587.4,133.27 587.6,133.73 587.8,133.61 588,134.26 588.2,133.95 588.4,134.61 588.6,134.57 588.8,134.33 589,134.8 589.2,134.6 589.4,134.79 589.6,134.86 589.8,134.68 590,134.83 590.2,135.14 590.4,135.23 590.6,135.24 590.8,135.05 591,135.3 591.2,134.75 591.4,123.8 591.6,124.75 591.8,126.83 592,127.97 592.2,128.72 592.4,129.92 592.6,130.82 592.8,130.88 593,131.82 593.2,131.82 593.4,132.73 593.6,132.64 593.8,133.4 594,133.18 594.2,133.69 594.4,134.24 594.6,133.98 594.8,134.62 595,134.37 595.2,134.26 595.4,134.92 595.6,134.41 595.8,134.8 596,135.12 596.2,135.17 596.4,134.92 596.6,134.7 596.8,134.95 597,134.82 597.2,126.04 597.4,127.32 597.6,128.33 597.8,129.15 598,130.49 598.2,130.63 598.4,131.64 598.6,131.99 598.8,132.64 599,132.96 599.2,133.2 599.4,133.7 599.6,133.78 599.8,134.23 600,134.17 600.2,134.53 600.4,134.65 600.6,134.65 600.8,134.46 601,134.66 601.2,134.43 601.4,134.96 601.6,134.96 601.8,123.12 602,124.33 602.2,125.86 602.4,127.53 602.6,128.7 602.8,129.16 603,129.94 603.2,130.85 603.4,131.46 603.6,131.76 603.8,132.23 604,132.69 604.2,132.87 604.4,133.25 604.6,133.39 604.8,133.85 605,134.3 605.2,134.39 605.4,134.48 605.6,134.49 605.8,134.38 606,134.36 606.2,134.53 606.4,135.14 606.6,135.1 606.8,129.88 607,130.67 607.2,131.42 607.4,132.04 607.6,132.1 607.8,132.92 608,133.16 608.2,133.2 608.4,133.47 608.6,133.61 608.8,134.07 609,134.54 609.2,134.55 609.4,134.22 609.6,134.29 609.8,134.5 610,134.49 610.2,134.54 610.4,135.02 610.6,134.77 610.8,134.99 611,134.85 611.2,135.36 611.4,135.1 611.6,134.8 611.8,135.28 612,134.95 612.2,135.08 612.4,134.97 612.6,135.13 612.8,135.01 613,135.03 613.2,134.92 613.4,135.5 613.6,134.97 613.8,135.02 614,135.12 614.2,134.92 614.4,135 614.6,135.13 614.8,135.26 615,124.56 615.2,125.96 615.4,127.49 615.6,128.66 615.8,129.28 616,130.08 616.2,131.06 616.4,131.52 616.6,132.33 616.8,132.2 617,132.95 617.2,133.15 617.4,133.33 617.6,134.03 617.8,133.78 618,134.36 618.2,134.56 618.4,134.77 618.6,134.29 618.8,134.41 619,134.44 619.2,134.68 619.4,135.15 619.6,135.02 619.8,134.72 620,134.73 620.2,135.21 620.4,135.15 620.6,128.75 620.8,130.03 621,130.51 621.2,131.22 621.4,131.64 621.6,132.73 621.8,132.77 622,133.23 622.2,133.24 622.4,133.62 622.6,134.02 622.8,134.28 623,134.55 623.2,134.24 623.4,134.35 623.6,134.57 623.8,134.59 624,135.02 624.2,134.77 624.4,134.83 624.6,129.31 624.8,130.2 625,130.78 625.2,131.17 625.4,132.2 625.6,132.24 625.8,133.14 626,133.06 626.2,133.35 626.4,133.79 626.6,134.26 626.8,134.08 627,134.31 627.2,134.4 627.4,134.31 627.6,134.53 627.8,135.04 628,135.13 628.2,134.73 628.4,135.23 628.6,134.66 628.8,135.18 629,134.75 629.2,135.05 629.4,135.06 629.6,135.1 629.8,135.46 630,135.08 630.2,134.87 630.4,134.94 630.6,135.38 630.8,134.97 631,134.94 631.2,135.03 631.4,135.56 631.6,135.21 631.8,135.02 632,135.36 632.2,135.18 632.4,135.3 632.6,126.21 632.8,127.35 633,128.4 633.2,129.69 633.4,130.21 633.6,130.9 633.8,131.78 634,132.39 634.2,132.69 634.4,132.85 634.6,133.21 634.8,133.24 635,133.64 635.2,134.2 635.4,134.2 635.6,134.59 635.8,134.61 636,134.65 636.2,134.91 636.4,134.79 636.6,134.97 636.8,134.92 637,134.88 637.2,135.2 637.4,134.79 637.6,135.41 637.8,127.64 638,128.69 638.2,129.43 638.4,130.25 638.6,130.94 638.8,131.59 639,131.96 639.2,132.79 639.4,133.23 639.6,133.32 639.8,133.83 640,133.71 640.2,134.29 640.4,134.54 640.6,134.5 640.8,134.82 641,134.78 641.2,134.86 641.4,134.8 641.6,134.61 641.8,134.71 642,135.22 642.2,134.85 642.4,135.21 642.6,134.91 642.8,135.32 643,135.47 643.2,135.28 643.4,134.92 643.6,135.39 643.8,135.23 644,135.5 644.2,122.39 644.4,124.29 644.6,126.25 644.8,127.53 645,128.72 645.2,129.46 645.4,130.39 645.6,131.28 645.8,131.72 646,131.89 646.2,132.39 646.4,132.68 646.6,133.09 646.8,133.32 647,133.79 647.2,134.15 647.4,134.49 647.6,134.36 647.8,134.33 648,134.92 648.2,135.02 648.4,135.15 648.6,134.62 648.8,135.04 649,135.12 649.2,135.1 649.4,134.92 649.6,135.42 649.8,135.21 650,134.92 650.2,135.13 650.4,131.36 650.6,131.62 650.8,132.49 651,132.57 651.2,133.08 651.4,133.31 651.6,133.49 651.8,134.19 652,134.06 652.2,134.48 652.4,134.72 652.6,134.47 652.8,134.41 653,134.82 653.2,134.72 653.4,135.19 653.6,134.81 653.8,135.2 654,134.82 654.2,135.01 654.4,135 654.6,135.43 654.8,135.29 655,135.35 655.2,135.02 655.4,135.17 655.6,135.54 655.8,135.38 656,135.48 656.2,135.33 656.4,135.16 656.6,135.6 656.8,135.21 657,135.16 657.2,135.45 657.4,125.22 657.6,127.05 657.8,128.23 658,129.07 658.2,130.04 658.4,130.79 658.6,131.19 658.8,131.76 659,132.41 659.2,132.61 659.4,133.08 659.6,133.49 659.8,133.91 660,134.06 660.2,134.05 660.4,134.57 660.6,134.73 660.8,134.77 661,134.89" fill="none" stroke="#9a9a9a" stroke-width="0.7"/>
<polyline points="543.2,119 543.4,119.5 543.6,120 543.8,120.5 544,121 544.2,121.5 544.4,122 544.6,115.79 544.8,117.24 545,118.56 545.2,119.77 545.4,120.87 545.6,121.89 545.8,122.83 546,123.71 546.2,124.29 546.4,124.82 546.6,125.31 546.8,125.76 547,126.19 547.2,126.59 547.4,126.97 547.6,127.33 547.8,127.68 548,128.01 548.2,128.33 548.4,128.64 548.6,128.94 548.8,129.23 549,129.52 549.2,129.8 549.4,130.08 549.6,122.75 549.8,124.1 550,125.3 550.2,126.23 550.4,127.05 550.6,127.77 550.8,128.4 551,128.96 551.2,129.46 551.4,129.9 551.6,130.29 551.8,130.65 552,130.98 552.2,131.27 552.4,131.54 552.6,131.79 552.8,132.02 553,132.23 553.2,132.43 553.4,132.62 553.6,132.8 553.8,132.97 554,133.14 554.2,133.29 554.4,133.45 554.6,133.59 554.8,133.74 555,120 555.2,122.02 555.4,123.75 555.6,125.24 555.8,126.51 556,127.61 556.2,128.56 556.4,129.37 556.6,130.07 556.8,130.67 557,131.19 557.2,131.64 557.4,132.03 557.6,132.37 557.8,132.66 558,132.91 558.2,133.13 558.4,133.32 558.6,133.48 558.8,133.63 559,133.75 559.2,133.87 559.4,133.97 559.6,134.05 559.8,134.13 560,134.2 560.2,134.26 560.4,134.32 560.6,134.37 560.8,134.42 561,134.46 561.2,134.5 561.4,134.54 561.6,134.57 561.8,134.61 562,134.64 562.2,117 562.4,119.55 562.6,121.73 562.8,123.61 563,125.22 563.2,126.61 563.4,127.8 563.6,128.82 563.8,129.7 564,130.46 564.2,131.12 564.4,131.68 564.6,132.16 564.8,132.58 565,132.94 565.2,133.24 565.4,133.49 565.6,133.71 565.8,133.89 566,134.05 566.2,134.19 566.4,134.31 566.6,134.41 566.8,134.49 567,134.57 567.2,134.63 567.4,134.69 567.6,134.73 567.8,134.77 568,125 568.2,126.43 568.4,127.65 568.6,128.7 568.8,129.6 569,130.38 569.2,131.04 569.4,131.61 569.6,132.09 569.8,132.51 570,132.87 570.2,133.18 570.4,133.44 570.6,133.67 570.8,133.86 571,134.03 571.2,134.17 571.4,134.29 571.6,134.4 571.8,134.49 572,134.57 572.2,134.63 572.4,134.69 572.6,134.74 572.8,134.78 573,134.82 573.2,134.85 573.4,134.88 573.6,134.9 573.8,134.92 574,134.94 574.2,134.95 574.4,134.97 574.6,134.98 574.8,134.99 575,135 575.2,135 575.4,135.01 575.6,135.02 575.8,135.02 576,135.02 576.2,135.03 576.4,135.03 576.6,135.03 576.8,135.04 577,127 577.2,128.15 577.4,129.13 577.6,129.98 577.8,130.7 578,131.32 578.2,131.86 578.4,132.31 578.6,132.71 578.8,133.04 579,133.33 579.2,133.58 579.4,133.79 579.6,133.97 579.8,134.13 580,134.26 580.2,134.38 580.4,134.48 580.6,134.56 580.8,134.63 581,134.7 581.2,134.75 581.4,134.8 581.6,134.84 581.8,134.87 582,134.9 582.2,134.92 582.4,134.95 582.6,134.96 582.8,134.98 583,135 583.2,135.01 583.4,135.02 583.6,135.03 583.8,135.04 584,135.04 584.2,135.05 584.4,135.05 584.6,135.06 584.8,135.06 585,128 585.2,129.01 585.4,129.88 585.6,130.62 585.8,131.26 586,131.81 586.2,132.27 586.4,132.68 586.6,133.02 586.8,133.32 587,133.57 587.2,133.79 587.4,133.98 587.6,134.14 587.8,134.27 588,134.39 588.2,134.49 588.4,134.58 588.6,134.65 588.8,134.72 589,134.77 589.2,134.82 589.4,134.86 589.6,134.9 589.8,134.93 590,134.95 590.2,134.98 590.4,134.99 590.6,135.01 590.8,135.03 591,135.04 591.2,135.05 591.4,135.06 591.6,135.07 591.8,135.07 592,135.08 592.2,135.09 592.4,135.09 592.6,135.09 592.8,135.1 593,135.1 593.2,135.1 593.4,135.11 593.6,135.11 593.8,135.11 594,135.11 594.2,135.12 594.4,135.12 594.6,135.12 594.8,135.12 595,135.12 595.2,135.12 595.4,135.12 595.6,135.13 595.8,135.13 596,135.13 596.2,135.13 596.4,135.13 596.6,135.13 596.8,135.13 597,126 597.2,127.3 597.4,128.42 597.6,129.38 597.8,130.2 598,130.91 598.2,131.51 598.4,132.03 598.6,132.47 598.8,132.85 599,133.18 599.2,133.46 599.4,133.7 599.6,133.91 599.8,134.09 600,134.24 600.2,134.37 600.4,134.48 600.6,134.58 600.8,134.66 601,134.73 601.2,134.79 601.4,134.84 601.6,134.89 601.8,134.93 602,134.96 602.2,134.99 602.4,135.01 602.6,135.03 602.8,135.05 603,135.07 603.2,135.08 603.4,135.09 603.6,135.1 603.8,135.11 604,135.12 604.2,135.13 604.4,135.13 604.6,135.14 604.8,135.14 605,135.15 605.2,135.15 605.4,135.15 605.6,135.16 605.8,135.16 606,135.16 606.2,135.16 606.4,135.17 606.6,135.17 606.8,135.17 607,128 607.2,129.02 607.4,129.9 607.6,130.66 607.8,131.3 608,131.85 608.2,132.33 608.4,132.74 608.6,133.09 608.8,133.39 609,133.64 609.2,133.86 609.4,134.05 609.6,134.21 609.8,134.35 610,134.47 610.2,134.58 610.4,134.66 610.6,134.74 610.8,134.81 611,134.86 611.2,134.91 611.4,134.95 611.6,134.99 611.8,135.02 612,135.04 612.2,135.07 612.4,135.08 612.6,135.1 612.8,135.12 613,135.13 613.2,135.14 613.4,135.15 613.6,135.16 613.8,135.16 614,135.17 614.2,135.18 614.4,135.18 614.6,135.19 614.8,135.19 615,135.19 615.2,135.2 615.4,135.2 615.6,135.2 615.8,135.2 616,135.21 616.2,135.21 616.4,135.21 616.6,135.21 616.8,135.21 617,135.21 617.2,135.21 617.4,135.22 617.6,135.22 617.8,135.22 618,135.22 618.2,135.22 618.4,135.22 618.6,135.22 618.8,135.22 619,135.22 619.2,135.23 619.4,135.23 619.6,135.23 619.8,135.23 620,128 620.2,129.03 620.4,129.92 620.6,130.68 620.8,131.33 621,131.88 621.2,132.36 621.4,132.77 621.6,133.12 621.8,133.43 622,133.69 622.2,133.91 622.4,134.1 622.6,134.26 622.8,134.4 623,134.52 623.2,134.63 623.4,134.71 623.6,134.79 623.8,134.86 624,134.91 624.2,134.96 624.4,135 624.6,135.04 624.8,135.07 625,135.1 625.2,135.12 625.4,135.14 625.6,135.16 625.8,135.17 626,135.18 626.2,135.19 626.4,135.2 626.6,135.21 626.8,135.22 627,135.23 627.2,135.23 627.4,135.24 627.6,135.24 627.8,135.24 628,135.25 628.2,135.25 628.4,135.25 628.6,135.26 628.8,135.26 629,135.26 629.2,135.26 629.4,135.26 629.6,135.26 629.8,135.27 630,135.27 630.2,135.27 630.4,135.27 630.6,135.27 630.8,135.27 631,135.27 631.2,135.27 631.4,135.28 631.6,135.28 631.8,135.28 632,127 632.2,128.18 632.4,129.19 632.6,130.06 632.8,130.81 633,131.45 633.2,131.99 633.4,132.46 633.6,132.87 633.8,133.21 634,133.51 634.2,133.76 634.4,133.98 634.6,134.17 634.8,134.33 635,134.47 635.2,134.59 635.4,134.69 635.6,134.77 635.8,134.85 636,134.91 636.2,134.97 636.4,135.02 636.6,135.06 636.8,135.09 637,135.12 637.2,135.15 637.4,135.17 637.6,135.19 637.8,135.21 638,135.22 638.2,135.23 638.4,135.25 638.6,135.26 638.8,135.26 639,135.27 639.2,135.28 639.4,135.28 639.6,135.29 639.8,135.29 640,135.29 640.2,135.3 640.4,135.3 640.6,135.3 640.8,135.31 641,135.31 641.2,135.31 641.4,135.31 641.6,135.31 641.8,135.32 642,135.32 642.2,135.32 642.4,135.32 642.6,135.32 642.8,135.32 643,135.32 643.2,135.32 643.4,135.33 643.6,119.5 643.8,121.76 644,123.69 644.2,125.35 644.4,126.78 644.6,128 644.8,129.04 645,129.94 645.2,130.71 645.4,131.37 645.6,131.94 645.8,132.42 646,132.84 646.2,133.2 646.4,133.5 646.6,133.77 646.8,133.99 647,134.18 647.2,134.35 647.4,134.49 647.6,134.61 647.8,134.72 648,134.81 648.2,134.89 648.4,134.95 648.6,135.01 648.8,135.06 649,135.1 649.2,135.14 649.4,135.17 649.6,135.2 649.8,135.22 650,135.24 650.2,135.26 650.4,135.27 650.6,135.28 650.8,135.3 651,135.3 651.2,135.31 651.4,135.32 651.6,135.33 651.8,135.33 652,135.34 652.2,135.34 652.4,135.35 652.6,135.35 652.8,135.35 653,135.36 653.2,135.36 653.4,135.36 653.6,135.36 653.8,135.36 654,135.37 654.2,135.37 654.4,135.37 654.6,135.37 654.8,135.37 655,135.37 655.2,135.37 655.4,135.37 655.6,135.38 655.8,135.38 656,135.38 656.2,135.38 656.4,135.38 656.6,135.38 656.8,135.38 657,135.38 657.2,135.38 657.4,126 657.6,127.34 657.8,128.49 658,129.47 658.2,130.32 658.4,131.04 658.6,131.66 658.8,132.19 659,132.65 659.2,133.04 659.4,133.38 659.6,133.67 659.8,133.91 660,134.13 660.2,134.31 660.4,134.46 660.6,134.6 660.8,134.71 661,134.81" fill="none" stroke="#222" stroke-width="0.9"/>
<polyline points="552,132.2 552.2,132.32 552.4,132.44 552.6,132.56 552.8,132.68 553,132.8 553.2,132.92 553.4,133.04 553.6,133.16 553.8,133.28 554,133.4 554.2,133.52 554.4,133.64 554.6,133.76 554.8,133.88 555,134 555.2,134.02 555.4,134.04 555.6,134.06 555.8,134.08 556,134.1 556.2,134.12 556.4,134.14 556.6,134.16 556.8,134.18 557,134.2 557.2,134.22 557.4,134.24 557.6,134.26 557.8,134.28 558,134.3 558.2,134.32 558.4,134.34 558.6,134.36 558.8,134.38 559,134.4 559.2,134.42 559.4,134.44 559.6,134.46 559.8,134.48 560,134.5 560.2,134.52 560.4,134.54 560.6,134.56 560.8,134.58 561,134.6 561.2,134.62 561.4,134.64 561.6,134.66 561.8,134.68 562,134.7 562.2,134.72 562.4,134.74 562.6,134.76 562.8,134.78 563,134.8 563.2,134.82 563.4,134.84 563.6,134.86 563.8,134.88 564,134.9 564.2,134.92 564.4,134.94 564.6,134.96 564.8,134.98 565,135 565.2,135 565.4,135 565.6,135 565.8,135 566,135 566.2,135.01 566.4,135.01 566.6,135.01 566.8,135.01 567,135.01 567.2,135.01 567.4,135.01 567.6,135.01 567.8,135.01 568,135.01 568.2,135.01 568.4,135.01 568.6,135.02 568.8,135.02 569,135.02 569.2,135.02 569.4,135.02 569.6,135.02 569.8,135.02 570,135.02 570.2,135.02 570.4,135.02 570.6,135.02 570.8,135.02 571,135.03 571.2,135.03 571.4,135.03 571.6,135.03 571.8,135.03 572,135.03 572.2,135.03 572.4,135.03 572.6,135.03 572.8,135.03 573,135.03 573.2,135.03 573.4,135.04 573.6,135.04 573.8,135.04 574,135.04 574.2,135.04 574.4,135.04 574.6,135.04 574.8,135.04 575,135.04 575.2,135.04 575.4,135.04 575.6,135.04 575.8,135.05 576,135.05 576.2,135.05 576.4,135.05 576.6,135.05 576.8,135.05 577,135.05 577.2,135.05 577.4,135.05 577.6,135.05 577.8,135.05 578,135.05 578.2,135.06 578.4,135.06 578.6,135.06 578.8,135.06 579,135.06 579.2,135.06 579.4,135.06 579.6,135.06 579.8,135.06 580,135.06 580.2,135.06 580.4,135.06 580.6,135.07 580.8,135.07 581,135.07 581.2,135.07 581.4,135.07 581.6,135.07 581.8,135.07 582,135.07 582.2,135.07 582.4,135.07 582.6,135.07 582.8,135.07 583,135.08 583.2,135.08 583.4,135.08 583.6,135.08 583.8,135.08 584,135.08 584.2,135.08 584.4,135.08 584.6,135.08 584.8,135.08 585,135.08 585.2,135.08 585.4,135.09 585.6,135.09 585.8,135.09 586,135.09 586.2,135.09 586.4,135.09 586.6,135.09 586.8,135.09 587,135.09 587.2,135.09 587.4,135.09 587.6,135.09 587.8,135.1 588,135.1 588.2,135.1 588.4,135.1 588.6,135.1 588.8,135.1 589,135.1 589.2,135.1 589.4,135.1 589.6,135.1 589.8,135.1 590,135.1 590.2,135.11 590.4,135.11 590.6,135.11 590.8,135.11 591,135.11 591.2,135.11 591.4,135.11 591.6,135.11 591.8,135.11 592,135.11 592.2,135.11 592.4,135.11 592.6,135.12 592.8,135.12 593,135.12 593.2,135.12 593.4,135.12 593.6,135.12 593.8,135.12 594,135.12 594.2,135.12 594.4,135.12 594.6,135.12 594.8,135.12 595,135.13 595.2,135.13 595.4,135.13 595.6,135.13 595.8,135.13 596,135.13 596.2,135.13 596.4,135.13 596.6,135.13 596.8,135.13 597,135.13 597.2,135.13 597.4,135.14 597.6,135.14 597.8,135.14 598,135.14 598.2,135.14 598.4,135.14 598.6,135.14 598.8,135.14 599,135.14 599.2,135.14 599.4,135.14 599.6,135.14 599.8,135.15 600,135.15 600.2,135.15 600.4,135.15 600.6,135.15 600.8,135.15 601,135.15 601.2,135.15 601.4,135.15 601.6,135.15 601.8,135.15 602,135.15 602.2,135.16 602.4,135.16 602.6,135.16 602.8,135.16 603,135.16 603.2,135.16 603.4,135.16 603.6,135.16 603.8,135.16 604,135.16 604.2,135.16 604.4,135.16 604.6,135.17 604.8,135.17 605,135.17 605.2,135.17 605.4,135.17 605.6,135.17 605.8,135.17 606,135.17 606.2,135.17 606.4,135.17 606.6,135.17 606.8,135.17 607,135.18 607.2,135.18 607.4,135.18 607.6,135.18 607.8,135.18 608,135.18 608.2,135.18 608.4,135.18 608.6,135.18 608.8,135.18 609,135.18 609.2,135.18 609.4,135.19 609.6,135.19 609.8,135.19 610,135.19 610.2,135.19 610.4,135.19 610.6,135.19 610.8,135.19 611,135.19 611.2,135.19 611.4,135.19 611.6,135.19 611.8,135.2 612,135.2 612.2,135.2 612.4,135.2 612.6,135.2 612.8,135.2 613,135.2 613.2,135.2 613.4,135.2 613.6,135.2 613.8,135.2 614,135.2 614.2,135.21 614.4,135.21 614.6,135.21 614.8,135.21 615,135.21 615.2,135.21 615.4,135.21 615.6,135.21 615.8,135.21 616,135.21 616.2,135.21 616.4,135.21 616.6,135.22 616.8,135.22 617,135.22 617.2,135.22 617.4,135.22 617.6,135.22 617.8,135.22 618,135.22 618.2,135.22 618.4,135.22 618.6,135.22 618.8,135.22 619,135.23 619.2,135.23 619.4,135.23 619.6,135.23 619.8,135.23 620,135.23 620.2,135.23 620.4,135.23 620.6,135.23 620.8,135.23 621,135.23 621.2,135.23 621.4,135.24 621.6,135.24 621.8,135.24 622,135.24 622.2,135.24 622.4,135.24 622.6,135.24 622.8,135.24 623,135.24 623.2,135.24 623.4,135.24 623.6,135.24 623.8,135.25 624,135.25 624.2,135.25 624.4,135.25 624.6,135.25 624.8,135.25 625,135.25 625.2,135.25 625.4,135.25 625.6,135.25 625.8,135.25 626,135.25 626.2,135.26 626.4,135.26 626.6,135.26 626.8,135.26 627,135.26 627.2,135.26 627.4,135.26 627.6,135.26 627.8,135.26 628,135.26 628.2,135.26 628.4,135.26 628.6,135.27 628.8,135.27 629,135.27 629.2,135.27 629.4,135.27 629.6,135.27 629.8,135.27 630,135.27 630.2,135.27 630.4,135.27 630.6,135.27 630.8,135.27 631,135.28 631.2,135.28 631.4,135.28 631.6,135.28 631.8,135.28 632,135.28 632.2,135.28 632.4,135.28 632.6,135.28 632.8,135.28 633,135.28 633.2,135.28 633.4,135.29 633.6,135.29 633.8,135.29 634,135.29 634.2,135.29 634.4,135.29 634.6,135.29 634.8,135.29 635,135.29 635.2,135.29 635.4,135.29 635.6,135.29 635.8,135.3 636,135.3 636.2,135.3 636.4,135.3 636.6,135.3 636.8,135.3 637,135.3 637.2,135.3 637.4,135.3 637.6,135.3 637.8,135.3 638,135.3 638.2,135.31 638.4,135.31 638.6,135.31 638.8,135.31 639,135.31 639.2,135.31 639.4,135.31 639.6,135.31 639.8,135.31 640,135.31 640.2,135.31 640.4,135.31 640.6,135.32 640.8,135.32 641,135.32 641.2,135.32 641.4,135.32 641.6,135.32 641.8,135.32 642,135.32 642.2,135.32 642.4,135.32 642.6,135.32 642.8,135.32 643,135.33 643.2,135.33 643.4,135.33 643.6,135.33 643.8,135.33 644,135.33 644.2,135.33 644.4,135.33 644.6,135.33 644.8,135.33 645,135.33 645.2,135.33 645.4,135.34 645.6,135.34 645.8,135.34 646,135.34 646.2,135.34 646.4,135.34 646.6,135.34 646.8,135.34 647,135.34 647.2,135.34 647.4,135.34 647.6,135.34 647.8,135.35 648,135.35 648.2,135.35 648.4,135.35 648.6,135.35 648.8,135.35 649,135.35 649.2,135.35 649.4,135.35 649.6,135.35 649.8,135.35 650,135.35 650.2,135.36 650.4,135.36 650.6,135.36 650.8,135.36 651,135.36 651.2,135.36 651.4,135.36 651.6,135.36 651.8,135.36 652,135.36 652.2,135.36 652.4,135.36 652.6,135.37 652.8,135.37 653,135.37 653.2,135.37 653.4,135.37 653.6,135.37 653.8,135.37 654,135.37 654.2,135.37 654.4,135.37 654.6,135.37 654.8,135.37 655,135.38 655.2,135.38 655.4,135.38 655.6,135.38 655.8,135.38 656,135.38 656.2,135.38 656.4,135.38 656.6,135.38 656.8,135.38 657,135.38 657.2,135.38 657.4,135.39 657.6,135.39 657.8,135.39 658,135.39 658.2,135.39 658.4,135.39 658.6,135.39 658.8,135.39 659,135.39 659.2,135.39 659.4,135.39 659.6,135.39 659.8,135.4 660,135.4 660.2,135.4 660.4,135.4 660.6,135.4 660.8,135.4 661,135.4" fill="none" stroke="#111" stroke-width="1.3"/>
<polyline points="543.2,100.22 543.4,100.79 543.6,87.43 543.8,82.55 544,86.74 544.2,90.85 544.4,94.13 544.6,96.64 544.8,97.97 545,100.17 545.2,101.89 545.4,103.04 545.6,105.15 545.8,106.3 546,87.15 546.2,91.79 546.4,95.93 546.6,99.56 546.8,101.79 547,103.94 547.2,105.62 547.4,107.29 547.6,108.12 547.8,108.55 548,109.78 548.2,110.93 548.4,110.79 548.6,111.29 548.8,98.72 549,90.08 549.2,95.55 549.4,100.43 549.6,103.66 549.8,106.52 550,108.54 550.2,109.98 550.4,111.74 550.6,112.19 550.8,113.26 551,114.05 551.2,114.93 551.4,115.53 551.6,112.43 551.8,113.72 552,100.85 552.2,104.88 552.4,108.08 552.6,110.01 552.8,112.19 553,103.27 553.2,107.14 553.4,110.19 553.6,111.99 553.8,113.82 554,115.14 554.2,116.58 554.4,117.57 554.6,118.31 554.8,118.38 555,107.94 555.2,110.5 555.4,113.18 555.6,114.66 555.8,115.88 556,116.92 556.2,118.52 556.4,118.75 556.6,119.84 556.8,119.65 557,119.94 557.2,120.78 557.4,121.26 557.6,120.76 557.8,121.68 558,111.85 558.2,111.82 558.4,114.6 558.6,116.16 558.8,118.27 559,118.73 559.2,119.95 559.4,120.69 559.6,121.08 559.8,121.8 560,122.43 560.2,122.03 560.4,122.6 560.6,122.82 560.8,122.63 561,123.21 561.2,122.93 561.4,123.35 561.6,119.76 561.8,120.94 562,113.85 562.2,116.15 562.4,117.54 562.6,118.73 562.8,119.83 563,121.27 563.2,121.95 563.4,122.54 563.6,123.03 563.8,123.13 564,123.76 564.2,123.77 564.4,123.94 564.6,116.91 564.8,118.73 565,120.36 565.2,121.68 565.4,122.03 565.6,123.06 565.8,123.13 566,123.73 566.2,124.44 566.4,117.59 566.6,84.55 566.8,93.46 567,100.65 567.2,106.23 567.4,110.29 567.6,113.31 567.8,115.74 568,118.56 568.2,120.19 568.4,121.44 568.6,122.3 568.8,123.18 569,123.88 569.2,117.3 569.4,119.6 569.6,120.81 569.8,122.37 570,100.73 570.2,106.32 570.4,110.41 570.6,113.72 570.8,116.93 571,118.49 571.2,120.81 571.4,121.48 571.6,123.07 571.8,123.45 572,122.48 572.2,122.88 572.4,123.63 572.6,124.77 572.8,125.35 573,125.29 573.2,125.69 573.4,126.1 573.6,125.91 573.8,115.6 574,118.5 574.2,120.3 574.4,121.7 574.6,123.63 574.8,123.74 575,125.28 575.2,125.65 575.4,125.65 575.6,110.34 575.8,113.3 576,116.74 576.2,118.82 576.4,120.56 576.6,122.55 576.8,122.8 577,124.48 577.2,124.38 577.4,125.51 577.6,125.54 577.8,126.12 578,126.79 578.2,126.87 578.4,126.35 578.6,126.7 578.8,127 579,127.33 579.2,126.7 579.4,121.23 579.6,122.87 579.8,124.23 580,115.24 580.2,117.92 580.4,120.64 580.6,121.95 580.8,122.96 581,123.74 581.2,124.73 581.4,125.81 581.6,126.35 581.8,120.23 582,122.66 582.2,123.67 582.4,124.74 582.6,125.43 582.8,126.05 583,121.67 583.2,123.69 583.4,124.48 583.6,125.17 583.8,126.05 584,110.83 584.2,114.49 584.4,117.03 584.6,119.75 584.8,121.68 585,122.69 585.2,124.79 585.4,125.65 585.6,125.55 585.8,126.56 586,119.45 586.2,121.56 586.4,123.29 586.6,124.33 586.8,125.92 587,126.32 587.2,127.2 587.4,127.74 587.6,127.82 587.8,109.4 588,113.45 588.2,117.29 588.4,119.9 588.6,122.04 588.8,122.98 589,124.13 589.2,125.94 589.4,124.97 589.6,125.49 589.8,126.89 590,126.84 590.2,127.85 590.4,128.11 590.6,128.53 590.8,128.1 591,129.06 591.2,129.21 591.4,129.35 591.6,125.54 591.8,126.05 592,127.44 592.2,127.63 592.4,128.15 592.6,128.41 592.8,128.2 593,116.23 593.2,118.98 593.4,120.86 593.6,122.82 593.8,123.99 594,125.38 594.2,126.8 594.4,126.86 594.6,127.4 594.8,126.14 595,126.3 595.2,127 595.4,128.13 595.6,127.89 595.8,128.66 596,116.73 596.2,119.36 596.4,121.13 596.6,123.01 596.8,124.72 597,123.98 597.2,125.17 597.4,126.33 597.6,127.08 597.8,127.45 598,128.22 598.2,127.99 598.4,128.67 598.6,129.28 598.8,128.84 599,129.41 599.2,129.58 599.4,105.85 599.6,111.75 599.8,115.19 600,119.06 600.2,120.91 600.4,103.3 600.6,109.51 600.8,113.96 601,117.2 601.2,119.69 601.4,122.28 601.6,123.95 601.8,124.74 602,126.1 602.2,127.44 602.4,121.78 602.6,123.45 602.8,125.44 603,126.39 603.2,127.72 603.4,127.95 603.6,127.98 603.8,128.49 604,128.79 604.2,129.78 604.4,117 604.6,119.84 604.8,122.69 605,123.65 605.2,125.42 605.4,126.8 605.6,127.59 605.8,127.49 606,128.3 606.2,128.48 606.4,129.24 606.6,129.03 606.8,129.16 607,129.41 607.2,123.75 607.4,125.84 607.6,126.55 607.8,127.53 608,121.43 608.2,123.44 608.4,124.85 608.6,126.06 608.8,127.32 609,127.49 609.2,128.56 609.4,128.66 609.6,128.74 609.8,129.04 610,130.03 610.2,129.34 610.4,129.71 610.6,123.51 610.8,124.54 611,126.03 611.2,127.12 611.4,128.46 611.6,128.32 611.8,123.55 612,124.57 612.2,126.4 612.4,127.65 612.6,128.22 612.8,128.77 613,129.15 613.2,123.08 613.4,125.63 613.6,126.4 613.8,127.66 614,128.38 614.2,129.35 614.4,129.07 614.6,129.32 614.8,130.32 615,130.12 615.2,130.41 615.4,130.51 615.6,130.75 615.8,130.88 616,130.8 616.2,130.15 616.4,123.83 616.6,114.16 616.8,118.56 617,120.5 617.2,123.45 617.4,125.02 617.6,125.74 617.8,127.5 618,126.81 618.2,127.39 618.4,128.93 618.6,129.24 618.8,129.56 619,130.39 619.2,129.9 619.4,130.08 619.6,125.26 619.8,126.06 620,127.87 620.2,128.13 620.4,129.38 620.6,129.47 620.8,130.06 621,130.33 621.2,130.33 621.4,119.5 621.6,122.21 621.8,123.7 622,126.04 622.2,127.17 622.4,123.95 622.6,125.68 622.8,127.15 623,128.5 623.2,128.98 623.4,129.33 623.6,130.21 623.8,129.95 624,130.7 624.2,130.93 624.4,124.89 624.6,126.84 624.8,127.98 625,129.2 625.2,129.16 625.4,129.8 625.6,130.64 625.8,130.11 626,122.33 626.2,124.14 626.4,125.87 626.6,102.67 626.8,108.52 627,113.41 627.2,117.29 627.4,120.83 627.6,123.16 627.8,124.62 628,126.32 628.2,127.24 628.4,128.68 628.6,128.88 628.8,129.68 629,130.4 629.2,130.06 629.4,130.27 629.6,130.22 629.8,130.69 630,115.73 630.2,119.6 630.4,122.31 630.6,124.27 630.8,126.18 631,127.06 631.2,127.6 631.4,129.27 631.6,129.53 631.8,130.05 632,125.76 632.2,126.69 632.4,128.05 632.6,128.69 632.8,129.89 633,130.57 633.2,130.74 633.4,131.17 633.6,129.81 633.8,129.94 634,121.32 634.2,123.36 634.4,125.27 634.6,126.6 634.8,124.44 635,126.68 635.2,127.91 635.4,129.12 635.6,130.02 635.8,129.84 636,130.96 636.2,128.6 636.4,129.27 636.6,130.33 636.8,130.37 637,130.26 637.2,130.64 637.4,131.04 637.6,131.59 637.8,131.58 638,131.8 638.2,131.21 638.4,131.5 638.6,131.85 638.8,131.99 639,131.8 639.2,130.18 639.4,130.65 639.6,131.39 639.8,131.56 640,131.25 640.2,132.08 640.4,117.4 640.6,120.73 640.8,123.38 641,125.65 641.2,126.9 641.4,128.17 641.6,129.35 641.8,129.47 642,127.84 642.2,129.05 642.4,129.95 642.6,130.08 642.8,130.4 643,131.41 643.2,131.92 643.4,132.04 643.6,131.63 643.8,131.82 644,127.7 644.2,129.06 644.4,129.34 644.6,130.62 644.8,130.88 645,130.72 645.2,131.32 645.4,131.09 645.6,131.67 645.8,131.91 646,125.05 646.2,126.46 646.4,128.19 646.6,129.27 646.8,129.93 647,130.63 647.2,130.93 647.4,131.43 647.6,131.54 647.8,132.19 648,131.55 648.2,132.42 648.4,132.39 648.6,131.72 648.8,128.93 649,129.5 649.2,130.35 649.4,130.88 649.6,131.5 649.8,131.55 650,131.93 650.2,127.28 650.4,128.36 650.6,129.89 650.8,130.91 651,130.52 651.2,131.76 651.4,131.53 651.6,132.03 651.8,131.82 652,131.26 652.2,131.34 652.4,131.97 652.6,131.66 652.8,131.88 653,132.31 653.2,131.89 653.4,132.84 653.6,132.54 653.8,126.66 654,127.48 654.2,129.23 654.4,129.64 654.6,130.21 654.8,131.09 655,131.51 655.2,129.76 655.4,130.43 655.6,130.73 655.8,125.17 656,126.48 656.2,127.85 656.4,129.39 656.6,130.11 656.8,130.8 657,131.5 657.2,131.82 657.4,128.92 657.6,130.59 657.8,130.82 658,131.38 658.2,131.49 658.4,131.89 658.6,132.29 658.8,129.99 659,131.29 659.2,131.39 659.4,132.08 659.6,132.39 659.8,132.48 660,132.09 660.2,132.69 660.4,132.58 660.6,133.01 660.8,133.06 661,132.9" fill="none" stroke="#ff8080" stroke-width="0.6"/>
<polyline points="543.2,100.34 543.4,100.08 543.6,85.11 543.8,85.38 544,89.1 544.2,92.6 544.4,95.95 544.6,97.73 544.8,99.63 545,101.75 545.2,102.77 545.4,104.16 545.6,104.87 545.8,106.23 546,82.73 546.2,89.06 546.4,93.44 546.6,97.59 546.8,100.2 547,102.91 547.2,104.43 547.4,106.25 547.6,107.16 547.8,108.59 548,97.71 548.2,101.05 548.4,104.36 548.6,107.05 548.8,108.15 549,91.88 549.2,97.31 549.4,100.92 549.6,103.74 549.8,106.82 550,108.84 550.2,110.86 550.4,111.85 550.6,112.99 550.8,113.42 551,114.64 551.2,110.96 551.4,111.81 551.6,113.62 551.8,114.84 552,105.97 552.2,108.96 552.4,110.38 552.6,112.4 552.8,113.72 553,114.59 553.2,115.99 553.4,116.39 553.6,117.24 553.8,115.49 554,116.53 554.2,116.77 554.4,117.43 554.6,118.77 554.8,119.09 555,109.05 555.2,111.5 555.4,113.81 555.6,115.03 555.8,117.01 556,117.29 556.2,118.8 556.4,119.21 556.6,119.58 556.8,120.13 557,118.57 557.2,118.99 557.4,119.84 557.6,119.93 557.8,120.33 558,113.32 558.2,115.32 558.4,116.88 558.6,117.55 558.8,119.12 559,120.06 559.2,120.46 559.4,120.97 559.6,121.78 559.8,121.45 560,122.24 560.2,122.25 560.4,122.62 560.6,114.97 560.8,116.95 561,119.01 561.2,120.24 561.4,121.05 561.6,121.79 561.8,122.05 562,112.2 562.2,115.28 562.4,116.56 562.6,118.6 562.8,119.86 563,120.31 563.2,121.17 563.4,113.34 563.6,116.28 563.8,117.9 564,119.63 564.2,121.01 564.4,121.8 564.6,122.39 564.8,123.11 565,123.61 565.2,124.03 565.4,124.06 565.6,124.37 565.8,117.15 566,118.99 566.2,121.06 566.4,121.55 566.6,86.48 566.8,95.49 567,101.43 567.2,107.18 567.4,110.83 567.6,114.39 567.8,117.08 568,119.04 568.2,120.54 568.4,121.49 568.6,122.47 568.8,122.85 569,120.87 569.2,122.67 569.4,122.86 569.6,124.43 569.8,124.21 570,99.59 570.2,105.24 570.4,110.02 570.6,113.77 570.8,116.12 571,118.85 571.2,120.49 571.4,121.66 571.6,118.07 571.8,119.96 572,122.11 572.2,122.72 572.4,123.47 572.6,124.47 572.8,125.36 573,125.76 573.2,125.72 573.4,125.77 573.6,126.31 573.8,126.27 574,126.66 574.2,120.12 574.4,121.72 574.6,123.3 574.8,123.96 575,125.04 575.2,125.29 575.4,125.3 575.6,107.02 575.8,111.6 576,114.72 576.2,117.17 576.4,119.47 576.6,121.56 576.8,122.28 577,123.09 577.2,124.76 577.4,125.48 577.6,118.16 577.8,120.45 578,122.15 578.2,123.31 578.4,124.43 578.6,125.3 578.8,125.46 579,125.79 579.2,126.62 579.4,120.85 579.6,122.92 579.8,123.62 580,115.17 580.2,117.62 580.4,119.65 580.6,121.45 580.8,123.21 581,124.61 581.2,124.56 581.4,125.24 581.6,126.26 581.8,126.28 582,126.34 582.2,127.43 582.4,126.9 582.6,127.35 582.8,124.07 583,125.14 583.2,126.12 583.4,126.36 583.6,126.38 583.8,126.67 584,115.25 584.2,118.04 584.4,120.03 584.6,121.72 584.8,123.29 585,124.31 585.2,125.24 585.4,125.9 585.6,121.05 585.8,122.66 586,124.49 586.2,125.23 586.4,125.84 586.6,127.11 586.8,127.31 587,127.87 587.2,127.55 587.4,128.51 587.6,128.34 587.8,111.79 588,115.4 588.2,118.17 588.4,120.38 588.6,122.32 588.8,123.83 589,125.14 589.2,125.87 589.4,126.19 589.6,126.82 589.8,127.11 590,127.47 590.2,127.98 590.4,128.52 590.6,128.19 590.8,129.04 591,129.25 591.2,124.06 591.4,124.78 591.6,125.89 591.8,126.95 592,127.93 592.2,128.4 592.4,128.47 592.6,128.87 592.8,128.26 593,115.01 593.2,118.13 593.4,120.33 593.6,122.6 593.8,124.09 594,125.67 594.2,125.68 594.4,126.62 594.6,122.69 594.8,124.32 595,125.6 595.2,126.55 595.4,127.81 595.6,127.7 595.8,128.24 596,113.88 596.2,117.3 596.4,119.93 596.6,122.33 596.8,123.67 597,124.89 597.2,126.11 597.4,126.37 597.6,127.81 597.8,127.47 598,128.2 598.2,129.06 598.4,128.47 598.6,128.53 598.8,129.11 599,129.37 599.2,129.22 599.4,107.94 599.6,113.16 599.8,116.76 600,119.4 600.2,121.92 600.4,108.28 600.6,112.78 600.8,116.41 601,119.57 601.2,121.75 601.4,123.13 601.6,125.32 601.8,125.63 602,124.35 602.2,125.47 602.4,126.9 602.6,127.45 602.8,128.36 603,128.47 603.2,128.6 603.4,129.39 603.6,129.66 603.8,129.49 604,125.42 604.2,126.44 604.4,117.21 604.6,119.4 604.8,122.44 605,124.04 605.2,125.61 605.4,126.1 605.6,127.15 605.8,123.43 606,124.96 606.2,125.9 606.4,126.9 606.6,128.31 606.8,128.61 607,128.42 607.2,128.96 607.4,129.5 607.6,129.33 607.8,129.75 608,123.71 608.2,124.61 608.4,125.94 608.6,127.47 608.8,127.34 609,123.4 609.2,125.73 609.4,126.81 609.6,127.53 609.8,128.61 610,128.49 610.2,128.69 610.4,129.8 610.6,126.03 610.8,126.73 611,127.76 611.2,127.88 611.4,128.59 611.6,129.22 611.8,129.8 612,129.5 612.2,129.43 612.4,129.61 612.6,129.95 612.8,130.36 613,130.52 613.2,130.57 613.4,130.8 613.6,130.65 613.8,130.68 614,127.4 614.2,128.3 614.4,128.99 614.6,129.72 614.8,129.28 615,130.02 615.2,129.71 615.4,129.95 615.6,130.8 615.8,130.37 616,130.61 616.2,130.32 616.4,130.66 616.6,110.52 616.8,115.46 617,119.26 617.2,121.66 617.4,123.71 617.6,125.23 617.8,126.26 618,127.7 618.2,128.09 618.4,128.64 618.6,129.33 618.8,130.13 619,130.18 619.2,130.35 619.4,129.99 619.6,130.82 619.8,130.55 620,125.08 620.2,126.53 620.4,127.89 620.6,128 620.8,128.71 621,129.38 621.2,129.67 621.4,118.15 621.6,120.49 621.8,122.73 622,124.94 622.2,125.85 622.4,127.66 622.6,128.03 622.8,128.66 623,129.47 623.2,130.25 623.4,126.87 623.6,127.84 623.8,128.75 624,129.74 624.2,130.34 624.4,129.89 624.6,130.02 624.8,130.49 625,130.65 625.2,131.19 625.4,131.21 625.6,131.34 625.8,131.04 626,131.12 626.2,131.67 626.4,130.8 626.6,103.84 626.8,109.82 627,115.28 627.2,118.61 627.4,121.62 627.6,123.79 627.8,125.67 628,123.11 628.2,124.98 628.4,126.33 628.6,127.8 628.8,128.47 629,129.87 629.2,130.22 629.4,130.12 629.6,122.14 629.8,124.43 630,120.61 630.2,123.39 630.4,124.62 630.6,126.44 630.8,127.49 631,125.47 631.2,126.36 631.4,128.02 631.6,128.39 631.8,129.54 632,130.48 632.2,130.64 632.4,130.25 632.6,127.47 632.8,128.19 633,129.1 633.2,130.13 633.4,130.26 633.6,130.28 633.8,130.77 634,125.24 634.2,126.38 634.4,127.31 634.6,124.36 634.8,125.89 635,127.24 635.2,128.29 635.4,129.45 635.6,129.85 635.8,130.15 636,131.04 636.2,131.17 636.4,125.75 636.6,126.69 636.8,128.35 637,128.89 637.2,129.8 637.4,130.27 637.6,130.8 637.8,131.08 638,131.65 638.2,131.53 638.4,131.38 638.6,131.93 638.8,131.37 639,132.05 639.2,131.9 639.4,131.62 639.6,132.14 639.8,129.97 640,130.3 640.2,130.85 640.4,115.68 640.6,119.43 640.8,121.93 641,124.4 641.2,126.51 641.4,127.87 641.6,128.63 641.8,129.03 642,129.84 642.2,130.67 642.4,131.14 642.6,130.75 642.8,130.64 643,130.94 643.2,131.2 643.4,131.85 643.6,132.17 643.8,131.9 644,131.87 644.2,132.16 644.4,131.97 644.6,132.17 644.8,131.82 645,131.76 645.2,132.09 645.4,131.97 645.6,125.07 645.8,127.59 646,128.6 646.2,129.27 646.4,130.6 646.6,130.27 646.8,130.93 647,131.78 647.2,126.6 647.4,127.98 647.6,128.54 647.8,129.8 648,129.96 648.2,130.46 648.4,131.63 648.6,131.06 648.8,131.37 649,131.55 649.2,132.28 649.4,129.73 649.6,130.03 649.8,130.76 650,131.71 650.2,131.28 650.4,131.37 650.6,132.13 650.8,131.73 651,132.28 651.2,132.06 651.4,131.9 651.6,132.58 651.8,132.71 652,131.17 652.2,131.29 652.4,132.32 652.6,131.76 652.8,129.06 653,130.01 653.2,130.51 653.4,130.98 653.6,132.02 653.8,131.44 654,132.4 654.2,132.26 654.4,128.92 654.6,129.86 654.8,130.99 655,131.37 655.2,131.41 655.4,131.73 655.6,132.57 655.8,122.82 656,125 656.2,127.03 656.4,127.71 656.6,128.88 656.8,130.22 657,130.48 657.2,131 657.4,131.76 657.6,132.26 657.8,127.06 658,128.49 658.2,129.32 658.4,130.46 658.6,130.64 658.8,131.17 659,131.5 659.2,132.26 659.4,132.74 659.6,132.72 659.8,132.35 660,129.36 660.2,129.99 660.4,131.17 660.6,131.37 660.8,131.54 661,131.89" fill="none" stroke="#f22" stroke-width="0.5"/>
<rect x="437" y="90.4" width="44.5" height="70.1" fill="none" stroke="#1fae4b" stroke-width="3"/>
<line x1="543.5" y1="97.5" x2="488" y2="122.2" stroke="#1fae4b" stroke-width="1.5" />
<polygon points="482.1,124.8 487.0,118.6 490.4,126.1" fill="#1fae4b"/>
<line x1="452.2" y1="51" x2="463.7" y2="51" stroke="#f00" stroke-width="2" />
<text x="469.4" y="55.2" font-size="13.5" text-anchor="start" fill="#f00" font-weight="normal" textLength="97.6" lengthAdjust="spacingAndGlyphs" style="stroke:#f00" >Moderator shot</text>
<line x1="452.2" y1="69.5" x2="463.7" y2="69.5" stroke="#111" stroke-width="2" />
<text x="469.4" y="73.9" font-size="13.5" text-anchor="start" fill="#000" font-weight="normal" textLength="103.7" lengthAdjust="spacingAndGlyphs" style="stroke:#000" >Background shot</text>
<text x="669.8" y="146.9" font-size="22.5" text-anchor="start" fill="#000" font-weight="bold" style="stroke:#000" >c</text>
<line x1="427" y1="320.2" x2="431" y2="320.2" stroke="#262626" stroke-width="1.1" />
<line x1="428" y1="306.88" x2="431" y2="306.88" stroke="#262626" stroke-width="1.1" />
<line x1="428" y1="299.1" x2="431" y2="299.1" stroke="#262626" stroke-width="1.1" />
<line x1="428" y1="293.57" x2="431" y2="293.57" stroke="#262626" stroke-width="1.1" />
<line x1="428" y1="289.28" x2="431" y2="289.28" stroke="#262626" stroke-width="1.1" />
<line x1="428" y1="285.78" x2="431" y2="285.78" stroke="#262626" stroke-width="1.1" />
<line x1="428" y1="282.82" x2="431" y2="282.82" stroke="#262626" stroke-width="1.1" />
<line x1="428" y1="280.25" x2="431" y2="280.25" stroke="#262626" stroke-width="1.1" />
<line x1="428" y1="277.99" x2="431" y2="277.99" stroke="#262626" stroke-width="1.1" />
<line x1="427" y1="275.97" x2="431" y2="275.97" stroke="#262626" stroke-width="1.1" />
<line x1="428" y1="262.65" x2="431" y2="262.65" stroke="#262626" stroke-width="1.1" />
<line x1="428" y1="254.86" x2="431" y2="254.86" stroke="#262626" stroke-width="1.1" />
<line x1="428" y1="249.34" x2="431" y2="249.34" stroke="#262626" stroke-width="1.1" />
<line x1="428" y1="245.05" x2="431" y2="245.05" stroke="#262626" stroke-width="1.1" />
<line x1="428" y1="241.55" x2="431" y2="241.55" stroke="#262626" stroke-width="1.1" />
<line x1="428" y1="238.59" x2="431" y2="238.59" stroke="#262626" stroke-width="1.1" />
<line x1="428" y1="236.02" x2="431" y2="236.02" stroke="#262626" stroke-width="1.1" />
<line x1="428" y1="233.76" x2="431" y2="233.76" stroke="#262626" stroke-width="1.1" />
<line x1="427" y1="231.73" x2="431" y2="231.73" stroke="#262626" stroke-width="1.1" />
<line x1="428" y1="218.42" x2="431" y2="218.42" stroke="#262626" stroke-width="1.1" />
<line x1="428" y1="210.63" x2="431" y2="210.63" stroke="#262626" stroke-width="1.1" />
<line x1="428" y1="205.1" x2="431" y2="205.1" stroke="#262626" stroke-width="1.1" />
<line x1="428" y1="200.82" x2="431" y2="200.82" stroke="#262626" stroke-width="1.1" />
<line x1="428" y1="197.31" x2="431" y2="197.31" stroke="#262626" stroke-width="1.1" />
<line x1="428" y1="194.35" x2="431" y2="194.35" stroke="#262626" stroke-width="1.1" />
<line x1="428" y1="191.79" x2="431" y2="191.79" stroke="#262626" stroke-width="1.1" />
<line x1="428" y1="189.52" x2="431" y2="189.52" stroke="#262626" stroke-width="1.1" />
<line x1="427" y1="187.5" x2="431" y2="187.5" stroke="#262626" stroke-width="1.1" />
<line x1="430.9" y1="320.2" x2="430.9" y2="325.7" stroke="#262626" stroke-width="1.1" />
<line x1="474.92" y1="320.2" x2="474.92" y2="325.7" stroke="#262626" stroke-width="1.1" />
<line x1="488.17" y1="320.2" x2="488.17" y2="324.2" stroke="#262626" stroke-width="1.1" />
<line x1="495.92" y1="320.2" x2="495.92" y2="324.2" stroke="#262626" stroke-width="1.1" />
<line x1="501.42" y1="320.2" x2="501.42" y2="324.2" stroke="#262626" stroke-width="1.1" />
<line x1="505.69" y1="320.2" x2="505.69" y2="324.2" stroke="#262626" stroke-width="1.1" />
<line x1="509.17" y1="320.2" x2="509.17" y2="324.2" stroke="#262626" stroke-width="1.1" />
<line x1="512.12" y1="320.2" x2="512.12" y2="324.2" stroke="#262626" stroke-width="1.1" />
<line x1="514.67" y1="320.2" x2="514.67" y2="324.2" stroke="#262626" stroke-width="1.1" />
<line x1="516.93" y1="320.2" x2="516.93" y2="324.2" stroke="#262626" stroke-width="1.1" />
<line x1="518.94" y1="320.2" x2="518.94" y2="325.7" stroke="#262626" stroke-width="1.1" />
<line x1="562.96" y1="320.2" x2="562.96" y2="325.7" stroke="#262626" stroke-width="1.1" />
<line x1="576.21" y1="320.2" x2="576.21" y2="324.2" stroke="#262626" stroke-width="1.1" />
<line x1="583.96" y1="320.2" x2="583.96" y2="324.2" stroke="#262626" stroke-width="1.1" />
<line x1="589.46" y1="320.2" x2="589.46" y2="324.2" stroke="#262626" stroke-width="1.1" />
<line x1="593.73" y1="320.2" x2="593.73" y2="324.2" stroke="#262626" stroke-width="1.1" />
<line x1="597.21" y1="320.2" x2="597.21" y2="324.2" stroke="#262626" stroke-width="1.1" />
<line x1="600.16" y1="320.2" x2="600.16" y2="324.2" stroke="#262626" stroke-width="1.1" />
<line x1="602.71" y1="320.2" x2="602.71" y2="324.2" stroke="#262626" stroke-width="1.1" />
<line x1="604.97" y1="320.2" x2="604.97" y2="324.2" stroke="#262626" stroke-width="1.1" />
<line x1="606.98" y1="320.2" x2="606.98" y2="325.7" stroke="#262626" stroke-width="1.1" />
<line x1="620.23" y1="320.2" x2="620.23" y2="324.2" stroke="#262626" stroke-width="1.1" />
<line x1="627.98" y1="320.2" x2="627.98" y2="324.2" stroke="#262626" stroke-width="1.1" />
<line x1="633.48" y1="320.2" x2="633.48" y2="324.2" stroke="#262626" stroke-width="1.1" />
<line x1="637.75" y1="320.2" x2="637.75" y2="324.2" stroke="#262626" stroke-width="1.1" />
<line x1="641.23" y1="320.2" x2="641.23" y2="324.2" stroke="#262626" stroke-width="1.1" />
<line x1="644.18" y1="320.2" x2="644.18" y2="324.2" stroke="#262626" stroke-width="1.1" />
<line x1="646.73" y1="320.2" x2="646.73" y2="324.2" stroke="#262626" stroke-width="1.1" />
<line x1="648.99" y1="320.2" x2="648.99" y2="324.2" stroke="#262626" stroke-width="1.1" />
<line x1="651" y1="320.2" x2="651" y2="325.7" stroke="#262626" stroke-width="1.1" />
<line x1="664.25" y1="320.2" x2="664.25" y2="324.2" stroke="#262626" stroke-width="1.1" />
<line x1="672" y1="320.2" x2="672" y2="324.2" stroke="#262626" stroke-width="1.1" />
<line x1="677.5" y1="320.2" x2="677.5" y2="324.2" stroke="#262626" stroke-width="1.1" />
<line x1="681.77" y1="320.2" x2="681.77" y2="324.2" stroke="#262626" stroke-width="1.1" />
<line x1="685.25" y1="320.2" x2="685.25" y2="324.2" stroke="#262626" stroke-width="1.1" />
<line x1="688.2" y1="320.2" x2="688.2" y2="324.2" stroke="#262626" stroke-width="1.1" />
<line x1="690.75" y1="320.2" x2="690.75" y2="324.2" stroke="#262626" stroke-width="1.1" />
<line x1="693.01" y1="320.2" x2="693.01" y2="324.2" stroke="#262626" stroke-width="1.1" />
<line x1="695.02" y1="320.2" x2="695.02" y2="325.7" stroke="#262626" stroke-width="1.1" />
<text x="414.4" y="198.9" font-size="13.5" text-anchor="end">10</text>
<text x="413.8" y="194.4" font-size="10">6</text>
<text x="414.4" y="237" font-size="13.5" text-anchor="end">10</text>
<text x="413.8" y="232.5" font-size="10">5</text>
<text x="414.4" y="282" font-size="13.5" text-anchor="end">10</text>
<text x="413.8" y="277.5" font-size="10">4</text>
<text x="414.4" y="325.8" font-size="13.5" text-anchor="end">10</text>
<text x="413.8" y="321.3" font-size="10">3</text>
<text x="431.6" y="344.6" font-size="13.5" text-anchor="middle">10<tspan dy="-4.6" font-size="10">-4</tspan></text>
<text x="475.5" y="344.6" font-size="13.5" text-anchor="middle">10<tspan dy="-4.6" font-size="10">-3</tspan></text>
<text x="519.5" y="344.6" font-size="13.5" text-anchor="middle">10<tspan dy="-4.6" font-size="10">-2</tspan></text>
<text x="563" y="344.6" font-size="13.5" text-anchor="middle">10<tspan dy="-4.6" font-size="10">-1</tspan></text>
<text x="607.6" y="344.6" font-size="13.5" text-anchor="middle" fill="#000" font-weight="normal" style="stroke:#000" >1</text>
<text x="651.5" y="344.6" font-size="13.5" text-anchor="middle">10<tspan dy="-4.6" font-size="10">1</tspan></text>
<text x="695.3" y="344.6" font-size="13.5" text-anchor="middle">10<tspan dy="-4.6" font-size="10">2</tspan></text>
<text x="501.5" y="362.4" font-size="13.5" text-anchor="start" fill="#000" font-weight="normal" textLength="126.6" lengthAdjust="spacingAndGlyphs" style="stroke:#000" >Neutron Energy (eV)</text>
<text transform="translate(384.6,264) rotate(-90)" font-size="13.5" text-anchor="middle" textLength="127" lengthAdjust="spacingAndGlyphs">Flux (n/cm<tspan dy="-4.5" font-size="9.5">2</tspan><tspan dy="4.5">) at 20cm</tspan></text>
<line x1="475" y1="187.5" x2="475" y2="320.2" stroke="#a070e0" stroke-width="1.2" stroke-dasharray="3,3"/>
<line x1="536.6" y1="187.5" x2="536.6" y2="320.2" stroke="#8a4fd0" stroke-width="1.2" stroke-dasharray="3.5,3"/>
<line x1="594.1" y1="187.5" x2="594.1" y2="320.2" stroke="#c8906a" stroke-width="1.5" stroke-dasharray="4,3"/>
<path d="M465.5,216.19V248.23M462.2,216.19h6.6M462.2,248.23h6.6M468.1,205.16V239.41M464.8,205.16h6.6M464.8,239.41h6.6M470.8,208.65V248.1M467.5,208.65h6.6M467.5,248.1h6.6M481.8,208.7V246.62M478.5,208.7h6.6M478.5,246.62h6.6M489.3,212.43V244.79M486,212.43h6.6M486,244.79h6.6M495,219.85V252.85M491.7,219.85h6.6M491.7,252.85h6.6M500.1,213.48V247.3M496.8,213.48h6.6M496.8,247.3h6.6M502.6,205.21V241.14M499.3,205.21h6.6M499.3,241.14h6.6M505.5,208.58V245.27M502.2,208.58h6.6M502.2,245.27h6.6M508.9,218.08V253.62M505.6,218.08h6.6M505.6,253.62h6.6M511.3,223.04V257.45M508,223.04h6.6M508,257.45h6.6M513.9,214.01V249.35M510.6,214.01h6.6M510.6,249.35h6.6M516.6,231.49V270.54M513.3,231.49h6.6M513.3,270.54h6.6M518.7,221.03V255.83M515.4,221.03h6.6M515.4,255.83h6.6M521.4,217.46V253.12M518.1,217.46h6.6M518.1,253.12h6.6M524.2,221.09V259.85M520.9,221.09h6.6M520.9,259.85h6.6M526.9,223.49V258.49M523.6,223.49h6.6M523.6,258.49h6.6M529.6,225.51V258.12M526.3,225.51h6.6M526.3,258.12h6.6M532.4,225.54V259.76M529.1,225.54h6.6M529.1,259.76h6.6M535.3,215.13V256.79M532,215.13h6.6M532,256.79h6.6M537.8,216.69V256.87M534.5,216.69h6.6M534.5,256.87h6.6M540.5,226.61V261.44M537.2,226.61h6.6M537.2,261.44h6.6M543.3,229.38V266.75M540,229.38h6.6M540,266.75h6.6M546.1,236.15V271.42M542.8,236.15h6.6M542.8,271.42h6.6M549.4,235.58V269.99M546.1,235.58h6.6M546.1,269.99h6.6M553.2,237.4V269.98M549.9,237.4h6.6M549.9,269.98h6.6M556.4,239.04V278.69M553.1,239.04h6.6M553.1,278.69h6.6M559.2,243.12V277.9M555.9,243.12h6.6M555.9,277.9h6.6M562,237.45V276.93M558.7,237.45h6.6M558.7,276.93h6.6M564.8,238.35V273.35M561.5,238.35h6.6M561.5,273.35h6.6M567.6,237.81V273.65M564.3,237.81h6.6M564.3,273.65h6.6M570,235.96V275.43M566.7,235.96h6.6M566.7,275.43h6.6M572.4,238.86V275.99M569.1,238.86h6.6M569.1,275.99h6.6M575.1,239.66V274.71M571.8,239.66h6.6M571.8,274.71h6.6M577.7,246.61V276.99M574.4,246.61h6.6M574.4,276.99h6.6M580.2,246.38V280.6M576.9,246.38h6.6M576.9,280.6h6.6M582.4,251.85V287.65M579.1,251.85h6.6M579.1,287.65h6.6M584.8,253.97V286.8M581.5,253.97h6.6M581.5,286.8h6.6M587.5,256.7V286.45M584.2,256.7h6.6M584.2,286.45h6.6M589.4,256.17V289.57M586.1,256.17h6.6M586.1,289.57h6.6M591.4,258.32V293.28M588.1,258.32h6.6M588.1,293.28h6.6M594.6,267.2V299.39M591.3,267.2h6.6M591.3,299.39h6.6M597.7,266.41V306.06M594.4,266.41h6.6M594.4,306.06h6.6M600.8,273.73V303.79M597.5,273.73h6.6M597.5,303.79h6.6M602.5,276.6V311.28M599.2,276.6h6.6M599.2,311.28h6.6M603.8,283.72V320.2M600.5,283.72h6.6M600.5,320.2h6.6M606.6,280.07V315.24M603.3,280.07h6.6M603.3,315.24h6.6M609.7,289.83V320.2M606.4,289.83h6.6M606.4,320.2h6.6M613.1,287.33V320.2M609.8,287.33h6.6M609.8,320.2h6.6M618.3,297.12V320.2M615,297.12h6.6M615,320.2h6.6M623.4,301.91V320.2M620.1,301.91h6.6M620.1,320.2h6.6" fill="none" stroke="#999" stroke-width="1.1"/>
<polyline points="512.3,265.4 512.7,264.29 513.1,263.17 513.5,262.05 513.9,260.93 514.3,259.81 514.7,258.68 515.1,257.55 515.5,256.42 515.9,255.28 516.3,254.14 516.7,252.96 517.1,251.76 517.5,250.56 517.9,249.35 518.3,248.16 518.7,246.99 519.1,245.86 519.5,244.77 519.9,243.75 520.3,242.77 520.7,241.83 521.1,240.91 521.5,240.01 521.9,239.14 522.3,238.3 522.7,237.48 523.1,236.69 523.5,235.92 523.9,235.18 524.3,234.46 524.7,233.75 525.1,233.05 525.5,232.37 525.9,231.72 526.3,231.1 526.7,230.52 527.1,229.98 527.5,229.5 527.9,229.03 528.3,228.54 528.7,228.06 529.1,227.62 529.5,227.25 529.9,226.97 530.3,226.82 530.7,226.8 531.1,226.81 531.5,226.84 531.9,226.87 532.3,226.91 532.7,226.96 533.1,227.02 533.5,227.16 533.9,227.4 534.3,227.72 534.7,228.1 535.1,228.51 535.5,228.95 535.9,229.39 536.3,229.84 536.7,230.34 537.1,230.89 537.5,231.49 537.9,232.12 538.3,232.78 538.7,233.47 539.1,234.18 539.5,234.94 539.9,235.75 540.3,236.6 540.7,237.49 541.1,238.41 541.5,239.34 541.9,240.27 542.3,241.21 542.7,242.2 543.1,243.21 543.5,244.25 543.9,245.28 544.3,246.3 544.7,247.29 545.1,248.23 545.5,249.12 545.9,249.97 546.3,250.8 546.7,251.65 547.1,252.52 547.5,253.46 547.9,254.45 548.3,255.47 548.7,256.53 549.1,257.66 549.5,258.86 549.9,260.16 550.3,261.58 550.7,263.14 551.1,264.82 551.5,266.62 551.9,268.5 552.3,270.46 552.7,272.47 553.1,274.52 553.5,276.65 553.9,278.87 554.3,281.19 554.7,283.6 555.1,286.09 555.5,288.66 555.9,291.3" fill="none" stroke="#20b04c" stroke-width="2.9"/>
<polyline points="471.5,277 471.9,275.71 472.3,274.43 472.7,273.16 473.1,271.9 473.5,270.64 473.9,269.39 474.3,268.15 474.7,266.92 475.1,265.7 475.5,264.5 475.9,263.33 476.3,262.18 476.7,261.03 477.1,259.88 477.5,258.71 477.9,257.52 478.3,256.28 478.7,255 479.1,253.66 479.5,252.26 479.9,250.81 480.3,249.34 480.7,247.85 481.1,246.34 481.5,244.85 481.9,243.37 482.3,241.88 482.7,240.34 483.1,238.77 483.5,237.2 483.9,235.68 484.3,234.23 484.7,232.9 485.1,231.72 485.5,230.61 485.9,229.54 486.3,228.53 486.7,227.58 487.1,226.7 487.5,225.89 487.9,225.17 488.3,224.51 488.7,223.88 489.1,223.27 489.5,222.71 489.9,222.21 490.3,221.77 490.7,221.41 491.1,221.14 491.5,220.9 491.9,220.67 492.3,220.45 492.7,220.24 493.1,220.05 493.5,219.88 493.9,219.73 494.3,219.6 494.7,219.51 495.1,219.44 495.5,219.4 495.9,219.4 496.3,219.43 496.7,219.47 497.1,219.53 497.5,219.61 497.9,219.71 498.3,219.82 498.7,219.95 499.1,220.09 499.5,220.24 499.9,220.41 500.3,220.58 500.7,220.75 501.1,220.96 501.5,221.25 501.9,221.6 502.3,222.02 502.7,222.48 503.1,222.98 503.5,223.5 503.9,224.09 504.3,224.78 504.7,225.55 505.1,226.38 505.5,227.25 505.9,228.16 506.3,229.12 506.7,230.16 507.1,231.26 507.5,232.44 507.9,233.68 508.3,235.02 508.7,236.5 509.1,238.08 509.5,239.74 509.9,241.43 510.3,243.18 510.7,245 511.1,246.87 511.5,248.79 511.9,250.73 512.3,252.69 512.7,254.64 513.1,256.6 513.5,258.61 513.9,260.69 514.3,262.87 514.7,265.17 515.1,267.6 515.5,270.15 515.9,272.82 516.3,275.58" fill="none" stroke="#21a8e4" stroke-width="2.9"/>
<polyline points="522.7,253.95 523.5,251.81 524.3,253.58 525.1,259.23 525.9,260.7 526.7,262.59 527.5,260.67 528.3,258.42 529.1,258.06 529.9,257.97 530.7,258.16 531.5,257.49 532.3,256.01 533.1,256.42 533.9,257.86 534.7,255.72 535.5,255.05 536.3,253.56 537.1,253.35 537.9,253.98 538.7,254.81 539.5,252.49 540.3,251.94 541.1,251.22 541.9,250.85 542.7,248.96 543.5,249.24 544.3,247.05 545.1,246.27 545.9,245.69 546.7,245.19 547.5,246.29 548.3,248.95 549.1,249.76 549.9,251.11 550.7,253.36 551.5,253.81 552.3,253.74 553.1,252.07 553.9,250.21 554.7,251.39 555.5,250.54 556.3,252.5 557.1,251.61 557.9,251.7 558.7,251.58 559.5,250.32 560.3,250.24 561.1,251.27 561.9,251.72 562.7,251.87 563.5,252.58 564.3,253.78 565.1,254.5 565.9,253.42 566.7,254.9 567.5,255.52 568.3,255.03 569.1,254.09 569.9,255.17 570.7,253.91 571.5,255.43 572.3,256.36 573.1,254.36 573.9,256.15 574.7,256.51 575.5,256.73 576.3,256.72 577.1,257.2 577.9,257.15 578.7,257.98 579.5,258.39 580.3,258.25 581.1,258.44 581.9,258.86 582.7,259.3 583.5,259.58 584.3,259.77 585.1,260.07 585.9,259.84 586.7,259.59 587.5,260.98 588.3,261.5 589.1,260.77 589.9,261.27 590.7,261.84 591.5,262.31 592.3,262.45 593.1,262.91 593.9,262.69 594.7,263.09 595.5,263.34 596.3,263.29 597.1,264.15 597.9,264.27 598.7,264.71 599.5,264.55 600.3,265.35 601.1,264.95 601.9,265.76 602.7,265.04 603.5,265.91 604.3,266.82 605.1,266.73 605.9,267.26 606.7,266.96 607.5,268.36 608.3,268.35 609.1,268.46 609.9,268.94 610.7,269.23 611.5,269.93 612.3,269.84 613.1,269.59 613.9,270.33 614.7,271.18 615.5,271.26 616.3,271.25 617.1,271.93 617.9,272.08 618.7,272.57 619.5,272.1 620.3,272.62 621.1,273.43 621.9,273.41 622.7,273.88 623.5,274.71 624.3,274.21 625.1,274.71 625.9,274.9 626.7,275.34 627.5,275.99 628.3,275.99 629.1,276.23 629.9,277.88 630.7,277.85 631.5,278.73 632.3,278.72 633.1,279 633.9,279.46 634.7,279.76 635.5,279.38 636.3,280.48 637.1,280.02 637.9,280.7 638.7,281.78 639.5,281.21 640.3,282.04 641.1,281.63 641.9,282.23 642.7,282.32 643.5,282.72 644.3,282.57 645.1,282.81 645.9,283.48 646.7,283.08 647.5,283.57 648.3,284.32 649.1,284.14 649.9,284.29 650.7,284.46 651.5,285.14 652.3,285.21 653.1,285.63 653.9,285.76 654.7,286.71 655.5,286.17 656.3,285.9 657.1,286.85 657.9,287.05 658.7,287.34 659.5,286.98 660.3,288.15 661.1,287.99 661.9,288.22 662.7,287.93 663.5,288.87 664.3,288.92 665.1,289.64 665.9,289.27 666.7,289.22 667.5,289.93 668.3,289.81 669.1,290.49 669.9,290.22 670.7,290.78 671.5,290.99 672.3,291.3 673.1,291.38 673.9,291.52 674.7,292.02 675.5,292.09 676.3,292.58 677.1,292.68 677.9,292.25 678.7,293.24 679.5,293.98 680.3,293.85 681.1,294.2 681.9,294.39 682.7,294.29 683.5,294.22 684.3,295.16 685.1,295.46 685.9,295.51 686.7,295.68 687.5,295.88 688.3,295.95 689.1,296.27 689.9,296.4 690.7,296.72 691.5,296.5 692.3,296.83 693.1,297.45 693.9,297.36 694.7,296.87" fill="none" stroke="#13287a" stroke-width="2.1" stroke-linejoin="round"/>
<polyline points="465.5,225.7 468.1,216.2 470.8,221.6 481.8,222.6 489.3,223.6 495,232.4 500.1,222.8 502.6,215.2 505.5,221.6 508.9,232.7 511.3,233.9 513.9,228.8 516.6,244.1 518.7,230.9 521.4,230.6 524.2,233.3 526.9,235.3 529.6,237.9 532.4,239.4 535.3,230 537.8,230.6 540.5,239.3 543.3,242 546.1,246 549.4,246.4 553.2,248 556.4,253.3" fill="none" stroke="#000" stroke-width="2.3" stroke-linejoin="round"/>
<polyline points="572.4,249.8 575.1,253.3 577.7,256.9 580.2,260 582.4,262.5 584.8,264.8 587.5,266.1 589.4,268.6 591.4,273.1 594.6,278.1 597.7,280.8 600.8,283.4 602.5,286.1 603.8,297.2 606.6,292 609.7,302.4 613.1,301.1 618.3,310.2 623.4,312.2 626,320.5" fill="none" stroke="#000" stroke-width="2.3" stroke-linejoin="round"/>
<g fill="#fff" stroke="#000" stroke-width="1.2"><circle cx="465.5" cy="225.7" r="3.0"/><circle cx="468.1" cy="216.2" r="3.0"/><circle cx="470.8" cy="221.6" r="3.0"/><circle cx="481.8" cy="222.6" r="3.0"/><circle cx="489.3" cy="223.6" r="3.0"/><circle cx="495" cy="232.4" r="3.0"/><circle cx="500.1" cy="222.8" r="3.0"/><circle cx="502.6" cy="215.2" r="3.0"/><circle cx="505.5" cy="221.6" r="3.0"/><circle cx="508.9" cy="232.7" r="3.0"/><circle cx="511.3" cy="233.9" r="3.0"/><circle cx="513.9" cy="228.8" r="3.0"/><circle cx="516.6" cy="244.1" r="3.0"/><circle cx="518.7" cy="230.9" r="3.0"/><circle cx="521.4" cy="230.6" r="3.0"/><circle cx="524.2" cy="233.3" r="3.0"/><circle cx="526.9" cy="235.3" r="3.0"/><circle cx="529.6" cy="237.9" r="3.0"/><circle cx="532.4" cy="239.4" r="3.0"/><circle cx="535.3" cy="230" r="3.0"/><circle cx="537.8" cy="230.6" r="3.0"/><circle cx="540.5" cy="239.3" r="3.0"/><circle cx="543.3" cy="242" r="3.0"/><circle cx="546.1" cy="246" r="3.0"/><circle cx="549.4" cy="246.4" r="3.0"/><circle cx="553.2" cy="248" r="3.0"/><circle cx="556.4" cy="253.3" r="3.0"/><circle cx="572.4" cy="249.8" r="3.0"/><circle cx="575.1" cy="253.3" r="3.0"/><circle cx="577.7" cy="256.9" r="3.0"/><circle cx="580.2" cy="260" r="3.0"/><circle cx="582.4" cy="262.5" r="3.0"/><circle cx="584.8" cy="264.8" r="3.0"/><circle cx="587.5" cy="266.1" r="3.0"/><circle cx="589.4" cy="268.6" r="3.0"/><circle cx="591.4" cy="273.1" r="3.0"/><circle cx="594.6" cy="278.1" r="3.0"/><circle cx="597.7" cy="280.8" r="3.0"/><circle cx="600.8" cy="283.4" r="3.0"/><circle cx="602.5" cy="286.1" r="3.0"/><circle cx="603.8" cy="297.2" r="3.0"/><circle cx="606.6" cy="292" r="3.0"/><circle cx="609.7" cy="302.4" r="3.0"/><circle cx="613.1" cy="301.1" r="3.0"/><circle cx="618.3" cy="310.2" r="3.0"/><circle cx="623.4" cy="312.2" r="3.0"/></g>
<polyline points="478.7,244.02 479.5,235.12 480.3,231.86 481.1,227.71 481.9,224.77 482.7,221.08 483.5,224.46 484.3,229.63 485.1,234.38 485.9,236.14 486.7,238.66 487.5,237.03 488.3,233.73 489.1,232.47 489.9,232.53 490.7,234.65 491.5,233.51 492.3,232.56 493.1,231.68 493.9,230.42 494.7,228.56 495.5,228.04 496.3,228.54 497.1,228.89 497.9,230.07 498.7,229.26 499.5,227.55 500.3,225.61 501.1,222.98 501.9,220.99 502.7,218.2 503.5,216.81 504.3,213.82 505.1,214.49 505.9,214.14 506.7,212.71 507.5,215.08 508.3,215.08 509.1,216.55 509.9,216.31 510.7,216.31 511.5,217.49 512.3,217.46 513.1,218.72 513.9,219.32 514.7,219.55 515.5,219.04 516.3,216.51 517.1,215.8 517.9,216.03 518.7,218.5 519.5,219.75 520.3,221.23 521.1,219.91 521.9,221.33 522.7,218.51 523.5,217.95 524.3,217.59 525.1,219.48 525.9,218.83 526.7,220.27 527.5,218.91 528.3,219.1 529.1,218.09 529.9,218.31 530.7,218.58 531.5,219.48 532.3,221.54 533.1,221.83 533.9,223.57 534.7,226.24 535.5,226.21 536.3,229.43 537.1,228.96 537.9,228.89 538.7,229.84 539.5,230.33 540.3,231.36 541.1,233.61 541.9,236.16 542.7,237.76 543.5,238.89 544.3,240.07 545.1,241.27 545.9,240.52 546.7,240.35 547.5,239.33 548.3,239.22 549.1,239.94 549.9,238.96 550.7,239.26 551.5,239.89 552.3,241.94 553.1,240.14 553.9,242.22 554.7,242.95 555.5,244.01 556.3,246.7 557.1,247.27 557.9,248.32 558.7,248.56 559.5,250.48 560.3,251 561.1,252.32 561.9,253.47 562.7,253.75 563.5,255.07 564.3,256.32 565.1,255.12 565.9,253.28 566.7,250.63 567.5,251.76 568.3,252.03 569.1,251.53 569.9,251.64 570.7,252.61 571.5,251.99 572.3,253.57 573.1,253.01 573.9,253.7 574.7,254.87 575.5,254.56 576.3,256.05 577.1,256.93 577.9,256.25 578.7,258.08 579.5,257.62 580.3,258.75 581.1,259 581.9,259.04 582.7,259.43 583.5,259.11 584.3,260.14 585.1,260.5 585.9,262.38 586.7,262.41 587.5,261.36 588.3,263.03 589.1,263.02 589.9,263 590.7,263.87 591.5,264.41 592.3,263.93 593.1,264.49 593.9,265.18 594.7,264.9 595.5,266.03 596.3,266.29 597.1,266.44 597.9,266.87 598.7,268.09 599.5,268.97 600.3,269.12 601.1,269.09 601.9,270.36 602.7,270.62 603.5,271.33 604.3,272.08 605.1,271.59 605.9,272.42 606.7,272.68 607.5,273.03 608.3,274.88 609.1,274.89 609.9,274.14 610.7,275.67 611.5,275.72 612.3,276.97 613.1,276.83 613.9,277.07 614.7,277.57 615.5,278.05 616.3,278.24 617.1,278.48 617.9,278.88 618.7,279.54 619.5,279.09 620.3,279.93 621.1,280.2 621.9,280.34 622.7,281.23 623.5,280.6 624.3,281.35 625.1,281.47 625.9,282.67 626.7,282.75 627.5,283.54 628.3,284.24 629.1,283.87 629.9,285.37 630.7,285.36 631.5,286.14 632.3,286.59 633.1,287.36 633.9,287.65 634.7,288.46 635.5,288.05 636.3,288.08 637.1,288.39 637.9,289.26 638.7,290.01 639.5,289.73 640.3,289.6 641.1,290.3 641.9,290.6 642.7,290.8 643.5,290.74 644.3,290.2 645.1,291.48 645.9,292.6 646.7,292.58 647.5,291.83 648.3,293.24 649.1,292.75 649.9,294.91 650.7,294.45 651.5,294.19 652.3,295.52 653.1,295.18 653.9,296.21 654.7,296.36 655.5,296.2 656.3,297.46 657.1,296.92 657.9,298.55 658.7,298.29 659.5,298.12 660.3,298.09 661.1,300.03 661.9,300.29 662.7,299.36 663.5,301.06 664.3,300.73 665.1,300.94 665.9,301.39 666.7,301.7 667.5,302.89 668.3,302.69 669.1,302.15 669.9,304.38 670.7,304.21 671.5,303.7 672.3,304.45 673.1,304.6 673.9,305.45 674.7,306.02 675.5,306.35 676.3,306.37 677.1,306.68 677.9,307.92 678.7,307.94 679.5,309.5 680.3,308.53 681.1,309.74 681.9,309.86 682.7,309.94 683.5,311.4 684.3,311.37 685.1,311.44 685.9,312.25 686.7,313.41 687.5,312.91 688.3,314.67 689.1,314.92 689.9,315.24 690.7,316.77 691.5,317.73 692.3,317.96 693.1,318.53 693.9,320.09" fill="none" stroke="#f00" stroke-width="2.1" stroke-linejoin="round"/>
<text x="441" y="307.2" font-size="11.8" text-anchor="start" fill="#000" font-weight="bold" textLength="23.5" lengthAdjust="spacingAndGlyphs" style="stroke:#000" >VCN</text>
<text x="493.9" y="307.2" font-size="11.8" text-anchor="start" fill="#000" font-weight="bold" textLength="15.4" lengthAdjust="spacingAndGlyphs" style="stroke:#000" >CN</text>
<text x="533.7" y="307.2" font-size="11.8" text-anchor="start" fill="#000" font-weight="bold" textLength="6.5" lengthAdjust="spacingAndGlyphs" style="stroke:#000" >T</text>
<line x1="555.4" y1="193" x2="564.9" y2="193" stroke="#000" stroke-width="2" />
<text x="569.7" y="197.1" font-size="11.8" text-anchor="start" fill="#000" font-weight="bold" textLength="98.4" lengthAdjust="spacingAndGlyphs" style="stroke:#000" >Experimental Data</text>
<line x1="555.4" y1="209" x2="564.9" y2="209" stroke="#f00" stroke-width="2" />
<text x="569.7" y="212.7" font-size="11.8" text-anchor="start" fill="#f00" font-weight="bold" textLength="121" lengthAdjust="spacingAndGlyphs" style="stroke:#f00" >Simulation of Cold Cell</text>
<line x1="555.4" y1="224.6" x2="564.9" y2="224.6" stroke="#13287a" stroke-width="2" />
<text x="569.7" y="228.6" font-size="11.8" text-anchor="start" fill="#13287a" font-weight="bold" textLength="102" lengthAdjust="spacingAndGlyphs" style="stroke:#13287a" >Simulation of Wing</text>
<line x1="555.4" y1="239.3" x2="564.9" y2="239.3" stroke="#21a8e4" stroke-width="2" />
<text x="569.7" y="243.6" font-size="11.8" text-anchor="start" fill="#21a8e4" font-weight="bold" textLength="39.6" lengthAdjust="spacingAndGlyphs" style="stroke:#21a8e4" >Cold Fit</text>
<line x1="617.8" y1="239.3" x2="626.6" y2="239.3" stroke="#20b04c" stroke-width="2" />
<text x="630.2" y="243.6" font-size="11.8" text-anchor="start" fill="#20b04c" font-weight="bold" textLength="60.5" lengthAdjust="spacingAndGlyphs" style="stroke:#20b04c" >Thermal Fit</text>
<text x="669.8" y="310.7" font-size="22.5" text-anchor="start" fill="#000" font-weight="bold" style="stroke:#000" >d</text>
<rect x="431.0" y="187.5" width="264.2" height="132.7" fill="none" stroke="#3a3a3a" stroke-width="1.6"/>
</svg></body></html>
